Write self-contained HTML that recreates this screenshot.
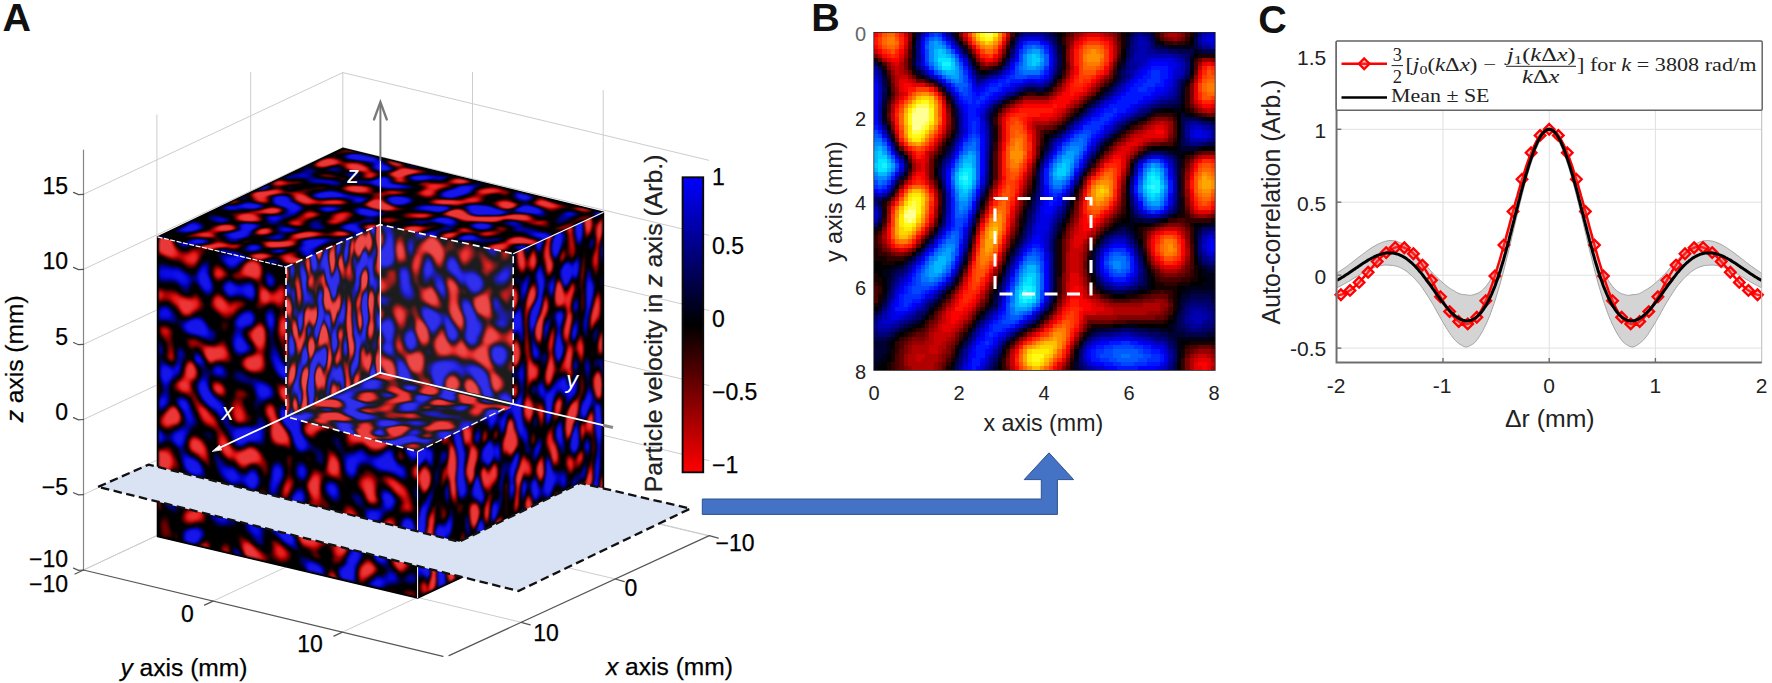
<!DOCTYPE html>
<html><head><meta charset="utf-8"><title>Figure</title><style>html,body{margin:0;padding:0;background:#fff;overflow:hidden}svg{display:block}</style></head><body>
<svg width="1772" height="683" viewBox="0 0 1772 683">
<defs>
<filter id="tTop" x="0" y="0" width="100%" height="100%" color-interpolation-filters="sRGB"><feTurbulence type="fractalNoise" baseFrequency="0.062 0.062" numOctaves="1" seed="11"/><feColorMatrix type="matrix" values="1 -1 0.6 -0.6 0.5 0 0 0 0 0 0 0 0 0 0 0 0 0 0 1" result="nR"/><feGaussianBlur in="nR" stdDeviation="10.5"/><feColorMatrix type="matrix" values="0 0 0 0 0 1 0 0 0 0 0 0 0 0 0 0 0 0 0 1" result="bG"/><feComposite operator="arithmetic" in="nR" in2="bG" k1="0" k2="1" k3="1" k4="0"/><feColorMatrix type="matrix" values="1.35 -1.35 0 0 0.5 1.35 -1.35 0 0 0.5 1.35 -1.35 0 0 0.5 0 0 0 0 1"/><feComponentTransfer><feFuncR type="table" tableValues="0.09 0.09 0.09 0.09 0.09 0.09 0.09 0.09 0.09 0.09 0.09 0.09 0.09 0.09 0.09 0.09 0.087 0.081 0.074 0.068 0.062 0.056 0.049 0.043 0.037 0.031 0.024 0.018 0.012 0.006 0 0 0 0 0 0 0 0 0 0 0 0 0 0 0 0 0 0 0 0 0 0 0 0 0 0 0 0 0.044 0.111 0.172 0.229 0.283 0.336 0.387 0.437 0.486 0.534 0.582 0.629 0.675 0.72 0.766 0.81 0.854 0.898 0.92 0.92 0.92 0.92 0.92 0.92 0.92 0.92 0.92 0.92 0.92 0.92 0.92 0.92 0.92 0.92 0.92 0.92 0.92 0.92 0.92 0.92 0.92 0.92 0.92"/><feFuncG type="table" tableValues="0.09 0.09 0.09 0.09 0.09 0.09 0.09 0.09 0.09 0.09 0.09 0.09 0.09 0.09 0.09 0.09 0.087 0.081 0.074 0.068 0.062 0.056 0.049 0.043 0.037 0.031 0.024 0.018 0.012 0.006 0 0 0 0 0 0 0 0 0 0 0 0 0 0 0 0 0 0 0 0 0 0 0 0 0 0 0 0 0 0 0 0 0 0 0 0 0 0 0 0 0 0.014 0.029 0.044 0.06 0.075 0.09 0.105 0.121 0.136 0.151 0.167 0.182 0.197 0.212 0.22 0.22 0.22 0.22 0.22 0.22 0.22 0.22 0.22 0.22 0.22 0.22 0.22 0.22 0.22 0.22"/><feFuncB type="table" tableValues="0.92 0.92 0.92 0.92 0.92 0.92 0.92 0.92 0.92 0.92 0.92 0.92 0.92 0.92 0.92 0.92 0.92 0.92 0.92 0.92 0.92 0.92 0.92 0.92 0.92 0.898 0.854 0.81 0.766 0.72 0.675 0.629 0.582 0.534 0.486 0.437 0.387 0.336 0.283 0.229 0.172 0.111 0.044 0 0 0 0 0 0 0 0 0 0 0 0 0 0 0 0 0 0 0 0 0 0 0 0 0 0 0 0 0.014 0.029 0.044 0.06 0.075 0.09 0.105 0.121 0.136 0.151 0.167 0.182 0.197 0.212 0.22 0.22 0.22 0.22 0.22 0.22 0.22 0.22 0.22 0.22 0.22 0.22 0.22 0.22 0.22 0.22"/></feComponentTransfer><feGaussianBlur stdDeviation="0.85"/></filter>
<filter id="tLeft" x="0" y="0" width="100%" height="100%" color-interpolation-filters="sRGB"><feTurbulence type="fractalNoise" baseFrequency="0.07 0.064" numOctaves="1" seed="5"/><feColorMatrix type="matrix" values="1 -1 0.6 -0.6 0.5 0 0 0 0 0 0 0 0 0 0 0 0 0 0 1" result="nR"/><feGaussianBlur in="nR" stdDeviation="9.5"/><feColorMatrix type="matrix" values="0 0 0 0 0 1 0 0 0 0 0 0 0 0 0 0 0 0 0 1" result="bG"/><feComposite operator="arithmetic" in="nR" in2="bG" k1="0" k2="1" k3="1" k4="0"/><feColorMatrix type="matrix" values="1.35 -1.35 0 0 0.5 1.35 -1.35 0 0 0.5 1.35 -1.35 0 0 0.5 0 0 0 0 1"/><feComponentTransfer><feFuncR type="table" tableValues="0.09 0.09 0.09 0.09 0.09 0.09 0.09 0.09 0.09 0.09 0.09 0.09 0.09 0.09 0.09 0.09 0.087 0.081 0.074 0.068 0.062 0.056 0.049 0.043 0.037 0.031 0.024 0.018 0.012 0.006 0 0 0 0 0 0 0 0 0 0 0 0 0 0 0 0 0 0 0 0 0 0 0 0 0 0 0 0 0.044 0.111 0.172 0.229 0.283 0.336 0.387 0.437 0.486 0.534 0.582 0.629 0.675 0.72 0.766 0.81 0.854 0.898 0.92 0.92 0.92 0.92 0.92 0.92 0.92 0.92 0.92 0.92 0.92 0.92 0.92 0.92 0.92 0.92 0.92 0.92 0.92 0.92 0.92 0.92 0.92 0.92 0.92"/><feFuncG type="table" tableValues="0.09 0.09 0.09 0.09 0.09 0.09 0.09 0.09 0.09 0.09 0.09 0.09 0.09 0.09 0.09 0.09 0.087 0.081 0.074 0.068 0.062 0.056 0.049 0.043 0.037 0.031 0.024 0.018 0.012 0.006 0 0 0 0 0 0 0 0 0 0 0 0 0 0 0 0 0 0 0 0 0 0 0 0 0 0 0 0 0 0 0 0 0 0 0 0 0 0 0 0 0 0.014 0.029 0.044 0.06 0.075 0.09 0.105 0.121 0.136 0.151 0.167 0.182 0.197 0.212 0.22 0.22 0.22 0.22 0.22 0.22 0.22 0.22 0.22 0.22 0.22 0.22 0.22 0.22 0.22 0.22"/><feFuncB type="table" tableValues="0.92 0.92 0.92 0.92 0.92 0.92 0.92 0.92 0.92 0.92 0.92 0.92 0.92 0.92 0.92 0.92 0.92 0.92 0.92 0.92 0.92 0.92 0.92 0.92 0.92 0.898 0.854 0.81 0.766 0.72 0.675 0.629 0.582 0.534 0.486 0.437 0.387 0.336 0.283 0.229 0.172 0.111 0.044 0 0 0 0 0 0 0 0 0 0 0 0 0 0 0 0 0 0 0 0 0 0 0 0 0 0 0 0 0.014 0.029 0.044 0.06 0.075 0.09 0.105 0.121 0.136 0.151 0.167 0.182 0.197 0.212 0.22 0.22 0.22 0.22 0.22 0.22 0.22 0.22 0.22 0.22 0.22 0.22 0.22 0.22 0.22 0.22"/></feComponentTransfer><feGaussianBlur stdDeviation="0.85"/></filter>
<filter id="tRight" x="0" y="0" width="100%" height="100%" color-interpolation-filters="sRGB"><feTurbulence type="fractalNoise" baseFrequency="0.095 0.052" numOctaves="1" seed="8"/><feColorMatrix type="matrix" values="1 -1 0.6 -0.6 0.5 0 0 0 0 0 0 0 0 0 0 0 0 0 0 1" result="nR"/><feGaussianBlur in="nR" stdDeviation="6.5 12"/><feColorMatrix type="matrix" values="0 0 0 0 0 1 0 0 0 0 0 0 0 0 0 0 0 0 0 1" result="bG"/><feComposite operator="arithmetic" in="nR" in2="bG" k1="0" k2="1" k3="1" k4="0"/><feColorMatrix type="matrix" values="1.65 -1.65 0 0 0.5 1.65 -1.65 0 0 0.5 1.65 -1.65 0 0 0.5 0 0 0 0 1"/><feComponentTransfer><feFuncR type="table" tableValues="0.09 0.09 0.09 0.09 0.09 0.09 0.09 0.09 0.09 0.09 0.09 0.09 0.09 0.09 0.09 0.09 0.087 0.081 0.074 0.068 0.062 0.056 0.049 0.043 0.037 0.031 0.024 0.018 0.012 0.006 0 0 0 0 0 0 0 0 0 0 0 0 0 0 0 0 0 0 0 0 0 0 0 0 0 0 0 0 0.044 0.111 0.172 0.229 0.283 0.336 0.387 0.437 0.486 0.534 0.582 0.629 0.675 0.72 0.766 0.81 0.854 0.898 0.92 0.92 0.92 0.92 0.92 0.92 0.92 0.92 0.92 0.92 0.92 0.92 0.92 0.92 0.92 0.92 0.92 0.92 0.92 0.92 0.92 0.92 0.92 0.92 0.92"/><feFuncG type="table" tableValues="0.09 0.09 0.09 0.09 0.09 0.09 0.09 0.09 0.09 0.09 0.09 0.09 0.09 0.09 0.09 0.09 0.087 0.081 0.074 0.068 0.062 0.056 0.049 0.043 0.037 0.031 0.024 0.018 0.012 0.006 0 0 0 0 0 0 0 0 0 0 0 0 0 0 0 0 0 0 0 0 0 0 0 0 0 0 0 0 0 0 0 0 0 0 0 0 0 0 0 0 0 0.014 0.029 0.044 0.06 0.075 0.09 0.105 0.121 0.136 0.151 0.167 0.182 0.197 0.212 0.22 0.22 0.22 0.22 0.22 0.22 0.22 0.22 0.22 0.22 0.22 0.22 0.22 0.22 0.22 0.22"/><feFuncB type="table" tableValues="0.92 0.92 0.92 0.92 0.92 0.92 0.92 0.92 0.92 0.92 0.92 0.92 0.92 0.92 0.92 0.92 0.92 0.92 0.92 0.92 0.92 0.92 0.92 0.92 0.92 0.898 0.854 0.81 0.766 0.72 0.675 0.629 0.582 0.534 0.486 0.437 0.387 0.336 0.283 0.229 0.172 0.111 0.044 0 0 0 0 0 0 0 0 0 0 0 0 0 0 0 0 0 0 0 0 0 0 0 0 0 0 0 0 0.014 0.029 0.044 0.06 0.075 0.09 0.105 0.121 0.136 0.151 0.167 0.182 0.197 0.212 0.22 0.22 0.22 0.22 0.22 0.22 0.22 0.22 0.22 0.22 0.22 0.22 0.22 0.22 0.22 0.22"/></feComponentTransfer><feGaussianBlur stdDeviation="0.85"/></filter>
<filter id="tInL" x="0" y="0" width="100%" height="100%" color-interpolation-filters="sRGB"><feTurbulence type="fractalNoise" baseFrequency="0.125 0.062" numOctaves="1" seed="21"/><feColorMatrix type="matrix" values="1 -1 0.6 -0.6 0.5 0 0 0 0 0 0 0 0 0 0 0 0 0 0 1" result="nR"/><feGaussianBlur in="nR" stdDeviation="5.5 10"/><feColorMatrix type="matrix" values="0 0 0 0 0 1 0 0 0 0 0 0 0 0 0 0 0 0 0 1" result="bG"/><feComposite operator="arithmetic" in="nR" in2="bG" k1="0" k2="1" k3="1" k4="0"/><feColorMatrix type="matrix" values="1.45 -1.45 0 0 0.5 1.45 -1.45 0 0 0.5 1.45 -1.45 0 0 0.5 0 0 0 0 1"/><feComponentTransfer><feFuncR type="table" tableValues="0.09 0.09 0.09 0.09 0.09 0.09 0.09 0.09 0.09 0.09 0.09 0.09 0.09 0.09 0.09 0.09 0.09 0.09 0.09 0.09 0.083 0.077 0.07 0.064 0.057 0.05 0.044 0.037 0.03 0.024 0.017 0.011 0.004 0 0 0 0 0 0 0 0 0 0 0 0 0 0 0 0 0 0 0 0 0 0 0 0.046 0.117 0.18 0.24 0.297 0.353 0.406 0.459 0.51 0.561 0.611 0.66 0.708 0.756 0.804 0.851 0.897 0.92 0.92 0.92 0.92 0.92 0.92 0.92 0.92 0.92 0.92 0.92 0.92 0.92 0.92 0.92 0.92 0.92 0.92 0.92 0.92 0.92 0.92 0.92 0.92 0.92 0.92 0.92 0.92"/><feFuncG type="table" tableValues="0.09 0.09 0.09 0.09 0.09 0.09 0.09 0.09 0.09 0.09 0.09 0.09 0.09 0.09 0.09 0.09 0.09 0.09 0.09 0.09 0.083 0.077 0.07 0.064 0.057 0.05 0.044 0.037 0.03 0.024 0.017 0.011 0.004 0 0 0 0 0 0 0 0 0 0 0 0 0 0 0 0 0 0 0 0 0 0 0 0 0 0 0 0 0 0 0 0 0 0 0 0.009 0.024 0.038 0.053 0.068 0.082 0.097 0.112 0.126 0.141 0.156 0.171 0.185 0.2 0.2 0.2 0.2 0.2 0.2 0.2 0.2 0.2 0.2 0.2 0.2 0.2 0.2 0.2 0.2 0.2 0.2 0.2 0.2"/><feFuncB type="table" tableValues="0.92 0.92 0.92 0.92 0.92 0.92 0.92 0.92 0.92 0.92 0.92 0.92 0.92 0.92 0.92 0.92 0.92 0.92 0.92 0.92 0.92 0.92 0.92 0.92 0.92 0.92 0.92 0.92 0.897 0.851 0.804 0.756 0.708 0.66 0.611 0.561 0.51 0.459 0.406 0.353 0.297 0.24 0.18 0.117 0.046 0 0 0 0 0 0 0 0 0 0 0 0 0 0 0 0 0 0 0 0 0 0 0 0.009 0.024 0.038 0.053 0.068 0.082 0.097 0.112 0.126 0.141 0.156 0.171 0.185 0.2 0.2 0.2 0.2 0.2 0.2 0.2 0.2 0.2 0.2 0.2 0.2 0.2 0.2 0.2 0.2 0.2 0.2 0.2 0.2"/></feComponentTransfer><feGaussianBlur stdDeviation="0.6"/></filter>
<filter id="tInR" x="0" y="0" width="100%" height="100%" color-interpolation-filters="sRGB"><feTurbulence type="fractalNoise" baseFrequency="0.08 0.062" numOctaves="1" seed="31"/><feColorMatrix type="matrix" values="1 -1 0.6 -0.6 0.5 0 0 0 0 0 0 0 0 0 0 0 0 0 0 1" result="nR"/><feGaussianBlur in="nR" stdDeviation="8 10"/><feColorMatrix type="matrix" values="0 0 0 0 0 1 0 0 0 0 0 0 0 0 0 0 0 0 0 1" result="bG"/><feComposite operator="arithmetic" in="nR" in2="bG" k1="0" k2="1" k3="1" k4="0"/><feColorMatrix type="matrix" values="1.7 -1.7 0 0 0.5 1.7 -1.7 0 0 0.5 1.7 -1.7 0 0 0.5 0 0 0 0 1"/><feComponentTransfer><feFuncR type="table" tableValues="0.09 0.09 0.09 0.09 0.09 0.09 0.09 0.09 0.09 0.09 0.09 0.09 0.09 0.09 0.09 0.09 0.09 0.09 0.09 0.09 0.083 0.077 0.07 0.064 0.057 0.05 0.044 0.037 0.03 0.024 0.017 0.011 0.004 0 0 0 0 0 0 0 0 0 0 0 0 0 0 0 0 0 0 0 0 0 0 0 0.046 0.117 0.18 0.24 0.297 0.353 0.406 0.459 0.51 0.561 0.611 0.66 0.708 0.756 0.804 0.851 0.897 0.92 0.92 0.92 0.92 0.92 0.92 0.92 0.92 0.92 0.92 0.92 0.92 0.92 0.92 0.92 0.92 0.92 0.92 0.92 0.92 0.92 0.92 0.92 0.92 0.92 0.92 0.92 0.92"/><feFuncG type="table" tableValues="0.09 0.09 0.09 0.09 0.09 0.09 0.09 0.09 0.09 0.09 0.09 0.09 0.09 0.09 0.09 0.09 0.09 0.09 0.09 0.09 0.083 0.077 0.07 0.064 0.057 0.05 0.044 0.037 0.03 0.024 0.017 0.011 0.004 0 0 0 0 0 0 0 0 0 0 0 0 0 0 0 0 0 0 0 0 0 0 0 0 0 0 0 0 0 0 0 0 0 0 0 0.009 0.024 0.038 0.053 0.068 0.082 0.097 0.112 0.126 0.141 0.156 0.171 0.185 0.2 0.2 0.2 0.2 0.2 0.2 0.2 0.2 0.2 0.2 0.2 0.2 0.2 0.2 0.2 0.2 0.2 0.2 0.2 0.2"/><feFuncB type="table" tableValues="0.92 0.92 0.92 0.92 0.92 0.92 0.92 0.92 0.92 0.92 0.92 0.92 0.92 0.92 0.92 0.92 0.92 0.92 0.92 0.92 0.92 0.92 0.92 0.92 0.92 0.92 0.92 0.92 0.897 0.851 0.804 0.756 0.708 0.66 0.611 0.561 0.51 0.459 0.406 0.353 0.297 0.24 0.18 0.117 0.046 0 0 0 0 0 0 0 0 0 0 0 0 0 0 0 0 0 0 0 0 0 0 0 0.009 0.024 0.038 0.053 0.068 0.082 0.097 0.112 0.126 0.141 0.156 0.171 0.185 0.2 0.2 0.2 0.2 0.2 0.2 0.2 0.2 0.2 0.2 0.2 0.2 0.2 0.2 0.2 0.2 0.2 0.2 0.2 0.2"/></feComponentTransfer><feGaussianBlur stdDeviation="0.6"/></filter>
<filter id="tFl" x="0" y="0" width="100%" height="100%" color-interpolation-filters="sRGB"><feTurbulence type="fractalNoise" baseFrequency="0.066 0.066" numOctaves="1" seed="41"/><feColorMatrix type="matrix" values="1 -1 0.6 -0.6 0.5 0 0 0 0 0 0 0 0 0 0 0 0 0 0 1" result="nR"/><feGaussianBlur in="nR" stdDeviation="9.5"/><feColorMatrix type="matrix" values="0 0 0 0 0 1 0 0 0 0 0 0 0 0 0 0 0 0 0 1" result="bG"/><feComposite operator="arithmetic" in="nR" in2="bG" k1="0" k2="1" k3="1" k4="0"/><feColorMatrix type="matrix" values="1.45 -1.45 0 0 0.5 1.45 -1.45 0 0 0.5 1.45 -1.45 0 0 0.5 0 0 0 0 1"/><feComponentTransfer><feFuncR type="table" tableValues="0.09 0.09 0.09 0.09 0.09 0.09 0.09 0.09 0.09 0.09 0.09 0.09 0.09 0.09 0.09 0.09 0.09 0.09 0.09 0.09 0.083 0.077 0.07 0.064 0.057 0.05 0.044 0.037 0.03 0.024 0.017 0.011 0.004 0 0 0 0 0 0 0 0 0 0 0 0 0 0 0 0 0 0 0 0 0 0 0 0.046 0.117 0.18 0.24 0.297 0.353 0.406 0.459 0.51 0.561 0.611 0.66 0.708 0.756 0.804 0.851 0.897 0.92 0.92 0.92 0.92 0.92 0.92 0.92 0.92 0.92 0.92 0.92 0.92 0.92 0.92 0.92 0.92 0.92 0.92 0.92 0.92 0.92 0.92 0.92 0.92 0.92 0.92 0.92 0.92"/><feFuncG type="table" tableValues="0.09 0.09 0.09 0.09 0.09 0.09 0.09 0.09 0.09 0.09 0.09 0.09 0.09 0.09 0.09 0.09 0.09 0.09 0.09 0.09 0.083 0.077 0.07 0.064 0.057 0.05 0.044 0.037 0.03 0.024 0.017 0.011 0.004 0 0 0 0 0 0 0 0 0 0 0 0 0 0 0 0 0 0 0 0 0 0 0 0 0 0 0 0 0 0 0 0 0 0 0 0.007 0.018 0.029 0.04 0.051 0.062 0.073 0.084 0.095 0.106 0.117 0.128 0.139 0.15 0.15 0.15 0.15 0.15 0.15 0.15 0.15 0.15 0.15 0.15 0.15 0.15 0.15 0.15 0.15 0.15 0.15 0.15 0.15"/><feFuncB type="table" tableValues="0.92 0.92 0.92 0.92 0.92 0.92 0.92 0.92 0.92 0.92 0.92 0.92 0.92 0.92 0.92 0.92 0.92 0.92 0.92 0.92 0.92 0.92 0.92 0.92 0.92 0.92 0.92 0.92 0.897 0.851 0.804 0.756 0.708 0.66 0.611 0.561 0.51 0.459 0.406 0.353 0.297 0.24 0.18 0.117 0.046 0 0 0 0 0 0 0 0 0 0 0 0 0 0 0 0 0 0 0 0 0 0 0 0.007 0.018 0.029 0.04 0.051 0.062 0.073 0.084 0.095 0.106 0.117 0.128 0.139 0.15 0.15 0.15 0.15 0.15 0.15 0.15 0.15 0.15 0.15 0.15 0.15 0.15 0.15 0.15 0.15 0.15 0.15 0.15 0.15"/></feComponentTransfer><feGaussianBlur stdDeviation="0.6"/></filter>
<filter id="soft" x="-5%" y="-5%" width="110%" height="110%"><feGaussianBlur stdDeviation="0.9"/></filter>
<clipPath id="cpT"><polygon points="0,0 200,0 200,100 100,100 100,200 0,200"/></clipPath>
<clipPath id="cpL"><polygon points="0,0 100,0 100,100 200,100 200,200 0,200"/></clipPath>
<clipPath id="cpR"><polygon points="100,0 200,0 200,200 0,200 0,100 100,100"/></clipPath>
<clipPath id="cpIL"><polygon points="0,0 100,0 100,100 0,100"/></clipPath>
<clipPath id="cpIR"><polygon points="0,0 100,0 100,100 0,100"/></clipPath>
<clipPath id="cpFL"><polygon points="0,0 100,0 100,100 0,100"/></clipPath>
<clipPath id="cpCube"><polygon points="157.6,236.9 342.7,148.3 603.5,212.2 603.5,511.5 417.6,598.0 157.5,536.5"/></clipPath>
<linearGradient id="cbar" x1="0" y1="0" x2="0" y2="1"><stop offset="0" stop-color="#0000ff"/><stop offset="0.5" stop-color="#000"/><stop offset="1" stop-color="#ff0000"/></linearGradient>
<filter id="hb" x="0" y="0" width="100%" height="100%"><feGaussianBlur stdDeviation="0.75"/></filter>
<clipPath id="cpC"><rect x="1330.8" y="41.3" width="436.9" height="321.2"/></clipPath>
</defs>
<g stroke="#cdcdcd" stroke-width="1" fill="none"><line x1="83.5" y1="194.3" x2="342.8" y2="72.6"/><line x1="83.5" y1="269.3" x2="342.8" y2="147.6"/><line x1="83.5" y1="344.4" x2="342.8" y2="222.7"/><line x1="83.5" y1="419.5" x2="342.8" y2="297.8"/><line x1="83.5" y1="494.6" x2="342.8" y2="372.9"/><line x1="83.5" y1="570.0" x2="342.8" y2="448.3"/><line x1="342.8" y1="72.6" x2="709.3" y2="160.4"/><line x1="342.8" y1="147.6" x2="709.3" y2="235.4"/><line x1="342.8" y1="222.7" x2="709.3" y2="310.5"/><line x1="342.8" y1="297.8" x2="709.3" y2="385.6"/><line x1="342.8" y1="372.9" x2="709.3" y2="460.7"/><line x1="342.8" y1="448.3" x2="709.3" y2="536.1"/><line x1="156.9" y1="114.5" x2="156.9" y2="536.5"/><line x1="250.7" y1="72" x2="250.7" y2="492"/><line x1="342.8" y1="72" x2="342.8" y2="448.3"/><line x1="472.5" y1="72" x2="472.5" y2="479.5"/><line x1="603.2" y1="90.1" x2="603.2" y2="511"/><line x1="157.6" y1="535.2" x2="521.2" y2="622.3"/><line x1="250.2" y1="491.8" x2="615.3" y2="579.0"/><line x1="342.8" y1="448.3" x2="709.3" y2="535.6"/><line x1="83.5" y1="570.0" x2="342.8" y2="448.3"/><line x1="213.0" y1="601.1" x2="473.7" y2="479.5"/><line x1="342.4" y1="632.1" x2="604.6" y2="510.7"/></g><g stroke="#555" stroke-width="1.2" fill="none" stroke-linecap="round"><line x1="83.5" y1="150" x2="83.5" y2="570.0" stroke="#858585"/><line x1="83.5" y1="570.0" x2="443.0" y2="656.3"/><line x1="449.0" y1="655.6" x2="709.3" y2="535.6"/><path d="M83.5 194.3 l-5 0.3 l-5 -2.2"/><path d="M83.5 269.3 l-5 0.3 l-5 -2.2"/><path d="M83.5 344.4 l-5 0.3 l-5 -2.2"/><path d="M83.5 419.5 l-5 0.3 l-5 -2.2"/><path d="M83.5 494.6 l-5 0.3 l-5 -2.2"/><path d="M83.5 570.0 l-5 0.3 l-5 -2.2"/><line x1="83.5" y1="570.0" x2="75.0" y2="574.0"/><line x1="213.0" y1="601.1" x2="204.5" y2="605.1"/><line x1="342.4" y1="632.1" x2="333.9" y2="636.1"/><line x1="521.2" y1="622.3" x2="530.2" y2="624.9"/><line x1="615.3" y1="579.0" x2="624.3" y2="581.6"/><line x1="709.3" y1="535.6" x2="718.3" y2="538.2"/></g>
<polygon points="157.6,236.9 342.7,148.3 603.5,212.2 603.5,511.5 417.6,598.0 157.5,536.5" fill="#000"/><g transform="matrix(1.3040 0.3195 -0.9255 0.4430 342.70 148.30)"><g clip-path="url(#cpT)"><rect x="-30" y="-30" width="260" height="260" fill="#200" filter="url(#tTop)"/></g></g><g transform="matrix(1.3000 0.3045 -0.0005 1.4980 157.60 236.90)"><g clip-path="url(#cpL)"><rect x="-30" y="-30" width="260" height="260" fill="#200" filter="url(#tLeft)"/></g></g><g transform="matrix(0.9295 -0.4280 0.0000 1.5010 417.60 297.80)"><g clip-path="url(#cpR)"><rect x="-30" y="-30" width="260" height="260" fill="#200" filter="url(#tRight)"/></g></g><g transform="matrix(0.9390 -0.4240 0.0000 1.4970 286.00 267.00)"><g clip-path="url(#cpIL)"><rect x="-30" y="-30" width="160" height="160" fill="#200" filter="url(#tInL)"/></g></g><g transform="matrix(1.3330 0.2910 0.0000 1.4820 379.90 224.60)"><g clip-path="url(#cpIR)"><rect x="-30" y="-30" width="160" height="160" fill="#200" filter="url(#tInR)"/></g></g><g transform="matrix(1.3160 0.3470 -0.9390 0.4390 379.90 372.80)"><g clip-path="url(#cpFL)"><rect x="-30" y="-30" width="160" height="160" fill="#200" filter="url(#tFl)"/></g></g><g clip-path="url(#cpCube)"><polygon points="157.6,236.9 342.7,148.3 603.5,212.2 603.5,511.5 417.6,598.0 157.5,536.5" fill="none" stroke="#000" stroke-width="3" stroke-opacity="0.85" stroke-linejoin="round" filter="url(#soft)"/></g><polygon points="157.6,236.9 342.7,148.3 603.5,212.2 603.5,511.5 417.6,598.0 157.5,536.5" fill="none" stroke="#000" stroke-width="1.4" stroke-linejoin="round"/>
<polygon points="286.0,267.0 379.9,224.6 513.2,253.7 511.5,407.5 417.6,451.6 286.0,416.7" fill="#fff" opacity="0.11"/>
<g fill="none" stroke="#fff" stroke-width="1.6" stroke-dasharray="7 4"><polyline points="286.0,267.0 379.9,224.6 513.2,253.7 513.2,403.5"/><line x1="157.6" y1="236.9" x2="286.0" y2="267.0" stroke-width="1.2" stroke-dasharray="5 1.5"/><polyline points="286.0,267.0 286.0,416.7 417.6,451.6"/></g><g fill="none" stroke="#fff" stroke-width="1.2"><line x1="513.2" y1="253.7" x2="603.5" y2="212.2"/><line x1="417.6" y1="451.6" x2="417.6" y2="598.0" stroke-width="1"/><line x1="417.6" y1="451.6" x2="505.5" y2="408.1" stroke-width="1.3" stroke-dasharray="7 3"/></g>
<g fill="none" stroke-linecap="round"><line x1="380.4" y1="372.8" x2="380.4" y2="160" stroke="#fff" stroke-width="1.3"/><line x1="380.4" y1="160" x2="380.4" y2="103" stroke="#787878" stroke-width="2"/><polyline points="374,119.5 380.4,102 386.8,119.5" stroke="#787878" stroke-width="2.3" stroke-linejoin="miter"/><line x1="379.9" y1="372.8" x2="216" y2="449.5" stroke="#fff" stroke-width="1.9"/><polygon points="212.5,451.2 219.5,445.2 221.5,449.6" fill="#fff" stroke="#fff" stroke-width="0.8"/><line x1="379.9" y1="372.8" x2="603" y2="425.2" stroke="#fff" stroke-width="1.9"/><line x1="603" y1="425.2" x2="613" y2="427.5" stroke="#8a8a8a" stroke-width="3.2" stroke-linecap="butt"/></g><g font-family='"Liberation Sans", Arial, sans-serif' font-style="italic" font-size="23.5" fill="#fff" text-anchor="middle"><text x="353" y="183">z</text><text x="227.5" y="419.5">x</text><text x="572" y="388">y</text></g>
<polygon points="98.1,486.9 148.6,464.6 459.2,541.8 580.2,483.0 690.3,508.6 518.5,591.0" fill="#dae3f3" stroke="#111" stroke-width="2.3" stroke-dasharray="8.5 4.5" stroke-linejoin="miter"/>
<rect x="682.6" y="177.3" width="20.6" height="295" fill="url(#cbar)" stroke="#0a0a0a" stroke-width="1.9"/>
<g font-family='"Liberation Sans", Arial, sans-serif' font-size="23" fill="#000" stroke="#000" stroke-width="0.25"><text x="712" y="184.6">1</text><text x="712" y="254.0">0.5</text><text x="712" y="327.1">0</text><text x="712" y="400.2">−0.5</text><text x="712" y="473.4">−1</text><text transform="translate(662,323.4) rotate(-90)" text-anchor="middle" fill="#222" font-size="24.8">Particle velocity in <tspan font-style="italic">z</tspan> axis (Arb.)</text><text x="68" y="194.3" text-anchor="end">15</text><text x="68" y="269.3" text-anchor="end">10</text><text x="68" y="344.6" text-anchor="end">5</text><text x="68" y="419.6" text-anchor="end">0</text><text x="68" y="494.6" text-anchor="end">−5</text><text x="68" y="567.1" text-anchor="end">−10</text><text x="68" y="592.1" text-anchor="end">−10</text><text x="187.5" y="622.1" text-anchor="middle">0</text><text x="310" y="652.1" text-anchor="middle">10</text><text x="546" y="640.6" text-anchor="middle">10</text><text x="631" y="596.1" text-anchor="middle">0</text><text x="735" y="551.0" text-anchor="middle">−10</text><text x="184" y="676" text-anchor="middle" font-size="24.6"><tspan font-style="italic">y</tspan> axis (mm)</text><text x="669.5" y="674.5" text-anchor="middle" font-size="24.6"><tspan font-style="italic">x</tspan> axis (mm)</text><text transform="translate(23,358.8) rotate(-90)" text-anchor="middle" font-size="24.6"><tspan font-style="italic">z</tspan> axis (mm)</text></g>
<polygon points="702.3,499.0 1041.3,499.0 1041.3,479.6 1024.2,479.6 1049.0,452.8 1073.6,479.6 1057.4,479.6 1057.4,514.4 702.3,514.4" fill="#4472c4" stroke="#2f528f" stroke-width="1"/>
<g filter="url(#hb)"><g transform="translate(873.8,32.4) scale(4.26750,4.22500)" shape-rendering="crispEdges"><rect width="80" height="80" fill="#000"/><path fill="#fd0000" d="M0 0h1v1h-1zM49 1h1v1h-1zM53 1h1v1h-1zM48 2h1v1h-1zM0 3h1v1h-1zM47 3h1v1h-1zM55 3h1v1h-1zM1 4h1v1h-1zM6 4h1v1h-1zM24 4h1v1h-1zM55 4h1v1h-1zM2 5h1v1h-1zM28 5h1v1h-1zM55 5h1v1h-1zM4 6h2v1h-2zM26 6h2v1h-2zM55 6h1v1h-1zM78 7h1v1h-1zM47 8h1v1h-1zM54 8h1v1h-1zM47 9h1v1h-1zM52 10h1v1h-1zM76 10h1v1h-1zM46 11h1v1h-1zM51 11h1v1h-1zM7 12h2v1h-2zM50 12h1v1h-1zM7 13h1v1h-1zM45 13h1v1h-1zM49 13h1v1h-1zM44 14h2v1h-2zM47 14h1v1h-1zM43 15h4v1h-4zM42 16h4v1h-4zM76 16h1v1h-1zM5 17h1v1h-1zM35 17h7v1h-7zM43 17h2v1h-2zM77 17h2v1h-2zM16 18h1v1h-1zM33 18h1v1h-1zM42 18h1v1h-1zM16 19h1v1h-1zM31 19h1v1h-1zM39 19h3v1h-3zM16 20h1v1h-1zM36 20h1v1h-1zM16 21h1v1h-1zM5 22h1v1h-1zM36 23h1v1h-1zM66 23h2v1h-2zM14 25h1v1h-1zM30 26h1v1h-1zM30 27h1v1h-1zM9 28h1v1h-1zM11 29h1v1h-1zM56 29h2v1h-2zM36 30h1v1h-1zM55 30h1v1h-1zM76 30h1v1h-1zM75 31h1v1h-1zM10 33h2v1h-2zM9 34h1v1h-1zM11 34h1v1h-1zM30 34h1v1h-1zM57 34h1v1h-1zM74 34h1v1h-1zM34 35h1v1h-1zM50 35h1v1h-1zM7 36h1v1h-1zM29 36h1v1h-1zM13 37h1v1h-1zM74 37h1v1h-1zM33 38h1v1h-1zM49 38h1v1h-1zM49 39h1v1h-1zM32 41h1v1h-1zM55 41h1v1h-1zM75 41h1v1h-1zM79 41h1v1h-1zM54 42h1v1h-1zM13 43h1v1h-1zM26 43h1v1h-1zM49 43h1v1h-1zM53 43h1v1h-1zM49 44h1v1h-1zM52 44h1v1h-1zM25 45h1v1h-1zM49 45h3v1h-3zM3 46h1v1h-1zM31 46h1v1h-1zM49 46h2v1h-2zM3 47h1v1h-1zM11 47h1v1h-1zM67 47h1v1h-1zM3 48h1v1h-1zM10 48h1v1h-1zM24 49h1v1h-1zM30 49h1v1h-1zM65 49h1v1h-1zM72 49h1v1h-1zM4 50h1v1h-1zM65 50h1v1h-1zM72 50h1v1h-1zM65 51h1v1h-1zM72 51h1v1h-1zM72 52h1v1h-1zM66 53h1v1h-1zM28 54h1v1h-1zM67 54h1v1h-1zM71 54h1v1h-1zM27 56h1v1h-1zM22 57h1v1h-1zM26 58h1v1h-1zM21 60h1v1h-1zM25 60h1v1h-1zM47 60h1v1h-1zM46 61h2v1h-2zM20 62h1v1h-1zM46 62h3v1h-3zM23 63h1v1h-1zM48 63h2v1h-2zM19 64h1v1h-1zM22 64h1v1h-1zM45 64h1v1h-1zM48 64h3v1h-3zM21 65h1v1h-1zM44 65h1v1h-1zM49 65h2v1h-2zM18 66h3v1h-3zM48 66h1v1h-1zM18 67h2v1h-2zM43 67h1v1h-1zM48 67h1v1h-1zM18 68h1v1h-1zM42 68h1v1h-1zM41 69h1v1h-1zM47 70h1v1h-1zM38 71h1v1h-1zM36 72h1v1h-1zM46 72h1v1h-1zM45 74h1v1h-1zM33 75h1v1h-1zM76 78h2v1h-2zM33 79h1v1h-1zM42 79h1v1h-1zM77 79h1v1h-1z"/><path fill="#ff2800" d="M1 0h1v1h-1zM6 1h1v1h-1zM6 2h1v1h-1zM49 2h1v1h-1zM53 2h1v1h-1zM1 3h1v1h-1zM48 3h1v1h-1zM54 3h1v1h-1zM2 4h1v1h-1zM5 4h1v1h-1zM4 5h1v1h-1zM26 5h1v1h-1zM54 7h1v1h-1zM79 8h1v1h-1zM52 9h1v1h-1zM77 9h1v1h-1zM51 10h1v1h-1zM47 11h1v1h-1zM49 11h2v1h-2zM47 12h2v1h-2zM8 14h1v1h-1zM14 14h1v1h-1zM76 14h1v1h-1zM76 15h1v1h-1zM77 16h2v1h-2zM5 19h1v1h-1zM33 19h3v1h-3zM34 20h1v1h-1zM31 21h1v1h-1zM15 22h1v1h-1zM31 22h1v1h-1zM35 22h1v1h-1zM31 23h1v1h-1zM14 24h1v1h-1zM31 24h1v1h-1zM31 25h1v1h-1zM7 26h1v1h-1zM36 26h1v1h-1zM36 27h1v1h-1zM10 28h1v1h-1zM77 30h2v1h-2zM35 31h1v1h-1zM55 31h2v1h-2zM34 33h1v1h-1zM10 35h1v1h-1zM33 35h1v1h-1zM12 36h1v1h-1zM30 36h1v1h-1zM33 36h1v1h-1zM50 36h1v1h-1zM56 37h1v1h-1zM13 38h1v1h-1zM29 38h1v1h-1zM56 38h1v1h-1zM32 39h1v1h-1zM75 39h1v1h-1zM5 40h1v1h-1zM13 40h1v1h-1zM28 40h1v1h-1zM55 40h1v1h-1zM76 41h3v1h-3zM4 42h1v1h-1zM27 42h1v1h-1zM53 42h1v1h-1zM31 43h1v1h-1zM50 43h1v1h-1zM52 43h1v1h-1zM26 44h1v1h-1zM11 46h1v1h-1zM4 49h1v1h-1zM66 49h1v1h-1zM71 49h1v1h-1zM5 50h1v1h-1zM7 50h1v1h-1zM29 50h1v1h-1zM24 51h1v1h-1zM66 52h1v1h-1zM28 53h1v1h-1zM67 53h1v1h-1zM71 53h1v1h-1zM68 54h2v1h-2zM23 55h1v1h-1zM27 55h1v1h-1zM25 58h1v1h-1zM22 59h1v1h-1zM22 60h1v1h-1zM24 60h1v1h-1zM22 61h2v1h-2zM21 62h2v1h-2zM21 63h1v1h-1zM46 65h2v1h-2zM45 66h1v1h-1zM47 66h1v1h-1zM44 67h1v1h-1zM47 67h1v1h-1zM43 68h1v1h-1zM47 68h1v1h-1zM46 70h1v1h-1zM39 71h1v1h-1zM37 72h1v1h-1zM45 73h1v1h-1zM44 75h1v1h-1zM33 77h1v1h-1zM43 77h1v1h-1zM42 78h1v1h-1z"/><path fill="#ff5200" d="M2 0h1v1h-1zM5 1h1v1h-1zM29 2h1v1h-1zM2 3h1v1h-1zM5 3h1v1h-1zM49 3h1v1h-1zM53 3h1v1h-1zM4 4h1v1h-1zM53 7h1v1h-1zM52 8h1v1h-1zM49 9h3v1h-3zM78 9h1v1h-1zM78 10h2v1h-2zM77 11h1v1h-1zM9 14h1v1h-1zM77 14h1v1h-1zM8 15h1v1h-1zM77 15h2v1h-2zM7 16h1v1h-1zM15 17h1v1h-1zM6 18h1v1h-1zM15 18h1v1h-1zM15 19h1v1h-1zM15 21h1v1h-1zM33 21h1v1h-1zM6 22h1v1h-1zM32 22h3v1h-3zM14 23h1v1h-1zM32 23h1v1h-1zM34 23h1v1h-1zM32 24h1v1h-1zM35 24h1v1h-1zM35 25h1v1h-1zM12 26h1v1h-1zM35 26h1v1h-1zM10 27h1v1h-1zM31 27h1v1h-1zM35 27h1v1h-1zM31 28h1v1h-1zM31 29h1v1h-1zM35 29h1v1h-1zM31 30h1v1h-1zM31 31h1v1h-1zM34 31h1v1h-1zM77 31h2v1h-2zM55 32h1v1h-1zM76 32h1v1h-1zM79 32h1v1h-1zM32 33h2v1h-2zM32 34h1v1h-1zM75 34h1v1h-1zM51 35h1v1h-1zM75 35h1v1h-1zM11 36h1v1h-1zM31 36h1v1h-1zM75 36h1v1h-1zM12 37h1v1h-1zM31 37h1v1h-1zM75 37h1v1h-1zM30 38h2v1h-2zM50 38h1v1h-1zM79 38h1v1h-1zM6 39h1v1h-1zM30 39h2v1h-2zM50 39h1v1h-1zM55 39h1v1h-1zM76 39h1v1h-1zM29 40h1v1h-1zM50 40h1v1h-1zM77 40h1v1h-1zM28 41h1v1h-1zM50 41h1v1h-1zM53 41h1v1h-1zM51 42h2v1h-2zM12 43h1v1h-1zM27 43h1v1h-1zM26 45h1v1h-1zM30 45h1v1h-1zM4 46h1v1h-1zM30 46h1v1h-1zM4 47h1v1h-1zM4 48h1v1h-1zM9 48h1v1h-1zM25 48h1v1h-1zM68 48h2v1h-2zM8 49h1v1h-1zM29 49h1v1h-1zM67 49h1v1h-1zM67 52h1v1h-1zM24 53h1v1h-1zM68 53h2v1h-2zM24 54h1v1h-1zM24 55h1v1h-1zM26 55h1v1h-1zM24 56h2v1h-2zM24 57h2v1h-2zM24 58h1v1h-1zM44 68h2v1h-2zM43 69h1v1h-1zM45 69h1v1h-1zM45 70h1v1h-1zM45 71h1v1h-1zM44 74h1v1h-1zM34 75h1v1h-1zM43 76h1v1h-1zM42 77h1v1h-1zM34 78h1v1h-1z"/><path fill="#ff6700" d="M3 0h2v1h-2zM2 1h1v1h-1zM23 1h1v1h-1zM2 2h1v1h-1zM5 2h1v1h-1zM3 3h2v1h-2zM28 3h1v1h-1zM50 3h3v1h-3zM26 4h2v1h-2zM49 4h1v1h-1zM53 4h1v1h-1zM53 6h1v1h-1zM49 7h1v1h-1zM49 8h3v1h-3zM78 11h2v1h-2zM77 12h1v1h-1zM77 13h1v1h-1zM13 14h1v1h-1zM78 14h2v1h-2zM14 15h1v1h-1zM6 19h1v1h-1zM6 20h1v1h-1zM15 20h1v1h-1zM6 21h1v1h-1zM33 23h1v1h-1zM13 24h1v1h-1zM33 24h2v1h-2zM7 25h1v1h-1zM32 25h1v1h-1zM32 26h1v1h-1zM35 28h1v1h-1zM32 32h2v1h-2zM77 32h2v1h-2zM54 33h2v1h-2zM76 33h1v1h-1zM79 33h1v1h-1zM53 34h1v1h-1zM55 34h1v1h-1zM9 36h2v1h-2zM79 37h1v1h-1zM76 38h1v1h-1zM77 39h2v1h-2zM30 40h1v1h-1zM54 40h1v1h-1zM5 41h1v1h-1zM29 41h2v1h-2zM51 41h2v1h-2zM12 42h1v1h-1zM28 42h1v1h-1zM30 42h1v1h-1zM30 43h1v1h-1zM30 44h1v1h-1zM11 45h1v1h-1zM29 48h1v1h-1zM5 49h1v1h-1zM25 49h1v1h-1zM70 49h1v1h-1zM25 50h1v1h-1zM67 50h1v1h-1zM70 50h1v1h-1zM28 51h1v1h-1zM67 51h1v1h-1zM70 52h1v1h-1zM27 53h1v1h-1zM26 54h1v1h-1zM25 55h1v1h-1zM44 69h1v1h-1zM42 70h1v1h-1zM41 71h1v1h-1zM39 72h1v1h-1zM37 73h1v1h-1zM44 73h1v1h-1zM35 74h1v1h-1zM43 75h1v1h-1zM34 76h1v1h-1zM34 77h1v1h-1zM41 78h1v1h-1zM35 79h1v1h-1zM40 79h1v1h-1z"/><path fill="#ff3d00" d="M5 0h1v1h-1zM22 0h1v1h-1zM30 0h1v1h-1zM1 1h1v1h-1zM1 2h1v1h-1zM23 2h1v1h-1zM50 2h3v1h-3zM24 3h1v1h-1zM3 4h1v1h-1zM25 4h1v1h-1zM28 4h1v1h-1zM48 4h1v1h-1zM54 4h1v1h-1zM27 5h1v1h-1zM48 5h1v1h-1zM54 5h1v1h-1zM48 6h1v1h-1zM54 6h1v1h-1zM48 7h1v1h-1zM48 8h1v1h-1zM53 8h1v1h-1zM78 8h1v1h-1zM48 9h1v1h-1zM79 9h1v1h-1zM48 10h3v1h-3zM77 10h1v1h-1zM48 11h1v1h-1zM76 12h1v1h-1zM10 13h3v1h-3zM76 13h1v1h-1zM79 15h1v1h-1zM15 16h1v1h-1zM6 17h1v1h-1zM32 20h2v1h-2zM32 21h1v1h-1zM34 21h1v1h-1zM6 23h1v1h-1zM35 23h1v1h-1zM6 24h1v1h-1zM13 25h1v1h-1zM31 26h1v1h-1zM9 27h1v1h-1zM11 27h1v1h-1zM35 30h1v1h-1zM76 31h1v1h-1zM79 31h1v1h-1zM31 32h1v1h-1zM34 32h1v1h-1zM54 32h1v1h-1zM56 32h1v1h-1zM31 33h1v1h-1zM53 33h1v1h-1zM56 33h1v1h-1zM75 33h1v1h-1zM31 34h1v1h-1zM33 34h1v1h-1zM52 34h1v1h-1zM56 34h1v1h-1zM31 35h2v1h-2zM56 35h1v1h-1zM8 36h1v1h-1zM32 36h1v1h-1zM56 36h1v1h-1zM7 37h1v1h-1zM30 37h1v1h-1zM32 37h1v1h-1zM50 37h1v1h-1zM32 38h1v1h-1zM75 38h1v1h-1zM13 39h1v1h-1zM29 39h1v1h-1zM79 39h1v1h-1zM31 40h1v1h-1zM76 40h1v1h-1zM78 40h1v1h-1zM31 41h1v1h-1zM54 41h1v1h-1zM31 42h1v1h-1zM50 42h1v1h-1zM4 43h1v1h-1zM51 43h1v1h-1zM4 44h1v1h-1zM12 44h1v1h-1zM4 45h1v1h-1zM10 47h1v1h-1zM25 47h1v1h-1zM30 47h1v1h-1zM67 48h1v1h-1zM70 48h1v1h-1zM6 50h1v1h-1zM66 50h1v1h-1zM71 50h1v1h-1zM66 51h1v1h-1zM71 51h1v1h-1zM24 52h1v1h-1zM28 52h1v1h-1zM71 52h1v1h-1zM70 53h1v1h-1zM27 54h1v1h-1zM23 56h1v1h-1zM26 56h1v1h-1zM23 57h1v1h-1zM23 58h1v1h-1zM23 59h2v1h-2zM23 60h1v1h-1zM46 66h1v1h-1zM45 67h2v1h-2zM46 68h1v1h-1zM42 69h1v1h-1zM46 69h1v1h-1zM41 70h1v1h-1zM40 71h1v1h-1zM38 72h1v1h-1zM45 72h1v1h-1zM36 73h1v1h-1zM34 79h1v1h-1zM41 79h1v1h-1z"/><path fill="#ff1300" d="M6 0h1v1h-1zM0 1h1v1h-1zM22 1h1v1h-1zM30 1h1v1h-1zM50 1h3v1h-3zM0 2h1v1h-1zM54 2h1v1h-1zM6 3h1v1h-1zM29 3h1v1h-1zM47 4h1v1h-1zM3 5h1v1h-1zM5 5h1v1h-1zM25 5h1v1h-1zM47 5h1v1h-1zM47 6h1v1h-1zM47 7h1v1h-1zM77 8h1v1h-1zM53 9h1v1h-1zM47 10h1v1h-1zM76 11h1v1h-1zM46 12h1v1h-1zM49 12h1v1h-1zM8 13h2v1h-2zM13 13h1v1h-1zM46 13h3v1h-3zM46 14h1v1h-1zM7 15h1v1h-1zM15 15h1v1h-1zM6 16h1v1h-1zM79 16h1v1h-1zM42 17h1v1h-1zM5 18h1v1h-1zM34 18h8v1h-8zM32 19h1v1h-1zM36 19h3v1h-3zM5 20h1v1h-1zM31 20h1v1h-1zM35 20h1v1h-1zM5 21h1v1h-1zM35 21h1v1h-1zM15 23h1v1h-1zM36 24h1v1h-1zM6 25h1v1h-1zM36 25h1v1h-1zM13 26h1v1h-1zM8 27h1v1h-1zM12 27h1v1h-1zM11 28h1v1h-1zM30 28h1v1h-1zM36 28h1v1h-1zM10 29h1v1h-1zM30 29h1v1h-1zM36 29h1v1h-1zM30 30h1v1h-1zM56 30h2v1h-2zM79 30h1v1h-1zM30 31h1v1h-1zM54 31h1v1h-1zM57 31h1v1h-1zM30 32h1v1h-1zM35 32h1v1h-1zM53 32h1v1h-1zM57 32h1v1h-1zM75 32h1v1h-1zM30 33h1v1h-1zM52 33h1v1h-1zM57 33h1v1h-1zM10 34h1v1h-1zM34 34h1v1h-1zM51 34h1v1h-1zM9 35h1v1h-1zM11 35h1v1h-1zM30 35h1v1h-1zM74 35h1v1h-1zM74 36h1v1h-1zM29 37h1v1h-1zM33 37h1v1h-1zM6 38h1v1h-1zM28 39h1v1h-1zM56 39h1v1h-1zM32 40h1v1h-1zM49 40h1v1h-1zM75 40h1v1h-1zM79 40h1v1h-1zM4 41h1v1h-1zM13 41h1v1h-1zM27 41h1v1h-1zM49 41h1v1h-1zM13 42h1v1h-1zM49 42h1v1h-1zM31 44h1v1h-1zM50 44h2v1h-2zM12 45h1v1h-1zM31 45h1v1h-1zM25 46h1v1h-1zM68 47h3v1h-3zM30 48h1v1h-1zM66 48h1v1h-1zM71 48h1v1h-1zM9 49h1v1h-1zM8 50h1v1h-1zM24 50h1v1h-1zM29 51h1v1h-1zM23 54h1v1h-1zM70 54h1v1h-1zM26 57h1v1h-1zM22 58h1v1h-1zM25 59h1v1h-1zM21 61h1v1h-1zM24 61h1v1h-1zM23 62h1v1h-1zM20 63h1v1h-1zM22 63h1v1h-1zM46 63h2v1h-2zM20 64h2v1h-2zM46 64h2v1h-2zM19 65h2v1h-2zM45 65h1v1h-1zM48 65h1v1h-1zM44 66h1v1h-1zM47 69h1v1h-1zM40 70h1v1h-1zM46 71h1v1h-1zM35 73h1v1h-1zM34 74h1v1h-1zM33 76h1v1h-1zM44 76h1v1h-1zM33 78h1v1h-1z"/><path fill="#ca0000" d="M7 0h1v1h-1zM31 0h1v1h-1zM49 0h1v1h-1zM53 0h1v1h-1zM55 1h1v1h-1zM7 3h1v1h-1zM0 4h1v1h-1zM46 4h1v1h-1zM46 5h1v1h-1zM6 6h1v1h-1zM25 6h1v1h-1zM28 6h1v1h-1zM46 6h1v1h-1zM4 7h1v1h-1zM46 7h1v1h-1zM55 7h1v1h-1zM5 8h1v1h-1zM76 8h1v1h-1zM5 9h1v1h-1zM46 9h1v1h-1zM6 10h2v1h-2zM53 10h1v1h-1zM8 11h1v1h-1zM45 11h1v1h-1zM52 11h1v1h-1zM51 12h1v1h-1zM14 13h1v1h-1zM44 13h1v1h-1zM50 13h1v1h-1zM6 14h1v1h-1zM15 14h1v1h-1zM43 14h1v1h-1zM49 14h1v1h-1zM42 15h1v1h-1zM5 16h1v1h-1zM16 16h1v1h-1zM35 16h6v1h-6zM46 16h1v1h-1zM75 16h1v1h-1zM33 17h1v1h-1zM45 17h1v1h-1zM76 17h1v1h-1zM44 18h1v1h-1zM78 18h1v1h-1zM4 19h1v1h-1zM43 19h1v1h-1zM4 20h1v1h-1zM41 20h2v1h-2zM67 21h1v1h-1zM65 22h1v1h-1zM68 22h1v1h-1zM16 23h1v1h-1zM37 23h1v1h-1zM63 23h1v1h-1zM68 23h1v1h-1zM37 24h1v1h-1zM61 24h2v1h-2zM68 24h1v1h-1zM37 25h1v1h-1zM60 25h1v1h-1zM63 25h2v1h-2zM6 26h1v1h-1zM14 26h1v1h-1zM37 26h1v1h-1zM62 26h1v1h-1zM7 27h1v1h-1zM37 27h1v1h-1zM57 27h1v1h-1zM60 27h1v1h-1zM12 28h1v1h-1zM37 28h1v1h-1zM56 28h1v1h-1zM59 28h1v1h-1zM12 29h1v1h-1zM55 29h1v1h-1zM77 29h3v1h-3zM12 30h1v1h-1zM54 30h1v1h-1zM75 30h1v1h-1zM10 31h1v1h-1zM36 31h1v1h-1zM53 31h1v1h-1zM10 32h1v1h-1zM52 32h1v1h-1zM58 32h1v1h-1zM74 32h1v1h-1zM9 33h1v1h-1zM12 34h1v1h-1zM35 34h1v1h-1zM29 35h1v1h-1zM13 36h1v1h-1zM28 37h1v1h-1zM34 37h1v1h-1zM57 37h1v1h-1zM57 38h1v1h-1zM14 39h1v1h-1zM4 40h1v1h-1zM14 40h1v1h-1zM33 40h1v1h-1zM74 40h1v1h-1zM48 41h1v1h-1zM26 42h1v1h-1zM48 42h1v1h-1zM55 42h1v1h-1zM75 42h1v1h-1zM48 43h1v1h-1zM54 43h1v1h-1zM32 44h1v1h-1zM53 44h1v1h-1zM52 45h1v1h-1zM12 46h1v1h-1zM47 46h1v1h-1zM51 46h1v1h-1zM68 46h3v1h-3zM47 47h1v1h-1zM50 47h1v1h-1zM72 48h1v1h-1zM46 49h1v1h-1zM9 50h1v1h-1zM30 50h1v1h-1zM46 50h1v1h-1zM48 50h1v1h-1zM5 51h1v1h-1zM7 51h1v1h-1zM46 51h3v1h-3zM23 52h1v1h-1zM46 52h2v1h-2zM29 53h1v1h-1zM46 53h2v1h-2zM46 54h2v1h-2zM66 54h1v1h-1zM72 54h1v1h-1zM22 55h1v1h-1zM28 55h1v1h-1zM46 55h2v1h-2zM67 55h1v1h-1zM71 55h1v1h-1zM46 56h2v1h-2zM27 57h1v1h-1zM21 58h1v1h-1zM48 58h1v1h-1zM26 59h1v1h-1zM45 59h1v1h-1zM48 59h1v1h-1zM45 60h1v1h-1zM25 61h1v1h-1zM45 61h1v1h-1zM49 61h1v1h-1zM19 62h1v1h-1zM45 62h1v1h-1zM49 62h1v1h-1zM24 63h1v1h-1zM51 63h1v1h-1zM18 64h1v1h-1zM44 64h1v1h-1zM52 64h2v1h-2zM17 65h1v1h-1zM54 65h2v1h-2zM43 66h1v1h-1zM52 66h4v1h-4zM16 67h1v1h-1zM21 67h1v1h-1zM42 67h1v1h-1zM16 68h1v1h-1zM20 68h1v1h-1zM41 68h1v1h-1zM15 69h1v1h-1zM19 69h1v1h-1zM40 69h1v1h-1zM48 69h1v1h-1zM15 70h1v1h-1zM18 70h1v1h-1zM39 70h1v1h-1zM14 71h4v1h-4zM37 71h1v1h-1zM47 71h1v1h-1zM14 72h3v1h-3zM14 73h2v1h-2zM34 73h1v1h-1zM46 73h1v1h-1zM13 74h2v1h-2zM33 74h1v1h-1zM13 75h2v1h-2zM10 76h2v1h-2zM32 76h1v1h-1zM76 76h2v1h-2zM10 77h1v1h-1zM32 77h1v1h-1zM75 77h1v1h-1zM32 78h1v1h-1zM79 78h1v1h-1zM43 79h1v1h-1z"/><path fill="#7e0000" d="M8 0h1v1h-1zM20 0h1v1h-1zM56 0h1v1h-1zM72 0h1v1h-1zM8 1h1v1h-1zM46 1h1v1h-1zM69 1h1v1h-1zM71 1h1v1h-1zM22 3h1v1h-1zM30 4h1v1h-1zM45 4h1v1h-1zM0 5h1v1h-1zM45 5h1v1h-1zM7 6h1v1h-1zM24 6h1v1h-1zM29 6h1v1h-1zM45 6h1v1h-1zM79 6h1v1h-1zM7 7h1v1h-1zM25 7h1v1h-1zM28 7h1v1h-1zM3 8h1v1h-1zM7 8h1v1h-1zM45 9h1v1h-1zM55 9h1v1h-1zM4 10h1v1h-1zM4 11h1v1h-1zM44 11h1v1h-1zM13 12h1v1h-1zM74 12h1v1h-1zM74 13h1v1h-1zM74 14h1v1h-1zM35 15h6v1h-6zM49 15h1v1h-1zM74 15h1v1h-1zM4 16h1v1h-1zM33 16h1v1h-1zM48 16h1v1h-1zM74 16h1v1h-1zM47 17h1v1h-1zM17 18h1v1h-1zM30 18h1v1h-1zM29 19h1v1h-1zM66 20h3v1h-3zM42 21h1v1h-1zM64 21h1v1h-1zM4 22h1v1h-1zM17 22h1v1h-1zM29 22h1v1h-1zM38 22h2v1h-2zM29 23h1v1h-1zM38 23h1v1h-1zM29 24h1v1h-1zM38 24h1v1h-1zM59 24h1v1h-1zM69 24h1v1h-1zM5 25h1v1h-1zM29 25h1v1h-1zM38 25h1v1h-1zM58 25h1v1h-1zM15 26h1v1h-1zM38 26h1v1h-1zM64 26h1v1h-1zM62 27h1v1h-1zM61 28h1v1h-1zM8 29h1v1h-1zM13 29h1v1h-1zM60 29h1v1h-1zM75 29h1v1h-1zM74 30h1v1h-1zM52 31h1v1h-1zM59 31h1v1h-1zM51 32h1v1h-1zM73 32h1v1h-1zM36 34h1v1h-1zM28 35h1v1h-1zM49 35h1v1h-1zM58 35h1v1h-1zM6 36h1v1h-1zM35 37h1v1h-1zM27 38h1v1h-1zM48 38h1v1h-1zM4 39h1v1h-1zM73 39h1v1h-1zM34 40h1v1h-1zM73 40h1v1h-1zM57 41h1v1h-1zM47 42h1v1h-1zM25 43h1v1h-1zM33 43h1v1h-1zM47 43h1v1h-1zM75 43h1v1h-1zM78 43h1v1h-1zM46 45h1v1h-1zM69 45h3v1h-3zM2 46h1v1h-1zM32 47h1v1h-1zM45 47h1v1h-1zM64 47h1v1h-1zM73 47h1v1h-1zM45 48h1v1h-1zM51 48h1v1h-1zM73 48h1v1h-1zM50 49h1v1h-1zM2 50h1v1h-1zM31 50h1v1h-1zM3 51h1v1h-1zM5 52h2v1h-2zM30 52h1v1h-1zM49 52h1v1h-1zM64 52h1v1h-1zM49 53h1v1h-1zM73 54h1v1h-1zM49 56h1v1h-1zM72 56h1v1h-1zM28 57h1v1h-1zM44 57h1v1h-1zM49 57h1v1h-1zM68 57h3v1h-3zM44 58h1v1h-1zM20 59h1v1h-1zM27 59h1v1h-1zM44 59h1v1h-1zM44 60h1v1h-1zM50 60h1v1h-1zM26 61h1v1h-1zM44 61h1v1h-1zM50 61h1v1h-1zM18 62h1v1h-1zM52 62h1v1h-1zM25 63h1v1h-1zM54 63h1v1h-1zM63 63h3v1h-3zM68 63h1v1h-1zM43 64h1v1h-1zM16 65h1v1h-1zM68 65h1v1h-1zM15 66h1v1h-1zM23 66h1v1h-1zM42 66h1v1h-1zM67 66h1v1h-1zM41 67h1v1h-1zM57 67h9v1h-9zM14 68h1v1h-1zM40 68h1v1h-1zM13 69h1v1h-1zM39 69h1v1h-1zM49 69h1v1h-1zM20 70h1v1h-1zM12 71h1v1h-1zM19 71h1v1h-1zM9 72h3v1h-3zM34 72h1v1h-1zM8 73h1v1h-1zM18 73h1v1h-1zM33 73h1v1h-1zM7 74h1v1h-1zM17 74h1v1h-1zM7 75h1v1h-1zM17 75h1v1h-1zM75 75h1v1h-1zM79 75h1v1h-1zM16 76h1v1h-1zM16 77h1v1h-1zM31 77h1v1h-1zM45 77h1v1h-1zM73 77h1v1h-1zM15 78h1v1h-1zM31 78h1v1h-1zM73 78h1v1h-1zM7 79h1v1h-1zM15 79h1v1h-1zM44 79h1v1h-1zM73 79h1v1h-1z"/><path fill="#190000" d="M9 0h1v1h-1zM19 0h1v1h-1zM44 0h1v1h-1zM58 0h1v1h-1zM74 0h1v1h-1zM32 1h1v1h-1zM58 1h1v1h-1zM66 1h1v1h-1zM58 2h1v1h-1zM73 2h1v1h-1zM21 3h1v1h-1zM44 3h1v1h-1zM58 3h1v1h-1zM31 4h1v1h-1zM44 4h1v1h-1zM44 5h1v1h-1zM76 5h4v1h-4zM0 6h1v1h-1zM23 6h1v1h-1zM30 6h1v1h-1zM44 6h1v1h-1zM44 7h1v1h-1zM57 7h1v1h-1zM2 8h1v1h-1zM28 8h1v1h-1zM44 8h1v1h-1zM9 9h1v1h-1zM10 10h1v1h-1zM56 10h1v1h-1zM74 10h1v1h-1zM3 11h1v1h-1zM3 12h1v1h-1zM42 12h1v1h-1zM73 12h1v1h-1zM41 13h1v1h-1zM53 13h1v1h-1zM35 14h1v1h-1zM38 14h2v1h-2zM52 14h1v1h-1zM3 15h1v1h-1zM17 15h1v1h-1zM33 15h1v1h-1zM51 15h1v1h-1zM31 16h1v1h-1zM50 16h1v1h-1zM18 18h1v1h-1zM73 18h1v1h-1zM18 19h1v1h-1zM28 19h1v1h-1zM65 19h1v1h-1zM70 19h1v1h-1zM75 19h1v1h-1zM28 22h1v1h-1zM43 22h1v1h-1zM18 23h1v1h-1zM28 23h1v1h-1zM41 23h1v1h-1zM58 23h1v1h-1zM4 24h1v1h-1zM28 24h1v1h-1zM57 24h1v1h-1zM17 25h1v1h-1zM28 25h1v1h-1zM56 25h1v1h-1zM55 26h1v1h-1zM70 26h1v1h-1zM16 27h1v1h-1zM39 27h1v1h-1zM54 27h1v1h-1zM64 27h1v1h-1zM53 28h1v1h-1zM14 30h1v1h-1zM38 30h1v1h-1zM72 30h1v1h-1zM8 31h1v1h-1zM14 31h1v1h-1zM72 31h1v1h-1zM50 32h1v1h-1zM14 34h1v1h-1zM37 34h1v1h-1zM59 34h1v1h-1zM4 38h1v1h-1zM26 38h1v1h-1zM36 38h1v1h-1zM47 38h1v1h-1zM3 39h1v1h-1zM72 39h1v1h-1zM2 40h1v1h-1zM72 40h1v1h-1zM2 41h1v1h-1zM25 41h1v1h-1zM35 41h1v1h-1zM46 41h1v1h-1zM72 41h1v1h-1zM2 42h1v1h-1zM72 42h1v1h-1zM2 43h1v1h-1zM15 43h1v1h-1zM58 43h1v1h-1zM71 43h2v1h-2zM34 44h1v1h-1zM45 44h1v1h-1zM57 44h1v1h-1zM79 44h1v1h-1zM34 45h1v1h-1zM65 45h1v1h-1zM74 45h1v1h-1zM1 46h1v1h-1zM44 46h1v1h-1zM62 46h1v1h-1zM0 47h1v1h-1zM23 47h1v1h-1zM62 47h1v1h-1zM33 48h1v1h-1zM62 48h1v1h-1zM43 49h1v1h-1zM32 50h1v1h-1zM43 50h1v1h-1zM51 50h1v1h-1zM0 51h1v1h-1zM22 51h1v1h-1zM43 51h1v1h-1zM0 52h1v1h-1zM31 52h1v1h-1zM43 52h1v1h-1zM63 52h1v1h-1zM0 53h3v1h-3zM7 53h1v1h-1zM43 53h1v1h-1zM50 53h1v1h-1zM2 54h3v1h-3zM43 54h1v1h-1zM50 54h1v1h-1zM43 55h1v1h-1zM50 55h1v1h-1zM64 55h1v1h-1zM75 55h1v1h-1zM43 56h1v1h-1zM50 56h1v1h-1zM75 56h1v1h-1zM0 57h1v1h-1zM20 57h1v1h-1zM29 57h1v1h-1zM43 57h1v1h-1zM65 57h1v1h-1zM75 57h1v1h-1zM0 58h2v1h-2zM74 58h2v1h-2zM1 59h1v1h-1zM19 59h1v1h-1zM51 59h1v1h-1zM66 59h2v1h-2zM71 59h3v1h-3zM66 60h5v1h-5zM64 61h1v1h-1zM70 61h1v1h-1zM1 62h1v1h-1zM27 62h1v1h-1zM55 62h1v1h-1zM59 62h3v1h-3zM70 62h1v1h-1zM1 63h1v1h-1zM70 63h1v1h-1zM0 64h1v1h-1zM15 64h1v1h-1zM26 64h1v1h-1zM70 64h1v1h-1zM14 65h1v1h-1zM70 65h1v1h-1zM69 67h1v1h-1zM23 68h1v1h-1zM68 68h1v1h-1zM11 69h1v1h-1zM51 69h5v1h-5zM9 70h1v1h-1zM50 70h1v1h-1zM7 71h1v1h-1zM21 71h1v1h-1zM34 71h1v1h-1zM49 71h1v1h-1zM74 73h6v1h-6zM19 74h1v1h-1zM31 74h1v1h-1zM4 75h1v1h-1zM72 75h1v1h-1zM4 76h1v1h-1zM30 76h1v1h-1zM72 76h1v1h-1zM4 77h1v1h-1zM18 77h1v1h-1zM3 78h1v1h-1zM46 78h1v1h-1zM3 79h1v1h-1zM17 79h1v1h-1zM46 79h1v1h-1z"/><path fill="#00004c" d="M10 0h1v1h-1zM18 0h1v1h-1zM41 0h1v1h-1zM60 0h1v1h-1zM42 1h1v1h-1zM65 1h1v1h-1zM75 1h1v1h-1zM75 2h1v1h-1zM20 3h1v1h-1zM66 3h1v1h-1zM75 3h1v1h-1zM59 4h1v1h-1zM71 4h4v1h-4zM77 4h3v1h-3zM43 5h1v1h-1zM59 5h1v1h-1zM22 6h1v1h-1zM31 6h1v1h-1zM43 6h1v1h-1zM0 7h1v1h-1zM43 7h1v1h-1zM1 8h1v1h-1zM23 8h1v1h-1zM58 8h1v1h-1zM28 9h1v1h-1zM12 10h1v1h-1zM25 10h1v1h-1zM42 10h1v1h-1zM73 10h1v1h-1zM2 11h1v1h-1zM14 11h1v1h-1zM57 11h1v1h-1zM72 11h1v1h-1zM2 12h1v1h-1zM56 12h1v1h-1zM35 13h1v1h-1zM38 13h2v1h-2zM55 13h1v1h-1zM2 14h1v1h-1zM33 14h1v1h-1zM54 14h1v1h-1zM2 15h1v1h-1zM31 15h1v1h-1zM53 15h1v1h-1zM71 15h1v1h-1zM71 16h1v1h-1zM28 17h1v1h-1zM67 17h3v1h-3zM19 18h1v1h-1zM19 19h1v1h-1zM48 19h1v1h-1zM63 19h1v1h-1zM47 20h1v1h-1zM61 20h1v1h-1zM72 20h4v1h-4zM46 21h1v1h-1zM59 21h1v1h-1zM72 21h1v1h-1zM79 21h1v1h-1zM27 22h1v1h-1zM72 22h1v1h-1zM27 23h1v1h-1zM72 23h1v1h-1zM27 24h1v1h-1zM55 24h1v1h-1zM72 24h1v1h-1zM27 25h1v1h-1zM41 25h1v1h-1zM54 25h1v1h-1zM72 25h1v1h-1zM18 26h1v1h-1zM27 26h1v1h-1zM53 26h1v1h-1zM72 26h1v1h-1zM78 26h2v1h-2zM17 28h1v1h-1zM64 28h1v1h-1zM68 28h1v1h-1zM51 29h1v1h-1zM70 29h1v1h-1zM39 30h1v1h-1zM7 32h1v1h-1zM15 32h1v1h-1zM49 32h1v1h-1zM15 33h1v1h-1zM38 33h1v1h-1zM38 34h1v1h-1zM5 35h1v1h-1zM38 35h1v1h-1zM26 36h1v1h-1zM16 37h1v1h-1zM3 38h1v1h-1zM46 38h1v1h-1zM37 39h1v1h-1zM45 40h1v1h-1zM60 41h1v1h-1zM16 42h1v1h-1zM36 42h1v1h-1zM70 42h1v1h-1zM16 43h1v1h-1zM36 43h1v1h-1zM44 43h1v1h-1zM61 43h1v1h-1zM1 44h1v1h-1zM63 44h3v1h-3zM35 46h1v1h-1zM58 46h1v1h-1zM56 47h1v1h-1zM59 47h1v1h-1zM76 47h1v1h-1zM22 48h1v1h-1zM42 48h1v1h-1zM54 48h1v1h-1zM60 48h1v1h-1zM34 49h1v1h-1zM53 49h1v1h-1zM11 51h1v1h-1zM10 52h1v1h-1zM21 52h1v1h-1zM62 52h1v1h-1zM9 53h1v1h-1zM76 53h1v1h-1zM51 54h1v1h-1zM20 55h1v1h-1zM31 55h1v1h-1zM51 55h1v1h-1zM78 55h2v1h-2zM5 56h1v1h-1zM63 56h1v1h-1zM4 57h1v1h-1zM63 57h1v1h-1zM4 58h1v1h-1zM52 58h1v1h-1zM63 58h1v1h-1zM18 59h1v1h-1zM63 59h1v1h-1zM17 60h1v1h-1zM29 60h1v1h-1zM3 61h1v1h-1zM16 61h1v1h-1zM56 61h3v1h-3zM15 62h1v1h-1zM74 62h5v1h-5zM14 63h1v1h-1zM28 63h1v1h-1zM73 63h1v1h-1zM79 63h1v1h-1zM2 64h1v1h-1zM13 64h1v1h-1zM28 64h1v1h-1zM72 64h1v1h-1zM27 65h1v1h-1zM72 65h1v1h-1zM26 66h1v1h-1zM71 67h1v1h-1zM9 68h1v1h-1zM71 68h1v1h-1zM7 69h1v1h-1zM71 69h1v1h-1zM23 70h1v1h-1zM34 70h1v1h-1zM55 70h3v1h-3zM61 70h3v1h-3zM71 70h2v1h-2zM79 70h1v1h-1zM4 71h1v1h-1zM51 71h1v1h-1zM67 71h2v1h-2zM73 71h5v1h-5zM0 72h3v1h-3zM69 72h1v1h-1zM21 73h1v1h-1zM70 73h1v1h-1zM70 74h1v1h-1zM20 75h1v1h-1zM19 78h1v1h-1zM28 78h1v1h-1zM70 78h1v1h-1zM48 79h1v1h-1zM70 79h1v1h-1z"/><path fill="#0000b1" d="M11 0h1v1h-1zM77 0h1v1h-1zM34 1h1v1h-1zM62 1h2v1h-2zM62 2h2v1h-2zM77 2h1v1h-1zM19 3h1v1h-1zM33 3h1v1h-1zM62 3h2v1h-2zM79 3h1v1h-1zM62 4h2v1h-2zM61 5h9v1h-9zM32 6h1v1h-1zM42 6h1v1h-1zM61 6h3v1h-3zM71 6h1v1h-1zM62 7h1v1h-1zM72 7h1v1h-1zM11 8h1v1h-1zM22 8h1v1h-1zM31 8h1v1h-1zM72 8h1v1h-1zM0 9h1v1h-1zM12 9h1v1h-1zM30 9h1v1h-1zM72 9h1v1h-1zM23 10h1v1h-1zM28 10h1v1h-1zM41 10h1v1h-1zM60 10h1v1h-1zM71 10h1v1h-1zM15 11h1v1h-1zM40 11h1v1h-1zM59 11h1v1h-1zM70 11h1v1h-1zM1 12h1v1h-1zM24 12h1v1h-1zM35 12h1v1h-1zM58 12h1v1h-1zM70 12h1v1h-1zM1 13h1v1h-1zM57 13h1v1h-1zM1 14h1v1h-1zM18 14h1v1h-1zM56 14h1v1h-1zM69 14h1v1h-1zM1 15h1v1h-1zM29 15h1v1h-1zM55 15h1v1h-1zM67 15h2v1h-2zM1 16h1v1h-1zM19 16h1v1h-1zM65 16h1v1h-1zM63 17h1v1h-1zM20 18h1v1h-1zM51 18h1v1h-1zM50 19h1v1h-1zM60 19h1v1h-1zM58 20h1v1h-1zM1 21h1v1h-1zM74 22h1v1h-1zM77 22h1v1h-1zM2 23h1v1h-1zM26 23h1v1h-1zM20 24h1v1h-1zM26 24h1v1h-1zM44 24h1v1h-1zM3 25h1v1h-1zM26 25h1v1h-1zM43 25h1v1h-1zM74 25h4v1h-4zM19 26h1v1h-1zM26 26h1v1h-1zM42 26h1v1h-1zM4 27h1v1h-1zM26 27h1v1h-1zM51 27h1v1h-1zM41 28h1v1h-1zM64 29h1v1h-1zM6 30h1v1h-1zM40 30h1v1h-1zM69 30h1v1h-1zM48 32h1v1h-1zM39 33h1v1h-1zM61 33h1v1h-1zM39 34h1v1h-1zM47 34h1v1h-1zM39 35h1v1h-1zM70 35h1v1h-1zM25 36h1v1h-1zM39 36h1v1h-1zM46 36h1v1h-1zM70 36h1v1h-1zM3 37h1v1h-1zM39 37h1v1h-1zM70 37h1v1h-1zM0 38h1v1h-1zM17 38h1v1h-1zM39 38h1v1h-1zM45 38h1v1h-1zM17 39h1v1h-1zM24 39h1v1h-1zM17 40h1v1h-1zM61 40h1v1h-1zM0 41h1v1h-1zM17 41h1v1h-1zM38 41h1v1h-1zM43 41h1v1h-1zM69 41h1v1h-1zM17 42h1v1h-1zM23 42h1v1h-1zM38 42h1v1h-1zM62 42h1v1h-1zM68 42h1v1h-1zM42 43h1v1h-1zM64 43h3v1h-3zM0 44h1v1h-1zM22 45h1v1h-1zM37 45h1v1h-1zM41 45h1v1h-1zM16 46h1v1h-1zM41 46h1v1h-1zM79 47h1v1h-1zM36 48h1v1h-1zM77 48h1v1h-1zM21 49h1v1h-1zM55 49h1v1h-1zM77 49h1v1h-1zM13 50h1v1h-1zM54 50h1v1h-1zM12 51h1v1h-1zM34 51h1v1h-1zM53 51h1v1h-1zM77 51h1v1h-1zM11 52h1v1h-1zM20 53h1v1h-1zM33 53h1v1h-1zM61 53h1v1h-1zM79 53h1v1h-1zM32 55h1v1h-1zM8 56h1v1h-1zM7 57h1v1h-1zM6 58h1v1h-1zM31 58h1v1h-1zM61 58h1v1h-1zM55 59h1v1h-1zM60 59h1v1h-1zM5 60h1v1h-1zM30 61h1v1h-1zM12 63h1v1h-1zM11 64h1v1h-1zM3 65h1v1h-1zM10 65h1v1h-1zM9 66h1v1h-1zM28 66h1v1h-1zM38 66h1v1h-1zM75 66h2v1h-2zM2 67h1v1h-1zM7 67h1v1h-1zM27 67h1v1h-1zM37 67h1v1h-1zM74 67h4v1h-4zM1 68h1v1h-1zM5 68h1v1h-1zM26 68h1v1h-1zM75 68h2v1h-2zM1 69h3v1h-3zM34 69h1v1h-1zM24 71h1v1h-1zM31 71h1v1h-1zM58 71h2v1h-2zM30 72h1v1h-1zM52 72h1v1h-1zM63 72h2v1h-2zM29 73h1v1h-1zM66 73h2v1h-2zM22 74h1v1h-1zM68 74h1v1h-1zM49 75h1v1h-1zM27 76h1v1h-1zM69 76h1v1h-1zM21 77h1v1h-1zM49 77h1v1h-1zM26 78h1v1h-1zM51 79h1v1h-1zM68 79h1v1h-1z"/><path fill="#0000fd" d="M12 0h1v1h-1zM11 2h1v1h-1zM39 2h1v1h-1zM11 3h1v1h-1zM18 3h1v1h-1zM34 3h1v1h-1zM11 4h1v1h-1zM19 4h1v1h-1zM41 5h1v1h-1zM33 6h1v1h-1zM41 6h1v1h-1zM41 7h1v1h-1zM65 7h4v1h-4zM12 8h1v1h-1zM32 8h1v1h-1zM64 8h1v1h-1zM69 8h1v1h-1zM13 9h1v1h-1zM63 9h1v1h-1zM69 9h1v1h-1zM22 10h1v1h-1zM30 10h1v1h-1zM40 10h1v1h-1zM62 10h1v1h-1zM69 10h1v1h-1zM16 11h1v1h-1zM28 11h1v1h-1zM35 11h1v1h-1zM38 11h1v1h-1zM61 11h1v1h-1zM68 11h1v1h-1zM0 12h1v1h-1zM26 12h1v1h-1zM32 12h1v1h-1zM60 12h1v1h-1zM68 12h1v1h-1zM0 13h1v1h-1zM18 13h1v1h-1zM23 13h1v1h-1zM25 13h1v1h-1zM30 13h1v1h-1zM59 13h1v1h-1zM66 13h2v1h-2zM0 14h1v1h-1zM19 14h1v1h-1zM24 14h1v1h-1zM28 14h1v1h-1zM58 14h1v1h-1zM65 14h1v1h-1zM0 15h1v1h-1zM27 15h1v1h-1zM57 15h1v1h-1zM63 15h2v1h-2zM0 16h1v1h-1zM20 16h1v1h-1zM26 16h1v1h-1zM56 16h1v1h-1zM62 16h1v1h-1zM0 17h1v1h-1zM21 17h1v1h-1zM25 17h1v1h-1zM60 17h1v1h-1zM0 18h1v1h-1zM21 18h1v1h-1zM24 18h1v1h-1zM53 18h1v1h-1zM59 18h1v1h-1zM0 19h1v1h-1zM24 19h1v1h-1zM52 19h1v1h-1zM57 19h1v1h-1zM0 20h1v1h-1zM56 20h1v1h-1zM0 21h1v1h-1zM49 21h1v1h-1zM55 21h1v1h-1zM48 22h1v1h-1zM53 23h1v1h-1zM21 24h1v1h-1zM25 24h1v1h-1zM52 24h1v1h-1zM25 25h1v1h-1zM51 25h1v1h-1zM3 26h1v1h-1zM20 26h1v1h-1zM25 26h1v1h-1zM25 27h1v1h-1zM50 27h1v1h-1zM4 28h1v1h-1zM19 28h1v1h-1zM25 28h1v1h-1zM42 28h1v1h-1zM25 29h1v1h-1zM49 29h1v1h-1zM18 30h1v1h-1zM25 30h1v1h-1zM25 31h1v1h-1zM48 31h1v1h-1zM25 32h1v1h-1zM17 33h1v1h-1zM25 33h1v1h-1zM17 34h1v1h-1zM69 34h1v1h-1zM17 35h1v1h-1zM61 35h1v1h-1zM40 36h1v1h-1zM0 37h1v1h-1zM2 37h1v1h-1zM24 37h1v1h-1zM40 37h1v1h-1zM40 38h1v1h-1zM61 38h1v1h-1zM69 38h1v1h-1zM40 39h1v1h-1zM43 39h1v1h-1zM23 40h1v1h-1zM40 40h1v1h-1zM42 40h1v1h-1zM62 40h1v1h-1zM40 41h2v1h-2zM68 41h1v1h-1zM40 42h2v1h-2zM67 42h1v1h-1zM22 43h1v1h-1zM17 46h1v1h-1zM38 48h1v1h-1zM37 49h2v1h-2zM79 49h1v1h-1zM14 50h1v1h-1zM20 50h1v1h-1zM36 50h1v1h-1zM39 50h1v1h-1zM56 50h3v1h-3zM79 50h1v1h-1zM13 51h1v1h-1zM20 51h1v1h-1zM59 51h1v1h-1zM79 51h1v1h-1zM12 52h1v1h-1zM34 53h1v1h-1zM19 54h1v1h-1zM40 54h1v1h-1zM53 54h1v1h-1zM33 55h1v1h-1zM40 55h1v1h-1zM53 55h1v1h-1zM9 56h1v1h-1zM18 56h1v1h-1zM40 56h1v1h-1zM40 57h1v1h-1zM54 57h1v1h-1zM60 57h1v1h-1zM8 58h1v1h-1zM40 58h1v1h-1zM55 58h1v1h-1zM59 58h1v1h-1zM7 59h1v1h-1zM40 59h1v1h-1zM31 60h1v1h-1zM40 60h1v1h-1zM6 61h1v1h-1zM13 61h1v1h-1zM5 63h1v1h-1zM5 64h1v1h-1zM9 64h1v1h-1zM30 64h1v1h-1zM39 64h1v1h-1zM8 65h1v1h-1zM30 65h1v1h-1zM5 66h2v1h-2zM29 66h1v1h-1zM37 66h1v1h-1zM34 68h1v1h-1zM26 70h1v1h-1zM31 70h1v1h-1zM29 71h1v1h-1zM25 72h1v1h-1zM28 72h1v1h-1zM24 73h1v1h-1zM53 73h2v1h-2zM62 73h1v1h-1zM27 74h1v1h-1zM51 74h1v1h-1zM65 74h1v1h-1zM23 75h1v1h-1zM26 75h1v1h-1zM50 75h1v1h-1zM67 75h1v1h-1zM23 76h1v1h-1zM50 76h1v1h-1zM25 77h1v1h-1zM22 78h1v1h-1zM52 78h2v1h-2zM67 78h1v1h-1zM22 79h1v1h-1zM24 79h1v1h-1zM55 79h2v1h-2zM62 79h4v1h-4z"/><path fill="#002dff" d="M13 0h1v1h-1zM15 0h1v1h-1zM12 1h1v1h-1zM36 2h3v1h-3zM34 4h1v1h-1zM40 4h1v1h-1zM12 7h1v1h-1zM33 7h1v1h-1zM40 8h1v1h-1zM21 9h1v1h-1zM65 9h2v1h-2zM32 10h1v1h-1zM36 10h3v1h-3zM65 10h2v1h-2zM31 11h1v1h-1zM64 11h3v1h-3zM18 12h1v1h-1zM22 12h1v1h-1zM29 12h1v1h-1zM63 12h3v1h-3zM19 13h1v1h-1zM22 13h1v1h-1zM27 13h2v1h-2zM62 13h2v1h-2zM20 14h1v1h-1zM22 14h1v1h-1zM26 14h1v1h-1zM21 15h2v1h-2zM25 15h1v1h-1zM22 16h1v1h-1zM24 16h1v1h-1zM56 18h1v1h-1zM54 19h2v1h-2zM53 20h2v1h-2zM23 21h1v1h-1zM51 21h3v1h-3zM23 22h1v1h-1zM49 22h4v1h-4zM23 23h1v1h-1zM48 23h1v1h-1zM51 23h1v1h-1zM22 24h1v1h-1zM24 24h1v1h-1zM2 25h1v1h-1zM50 25h1v1h-1zM44 26h1v1h-1zM3 27h1v1h-1zM42 29h1v1h-1zM64 30h1v1h-1zM5 32h1v1h-1zM62 33h1v1h-1zM46 34h1v1h-1zM3 35h1v1h-1zM0 36h1v1h-1zM2 36h1v1h-1zM24 36h1v1h-1zM18 37h1v1h-1zM41 37h1v1h-1zM18 38h1v1h-1zM42 38h1v1h-1zM23 39h1v1h-1zM62 39h1v1h-1zM68 40h1v1h-1zM63 41h1v1h-1zM65 42h1v1h-1zM21 44h1v1h-1zM18 46h1v1h-1zM20 46h1v1h-1zM17 47h1v1h-1zM20 47h1v1h-1zM20 48h1v1h-1zM38 51h1v1h-1zM56 51h3v1h-3zM13 52h1v1h-1zM39 52h1v1h-1zM59 52h1v1h-1zM12 53h1v1h-1zM39 53h1v1h-1zM54 53h1v1h-1zM34 54h1v1h-1zM18 55h1v1h-1zM54 55h1v1h-1zM10 56h1v1h-1zM33 56h1v1h-1zM17 57h1v1h-1zM55 57h1v1h-1zM9 58h1v1h-1zM16 58h1v1h-1zM9 59h1v1h-1zM32 59h1v1h-1zM8 60h1v1h-1zM13 60h1v1h-1zM8 61h1v1h-1zM11 61h1v1h-1zM7 62h4v1h-4zM31 62h1v1h-1zM7 63h2v1h-2zM31 63h1v1h-1zM39 63h1v1h-1zM7 64h1v1h-1zM30 67h1v1h-1zM29 68h1v1h-1zM33 68h1v1h-1zM28 69h4v1h-4zM28 70h2v1h-2zM27 71h1v1h-1zM26 73h1v1h-1zM58 73h2v1h-2zM54 74h2v1h-2zM61 74h2v1h-2zM52 75h2v1h-2zM63 75h2v1h-2zM52 76h1v1h-1zM65 76h2v1h-2zM53 77h2v1h-2zM64 77h3v1h-3zM56 78h2v1h-2zM61 78h3v1h-3z"/><path fill="#0044ff" d="M14 0h1v1h-1zM12 2h1v1h-1zM17 3h1v1h-1zM35 3h1v1h-1zM39 3h1v1h-1zM12 4h1v1h-1zM18 4h1v1h-1zM12 5h1v1h-1zM19 5h1v1h-1zM34 5h1v1h-1zM12 6h1v1h-1zM34 6h1v1h-1zM20 7h1v1h-1zM13 8h1v1h-1zM33 8h1v1h-1zM14 9h1v1h-1zM33 9h1v1h-1zM39 9h1v1h-1zM21 10h1v1h-1zM33 10h3v1h-3zM17 11h1v1h-1zM21 11h1v1h-1zM21 13h1v1h-1zM21 14h1v1h-1zM0 23h1v1h-1zM49 23h2v1h-2zM1 24h1v1h-1zM23 24h1v1h-1zM47 24h1v1h-1zM50 24h1v1h-1zM22 25h1v1h-1zM24 25h1v1h-1zM46 25h1v1h-1zM21 26h1v1h-1zM24 26h1v1h-1zM45 26h1v1h-1zM24 27h1v1h-1zM49 27h1v1h-1zM20 28h1v1h-1zM43 28h1v1h-1zM4 29h1v1h-1zM48 29h1v1h-1zM19 30h1v1h-1zM65 30h2v1h-2zM5 31h1v1h-1zM41 31h1v1h-1zM47 31h1v1h-1zM63 31h1v1h-1zM18 32h1v1h-1zM68 32h1v1h-1zM4 33h1v1h-1zM68 33h1v1h-1zM62 34h1v1h-1zM0 35h1v1h-1zM24 35h1v1h-1zM45 35h1v1h-1zM1 36h1v1h-1zM18 36h1v1h-1zM41 36h1v1h-1zM44 36h1v1h-1zM42 37h2v1h-2zM23 38h1v1h-1zM62 38h1v1h-1zM68 39h1v1h-1zM22 41h1v1h-1zM67 41h1v1h-1zM21 43h1v1h-1zM19 44h2v1h-2zM19 45h2v1h-2zM19 46h1v1h-1zM17 48h1v1h-1zM16 49h1v1h-1zM15 50h1v1h-1zM14 51h1v1h-1zM19 51h1v1h-1zM37 51h1v1h-1zM19 52h1v1h-1zM36 52h1v1h-1zM38 52h1v1h-1zM55 52h1v1h-1zM58 52h1v1h-1zM35 53h1v1h-1zM59 53h1v1h-1zM18 54h1v1h-1zM39 54h1v1h-1zM54 54h1v1h-1zM11 55h1v1h-1zM39 55h1v1h-1zM39 56h1v1h-1zM55 56h1v1h-1zM59 56h1v1h-1zM10 57h1v1h-1zM33 57h1v1h-1zM56 57h3v1h-3zM10 58h1v1h-1zM10 59h1v1h-1zM14 59h1v1h-1zM9 60h4v1h-4zM32 60h1v1h-1zM9 61h2v1h-2zM39 61h1v1h-1zM39 62h1v1h-1zM31 64h1v1h-1zM31 65h1v1h-1zM37 65h1v1h-1zM31 66h1v1h-1zM36 66h1v1h-1zM31 67h1v1h-1zM34 67h1v1h-1zM30 68h3v1h-3zM56 74h5v1h-5zM54 75h2v1h-2zM62 75h1v1h-1zM53 76h3v1h-3zM63 76h2v1h-2zM55 77h2v1h-2zM62 77h2v1h-2zM58 78h3v1h-3z"/><path fill="#0000e4" d="M16 0h1v1h-1zM11 1h1v1h-1zM36 1h3v1h-3zM78 1h2v1h-2zM34 2h1v1h-1zM40 2h1v1h-1zM41 4h1v1h-1zM11 5h1v1h-1zM20 5h1v1h-1zM33 5h1v1h-1zM11 6h1v1h-1zM65 6h5v1h-5zM11 7h1v1h-1zM21 7h1v1h-1zM32 7h1v1h-1zM64 7h1v1h-1zM69 7h2v1h-2zM41 8h1v1h-1zM63 8h1v1h-1zM70 8h1v1h-1zM22 9h1v1h-1zM31 9h1v1h-1zM62 9h1v1h-1zM14 10h1v1h-1zM61 10h1v1h-1zM0 11h1v1h-1zM27 11h1v1h-1zM36 11h2v1h-2zM39 11h1v1h-1zM60 11h1v1h-1zM69 11h1v1h-1zM17 12h1v1h-1zM23 12h1v1h-1zM33 12h1v1h-1zM59 12h1v1h-1zM69 12h1v1h-1zM24 13h1v1h-1zM31 13h1v1h-1zM68 13h1v1h-1zM29 14h1v1h-1zM66 14h2v1h-2zM28 15h1v1h-1zM56 15h1v1h-1zM65 15h1v1h-1zM55 16h1v1h-1zM63 16h1v1h-1zM54 17h1v1h-1zM61 17h1v1h-1zM25 18h1v1h-1zM52 18h1v1h-1zM60 18h1v1h-1zM21 19h1v1h-1zM51 19h1v1h-1zM58 19h1v1h-1zM21 20h1v1h-1zM50 20h1v1h-1zM57 20h1v1h-1zM21 21h1v1h-1zM25 21h1v1h-1zM1 22h1v1h-1zM21 22h1v1h-1zM25 22h1v1h-1zM54 22h1v1h-1zM25 23h1v1h-1zM46 23h1v1h-1zM75 23h2v1h-2zM2 24h1v1h-1zM45 24h1v1h-1zM75 24h3v1h-3zM44 25h1v1h-1zM43 26h1v1h-1zM51 26h1v1h-1zM41 29h1v1h-1zM65 29h2v1h-2zM63 30h1v1h-1zM68 30h1v1h-1zM6 31h1v1h-1zM40 31h1v1h-1zM62 31h1v1h-1zM17 32h1v1h-1zM69 32h1v1h-1zM5 33h1v1h-1zM47 33h1v1h-1zM69 33h1v1h-1zM25 34h1v1h-1zM61 34h1v1h-1zM25 35h1v1h-1zM46 35h1v1h-1zM3 36h1v1h-1zM17 36h1v1h-1zM24 38h1v1h-1zM44 38h1v1h-1zM69 39h1v1h-1zM43 40h1v1h-1zM69 40h1v1h-1zM23 41h1v1h-1zM39 41h1v1h-1zM42 41h1v1h-1zM62 41h1v1h-1zM39 42h1v1h-1zM63 42h1v1h-1zM39 43h3v1h-3zM39 44h2v1h-2zM17 45h1v1h-1zM38 45h3v1h-3zM21 46h1v1h-1zM38 46h3v1h-3zM16 47h1v1h-1zM21 47h1v1h-1zM38 47h2v1h-2zM37 48h1v1h-1zM39 48h1v1h-1zM39 49h1v1h-1zM78 49h1v1h-1zM55 50h1v1h-1zM78 50h1v1h-1zM35 51h1v1h-1zM54 51h1v1h-1zM78 51h1v1h-1zM20 52h1v1h-1zM40 52h1v1h-1zM60 52h1v1h-1zM11 53h1v1h-1zM40 53h1v1h-1zM53 53h1v1h-1zM10 54h1v1h-1zM33 54h1v1h-1zM61 55h1v1h-1zM53 56h1v1h-1zM8 57h1v1h-1zM32 57h1v1h-1zM17 58h1v1h-1zM16 59h1v1h-1zM57 59h1v1h-1zM6 60h1v1h-1zM15 60h1v1h-1zM40 61h1v1h-1zM5 62h1v1h-1zM12 62h1v1h-1zM40 62h1v1h-1zM11 63h1v1h-1zM30 63h1v1h-1zM4 64h1v1h-1zM10 64h1v1h-1zM4 65h1v1h-1zM9 65h1v1h-1zM4 66h1v1h-1zM7 66h1v1h-1zM4 67h2v1h-2zM28 67h1v1h-1zM36 67h1v1h-1zM27 68h1v1h-1zM26 69h1v1h-1zM33 69h1v1h-1zM25 71h1v1h-1zM30 71h1v1h-1zM24 72h1v1h-1zM56 72h5v1h-5zM28 73h1v1h-1zM52 73h1v1h-1zM63 73h2v1h-2zM23 74h1v1h-1zM66 74h2v1h-2zM27 75h1v1h-1zM22 76h1v1h-1zM26 76h1v1h-1zM68 76h1v1h-1zM22 77h1v1h-1zM50 77h1v1h-1zM68 77h1v1h-1zM25 78h1v1h-1zM51 78h1v1h-1zM21 79h1v1h-1zM54 79h1v1h-1zM66 79h1v1h-1z"/><path fill="#000098" d="M17 0h1v1h-1zM35 0h5v1h-5zM62 0h1v1h-1zM40 1h1v1h-1zM61 1h1v1h-1zM76 1h1v1h-1zM41 2h1v1h-1zM61 2h1v1h-1zM64 2h1v1h-1zM76 2h1v1h-1zM61 3h1v1h-1zM64 3h1v1h-1zM77 3h2v1h-2zM20 4h1v1h-1zM42 4h1v1h-1zM61 4h1v1h-1zM64 4h2v1h-2zM42 5h1v1h-1zM70 5h2v1h-2zM60 6h1v1h-1zM72 6h1v1h-1zM10 7h1v1h-1zM42 7h1v1h-1zM60 7h2v1h-2zM0 8h1v1h-1zM42 8h1v1h-1zM60 8h2v1h-2zM59 9h2v1h-2zM1 10h1v1h-1zM13 10h1v1h-1zM27 10h1v1h-1zM72 10h1v1h-1zM1 11h1v1h-1zM25 11h1v1h-1zM16 12h1v1h-1zM36 12h4v1h-4zM17 13h1v1h-1zM33 13h1v1h-1zM70 13h1v1h-1zM31 14h1v1h-1zM70 14h1v1h-1zM69 15h1v1h-1zM28 16h1v1h-1zM53 16h1v1h-1zM66 16h1v1h-1zM1 17h1v1h-1zM27 17h1v1h-1zM52 17h1v1h-1zM64 17h1v1h-1zM1 18h1v1h-1zM26 18h1v1h-1zM62 18h1v1h-1zM1 19h1v1h-1zM20 19h1v1h-1zM1 20h1v1h-1zM20 20h1v1h-1zM20 21h1v1h-1zM26 21h1v1h-1zM47 21h1v1h-1zM57 21h1v1h-1zM74 21h2v1h-2zM20 22h1v1h-1zM26 22h1v1h-1zM46 22h1v1h-1zM56 22h1v1h-1zM73 22h1v1h-1zM78 22h1v1h-1zM20 23h1v1h-1zM45 23h1v1h-1zM55 23h1v1h-1zM73 23h1v1h-1zM79 23h1v1h-1zM54 24h1v1h-1zM73 24h1v1h-1zM79 24h1v1h-1zM53 25h1v1h-1zM78 25h1v1h-1zM52 26h1v1h-1zM18 28h1v1h-1zM26 28h1v1h-1zM26 29h1v1h-1zM50 29h1v1h-1zM68 29h1v1h-1zM17 30h1v1h-1zM26 30h1v1h-1zM62 30h1v1h-1zM26 31h1v1h-1zM49 31h1v1h-1zM16 32h1v1h-1zM26 32h1v1h-1zM39 32h1v1h-1zM61 32h1v1h-1zM16 33h1v1h-1zM70 33h1v1h-1zM5 34h1v1h-1zM16 34h1v1h-1zM70 34h1v1h-1zM60 36h1v1h-1zM25 37h1v1h-1zM60 37h1v1h-1zM2 38h1v1h-1zM70 38h1v1h-1zM70 39h1v1h-1zM38 40h1v1h-1zM44 40h1v1h-1zM61 41h1v1h-1zM43 42h1v1h-1zM37 43h1v1h-1zM63 43h1v1h-1zM37 44h1v1h-1zM42 44h1v1h-1zM15 47h1v1h-1zM36 47h1v1h-1zM41 47h1v1h-1zM78 47h1v1h-1zM41 48h1v1h-1zM56 48h3v1h-3zM35 49h1v1h-1zM59 49h1v1h-1zM21 50h1v1h-1zM60 50h1v1h-1zM41 52h1v1h-1zM61 52h1v1h-1zM77 52h1v1h-1zM10 53h1v1h-1zM41 53h1v1h-1zM52 53h1v1h-1zM78 53h1v1h-1zM9 54h1v1h-1zM41 54h1v1h-1zM52 54h1v1h-1zM8 55h1v1h-1zM41 55h1v1h-1zM52 55h1v1h-1zM19 56h1v1h-1zM41 56h1v1h-1zM52 56h1v1h-1zM62 56h1v1h-1zM31 57h1v1h-1zM41 57h1v1h-1zM41 58h1v1h-1zM53 58h1v1h-1zM5 59h1v1h-1zM17 59h1v1h-1zM41 59h1v1h-1zM54 59h1v1h-1zM16 60h1v1h-1zM30 60h1v1h-1zM41 60h1v1h-1zM56 60h3v1h-3zM4 61h1v1h-1zM15 61h1v1h-1zM4 62h1v1h-1zM14 62h1v1h-1zM29 63h1v1h-1zM3 64h1v1h-1zM29 64h1v1h-1zM40 64h1v1h-1zM11 65h1v1h-1zM74 65h4v1h-4zM2 66h1v1h-1zM74 66h1v1h-1zM77 66h2v1h-2zM1 67h1v1h-1zM8 67h1v1h-1zM73 67h1v1h-1zM78 67h1v1h-1zM6 68h1v1h-1zM36 68h1v1h-1zM73 68h2v1h-2zM77 68h1v1h-1zM0 69h1v1h-1zM4 69h2v1h-2zM25 69h1v1h-1zM74 69h3v1h-3zM1 70h3v1h-3zM24 70h1v1h-1zM33 70h1v1h-1zM56 71h2v1h-2zM60 71h2v1h-2zM23 72h1v1h-1zM51 72h1v1h-1zM65 72h1v1h-1zM50 73h1v1h-1zM68 73h1v1h-1zM49 74h1v1h-1zM21 75h1v1h-1zM28 75h1v1h-1zM69 75h1v1h-1zM21 76h1v1h-1zM27 77h1v1h-1zM69 77h1v1h-1zM49 78h1v1h-1zM69 78h1v1h-1zM20 79h1v1h-1zM26 79h1v1h-1zM50 79h1v1h-1z"/><path fill="#e40000" d="M21 0h1v1h-1zM50 0h3v1h-3zM7 1h1v1h-1zM48 1h1v1h-1zM54 1h1v1h-1zM7 2h1v1h-1zM22 2h1v1h-1zM30 2h1v1h-1zM47 2h1v1h-1zM55 2h1v1h-1zM23 3h1v1h-1zM29 4h1v1h-1zM6 5h1v1h-1zM3 6h1v1h-1zM5 7h1v1h-1zM77 7h1v1h-1zM79 7h1v1h-1zM54 9h1v1h-1zM76 9h1v1h-1zM46 10h1v1h-1zM6 11h2v1h-2zM6 12h1v1h-1zM9 12h3v1h-3zM45 12h1v1h-1zM75 12h1v1h-1zM6 13h1v1h-1zM75 13h1v1h-1zM7 14h1v1h-1zM48 14h1v1h-1zM75 14h1v1h-1zM6 15h1v1h-1zM47 15h1v1h-1zM75 15h1v1h-1zM41 16h1v1h-1zM16 17h1v1h-1zM34 17h1v1h-1zM79 17h1v1h-1zM32 18h1v1h-1zM43 18h1v1h-1zM42 19h1v1h-1zM30 20h1v1h-1zM37 20h4v1h-4zM30 21h1v1h-1zM36 21h1v1h-1zM16 22h1v1h-1zM30 22h1v1h-1zM36 22h1v1h-1zM66 22h2v1h-2zM5 23h1v1h-1zM30 23h1v1h-1zM64 23h2v1h-2zM15 24h1v1h-1zM30 24h1v1h-1zM63 24h5v1h-5zM30 25h1v1h-1zM61 25h2v1h-2zM59 26h3v1h-3zM13 27h1v1h-1zM58 27h2v1h-2zM57 28h2v1h-2zM9 29h1v1h-1zM58 29h1v1h-1zM10 30h2v1h-2zM58 30h1v1h-1zM11 31h1v1h-1zM58 31h1v1h-1zM11 32h1v1h-1zM35 33h1v1h-1zM74 33h1v1h-1zM8 35h1v1h-1zM12 35h1v1h-1zM57 35h1v1h-1zM34 36h1v1h-1zM57 36h1v1h-1zM6 37h1v1h-1zM49 37h1v1h-1zM28 38h1v1h-1zM74 38h1v1h-1zM5 39h1v1h-1zM33 39h1v1h-1zM74 39h1v1h-1zM27 40h1v1h-1zM56 40h1v1h-1zM32 42h1v1h-1zM76 42h3v1h-3zM32 43h1v1h-1zM13 44h1v1h-1zM48 44h1v1h-1zM3 45h1v1h-1zM48 45h1v1h-1zM48 46h1v1h-1zM31 47h1v1h-1zM48 47h2v1h-2zM66 47h1v1h-1zM71 47h1v1h-1zM24 48h1v1h-1zM47 48h3v1h-3zM65 48h1v1h-1zM3 49h1v1h-1zM47 49h2v1h-2zM47 50h1v1h-1zM6 51h1v1h-1zM29 52h1v1h-1zM65 52h1v1h-1zM23 53h1v1h-1zM72 53h1v1h-1zM68 55h3v1h-3zM22 56h1v1h-1zM46 57h2v1h-2zM46 58h2v1h-2zM21 59h1v1h-1zM46 59h2v1h-2zM46 60h1v1h-1zM48 60h1v1h-1zM20 61h1v1h-1zM48 61h1v1h-1zM24 62h1v1h-1zM19 63h1v1h-1zM45 63h1v1h-1zM50 63h1v1h-1zM23 64h1v1h-1zM51 64h1v1h-1zM18 65h1v1h-1zM22 65h1v1h-1zM51 65h3v1h-3zM17 66h1v1h-1zM21 66h1v1h-1zM49 66h3v1h-3zM17 67h1v1h-1zM20 67h1v1h-1zM17 68h1v1h-1zM19 68h1v1h-1zM48 68h1v1h-1zM16 69h3v1h-3zM16 70h2v1h-2zM45 75h1v1h-1zM44 77h1v1h-1zM76 77h3v1h-3zM43 78h1v1h-1zM75 78h1v1h-1zM78 78h1v1h-1zM75 79h2v1h-2zM78 79h1v1h-1z"/><path fill="#ff9000" d="M23 0h1v1h-1zM29 0h1v1h-1zM28 2h1v1h-1zM26 3h2v1h-2zM51 4h1v1h-1zM50 5h3v1h-3zM50 6h3v1h-3zM11 14h2v1h-2zM14 16h1v1h-1zM13 23h1v1h-1zM7 24h1v1h-1zM9 26h1v1h-1zM33 26h1v1h-1zM33 27h1v1h-1zM32 28h3v1h-3zM32 29h3v1h-3zM33 30h1v1h-1zM77 33h1v1h-1zM78 34h1v1h-1zM53 35h2v1h-2zM76 35h1v1h-1zM79 35h1v1h-1zM76 36h1v1h-1zM79 36h1v1h-1zM8 37h1v1h-1zM11 37h1v1h-1zM51 37h1v1h-1zM77 37h2v1h-2zM51 38h1v1h-1zM12 39h1v1h-1zM51 39h1v1h-1zM52 40h1v1h-1zM5 42h1v1h-1zM5 43h1v1h-1zM29 43h1v1h-1zM11 44h1v1h-1zM28 44h2v1h-2zM27 45h1v1h-1zM29 45h1v1h-1zM29 46h1v1h-1zM9 47h1v1h-1zM26 47h1v1h-1zM5 48h1v1h-1zM8 48h1v1h-1zM26 48h1v1h-1zM28 49h1v1h-1zM69 50h1v1h-1zM27 51h1v1h-1zM69 51h1v1h-1zM26 52h1v1h-1zM42 71h2v1h-2zM41 72h1v1h-1zM43 72h1v1h-1zM38 73h1v1h-1zM43 73h1v1h-1zM36 74h1v1h-1zM43 74h1v1h-1zM35 75h1v1h-1zM41 77h1v1h-1zM35 78h1v1h-1zM36 79h1v1h-1zM39 79h1v1h-1z"/><path fill="#ffd500" d="M24 0h1v1h-1zM26 2h1v1h-1zM11 15h2v1h-2zM13 16h1v1h-1zM12 23h1v1h-1zM53 37h1v1h-1zM8 38h1v1h-1zM11 39h1v1h-1zM7 40h1v1h-1zM11 40h1v1h-1zM6 42h1v1h-1zM10 44h1v1h-1zM6 46h1v1h-1zM6 47h2v1h-2zM39 74h3v1h-3zM36 75h1v1h-1zM41 75h1v1h-1zM40 76h1v1h-1zM36 78h1v1h-1zM39 78h1v1h-1z"/><path fill="#fffb19" d="M25 0h1v1h-1zM26 1h2v1h-2zM11 16h2v1h-2zM13 18h1v1h-1zM8 19h1v1h-1zM13 19h1v1h-1zM8 20h1v1h-1zM13 20h1v1h-1zM8 21h1v1h-1zM12 22h1v1h-1zM11 23h1v1h-1zM9 24h2v1h-2zM9 39h2v1h-2zM8 40h1v1h-1zM10 40h1v1h-1zM7 41h1v1h-1zM10 41h1v1h-1zM10 42h1v1h-1zM7 45h2v1h-2zM37 76h3v1h-3zM37 77h2v1h-2z"/><path fill="#fffd58" d="M26 0h2v1h-2zM10 17h3v1h-3zM9 18h1v1h-1zM12 21h1v1h-1zM11 22h1v1h-1zM9 23h2v1h-2zM9 40h1v1h-1zM8 41h2v1h-2zM7 42h1v1h-1zM7 44h1v1h-1zM9 44h1v1h-1z"/><path fill="#ffec00" d="M28 0h1v1h-1zM25 1h1v1h-1zM10 16h1v1h-1zM9 17h1v1h-1zM13 17h1v1h-1zM8 18h1v1h-1zM13 21h1v1h-1zM8 22h1v1h-1zM8 23h1v1h-1zM8 24h1v1h-1zM11 24h1v1h-1zM9 25h2v1h-2zM9 38h2v1h-2zM8 39h1v1h-1zM6 43h1v1h-1zM10 43h1v1h-1zM6 44h1v1h-1zM6 45h1v1h-1zM9 45h1v1h-1zM7 46h2v1h-2zM37 75h4v1h-4zM36 76h1v1h-1zM36 77h1v1h-1zM39 77h1v1h-1zM37 78h2v1h-2z"/><path fill="#4c0000" d="M32 0h1v1h-1zM45 0h1v1h-1zM57 0h1v1h-1zM73 0h1v1h-1zM20 1h1v1h-1zM57 1h1v1h-1zM67 1h1v1h-1zM70 2h1v1h-1zM8 4h1v1h-1zM8 5h1v1h-1zM23 5h1v1h-1zM30 5h1v1h-1zM57 5h1v1h-1zM2 7h1v1h-1zM75 7h1v1h-1zM25 8h2v1h-2zM56 8h1v1h-1zM75 8h1v1h-1zM3 9h1v1h-1zM44 10h1v1h-1zM74 11h1v1h-1zM15 13h1v1h-1zM4 14h1v1h-1zM16 14h1v1h-1zM34 15h1v1h-1zM50 15h1v1h-1zM32 16h1v1h-1zM49 16h1v1h-1zM3 17h1v1h-1zM48 17h1v1h-1zM3 18h1v1h-1zM77 19h1v1h-1zM3 20h1v1h-1zM63 21h1v1h-1zM70 21h1v1h-1zM42 22h1v1h-1zM61 22h1v1h-1zM70 22h1v1h-1zM4 23h1v1h-1zM39 23h1v1h-1zM59 23h1v1h-1zM70 23h1v1h-1zM17 24h1v1h-1zM39 24h1v1h-1zM58 24h1v1h-1zM70 24h1v1h-1zM57 25h1v1h-1zM67 26h3v1h-3zM15 27h1v1h-1zM63 27h1v1h-1zM28 28h1v1h-1zM76 28h1v1h-1zM28 29h1v1h-1zM38 29h1v1h-1zM53 29h1v1h-1zM74 29h1v1h-1zM8 30h1v1h-1zM28 30h1v1h-1zM52 30h1v1h-1zM73 30h1v1h-1zM28 31h1v1h-1zM28 32h1v1h-1zM37 32h1v1h-1zM28 33h1v1h-1zM59 33h1v1h-1zM28 34h1v1h-1zM49 34h1v1h-1zM14 35h1v1h-1zM36 36h1v1h-1zM5 37h1v1h-1zM15 38h1v1h-1zM58 38h1v1h-1zM15 39h1v1h-1zM35 39h1v1h-1zM58 39h1v1h-1zM15 40h1v1h-1zM58 40h1v1h-1zM25 42h1v1h-1zM34 42h1v1h-1zM73 42h1v1h-1zM46 43h1v1h-1zM71 44h2v1h-2zM2 45h1v1h-1zM14 45h1v1h-1zM45 45h1v1h-1zM67 45h1v1h-1zM73 45h1v1h-1zM33 46h1v1h-1zM64 46h1v1h-1zM1 47h1v1h-1zM63 47h1v1h-1zM12 48h1v1h-1zM23 48h1v1h-1zM44 48h1v1h-1zM63 48h1v1h-1zM11 49h1v1h-1zM51 49h1v1h-1zM63 49h1v1h-1zM1 50h1v1h-1zM63 50h1v1h-1zM74 50h1v1h-1zM31 51h1v1h-1zM50 51h1v1h-1zM74 51h1v1h-1zM3 52h1v1h-1zM8 52h1v1h-1zM22 52h1v1h-1zM74 52h1v1h-1zM74 53h1v1h-1zM74 54h1v1h-1zM74 55h1v1h-1zM29 56h1v1h-1zM66 57h1v1h-1zM73 57h1v1h-1zM20 58h1v1h-1zM28 58h1v1h-1zM50 58h1v1h-1zM67 58h5v1h-5zM0 60h1v1h-1zM0 61h1v1h-1zM18 61h1v1h-1zM51 61h1v1h-1zM67 61h1v1h-1zM0 62h1v1h-1zM43 62h1v1h-1zM53 62h1v1h-1zM63 62h2v1h-2zM0 63h1v1h-1zM26 63h1v1h-1zM56 63h4v1h-4zM69 63h1v1h-1zM15 65h1v1h-1zM42 65h1v1h-1zM69 65h1v1h-1zM14 66h1v1h-1zM69 66h1v1h-1zM23 67h1v1h-1zM68 67h1v1h-1zM56 68h3v1h-3zM12 69h1v1h-1zM50 69h1v1h-1zM11 70h1v1h-1zM21 70h1v1h-1zM9 71h1v1h-1zM20 71h1v1h-1zM35 71h1v1h-1zM7 72h1v1h-1zM6 73h1v1h-1zM19 73h1v1h-1zM6 74h1v1h-1zM74 74h2v1h-2zM79 74h1v1h-1zM18 75h1v1h-1zM31 75h1v1h-1zM73 75h1v1h-1zM5 76h1v1h-1zM46 76h1v1h-1zM5 77h1v1h-1zM17 77h1v1h-1zM5 78h1v1h-1zM5 79h1v1h-1zM16 79h1v1h-1zM45 79h1v1h-1z"/><path fill="#000019" d="M33 0h1v1h-1zM59 0h1v1h-1zM19 1h1v1h-1zM43 1h1v1h-1zM32 2h1v1h-1zM43 2h1v1h-1zM66 2h1v1h-1zM9 3h1v1h-1zM69 3h6v1h-6zM9 4h1v1h-1zM75 4h1v1h-1zM9 5h1v1h-1zM22 5h1v1h-1zM31 5h1v1h-1zM58 6h1v1h-1zM74 6h1v1h-1zM23 7h1v1h-1zM74 7h1v1h-1zM9 8h1v1h-1zM29 8h1v1h-1zM57 8h1v1h-1zM74 8h1v1h-1zM2 9h1v1h-1zM26 9h1v1h-1zM11 10h1v1h-1zM13 11h1v1h-1zM42 11h1v1h-1zM56 11h1v1h-1zM73 11h1v1h-1zM55 12h1v1h-1zM16 13h1v1h-1zM40 13h1v1h-1zM54 13h1v1h-1zM34 14h1v1h-1zM53 14h1v1h-1zM72 14h1v1h-1zM32 15h1v1h-1zM52 15h1v1h-1zM72 15h1v1h-1zM30 16h1v1h-1zM72 16h1v1h-1zM18 17h1v1h-1zM29 17h1v1h-1zM2 18h1v1h-1zM28 18h1v1h-1zM66 18h2v1h-2zM70 18h2v1h-2zM2 19h1v1h-1zM64 19h1v1h-1zM73 19h1v1h-1zM2 20h1v1h-1zM46 20h1v1h-1zM62 20h1v1h-1zM77 20h1v1h-1zM45 21h1v1h-1zM60 21h1v1h-1zM44 22h1v1h-1zM41 24h1v1h-1zM56 24h1v1h-1zM4 25h1v1h-1zM55 25h1v1h-1zM71 25h1v1h-1zM40 26h1v1h-1zM54 26h1v1h-1zM71 26h1v1h-1zM5 27h1v1h-1zM53 27h1v1h-1zM71 27h1v1h-1zM76 27h1v1h-1zM16 28h1v1h-1zM63 28h1v1h-1zM70 28h3v1h-3zM39 29h1v1h-1zM71 29h1v1h-1zM15 30h1v1h-1zM27 30h1v1h-1zM51 30h1v1h-1zM27 31h1v1h-1zM27 32h1v1h-1zM60 32h1v1h-1zM7 33h1v1h-1zM27 33h1v1h-1zM27 34h1v1h-1zM15 35h1v1h-1zM59 36h1v1h-1zM26 37h1v1h-1zM37 37h1v1h-1zM59 37h1v1h-1zM59 38h1v1h-1zM46 39h1v1h-1zM59 39h1v1h-1zM36 40h1v1h-1zM45 42h1v1h-1zM71 42h1v1h-1zM35 43h1v1h-1zM35 44h1v1h-1zM44 44h1v1h-1zM60 44h1v1h-1zM67 44h1v1h-1zM1 45h1v1h-1zM57 45h4v1h-4zM77 45h2v1h-2zM0 46h1v1h-1zM56 46h1v1h-1zM60 46h1v1h-1zM75 46h1v1h-1zM34 47h1v1h-1zM43 47h1v1h-1zM54 47h1v1h-1zM61 47h1v1h-1zM75 47h1v1h-1zM13 48h1v1h-1zM53 48h1v1h-1zM61 48h1v1h-1zM75 48h1v1h-1zM12 49h1v1h-1zM33 49h1v1h-1zM75 49h1v1h-1zM62 50h1v1h-1zM75 50h1v1h-1zM32 51h1v1h-1zM51 51h1v1h-1zM75 51h1v1h-1zM75 52h1v1h-1zM8 53h1v1h-1zM63 54h1v1h-1zM4 55h2v1h-2zM76 55h1v1h-1zM2 56h2v1h-2zM20 56h1v1h-1zM30 56h1v1h-1zM77 56h1v1h-1zM2 57h2v1h-2zM51 57h1v1h-1zM64 57h1v1h-1zM77 57h3v1h-3zM19 58h1v1h-1zM64 58h1v1h-1zM78 58h2v1h-2zM64 59h1v1h-1zM77 59h3v1h-3zM52 60h1v1h-1zM64 60h1v1h-1zM73 60h7v1h-7zM28 61h1v1h-1zM42 61h1v1h-1zM54 61h1v1h-1zM61 61h1v1h-1zM72 61h2v1h-2zM2 62h1v1h-1zM16 62h1v1h-1zM42 62h1v1h-1zM15 63h1v1h-1zM71 63h1v1h-1zM1 64h1v1h-1zM14 64h1v1h-1zM27 64h1v1h-1zM71 64h1v1h-1zM13 65h1v1h-1zM26 65h1v1h-1zM71 65h1v1h-1zM40 66h1v1h-1zM39 67h1v1h-1zM70 67h1v1h-1zM38 68h1v1h-1zM70 68h1v1h-1zM9 69h1v1h-1zM23 69h1v1h-1zM58 69h4v1h-4zM69 69h1v1h-1zM7 70h1v1h-1zM35 70h1v1h-1zM51 70h1v1h-1zM67 70h3v1h-3zM5 71h1v1h-1zM50 71h1v1h-1zM4 72h1v1h-1zM21 72h1v1h-1zM32 72h1v1h-1zM49 72h1v1h-1zM71 72h8v1h-8zM3 73h1v1h-1zM31 73h1v1h-1zM71 73h1v1h-1zM3 74h1v1h-1zM20 74h1v1h-1zM71 74h1v1h-1zM3 75h1v1h-1zM71 75h1v1h-1zM2 76h1v1h-1zM19 76h1v1h-1zM47 76h1v1h-1zM71 76h1v1h-1zM1 77h2v1h-2zM29 77h1v1h-1zM47 77h1v1h-1zM71 77h1v1h-1zM0 78h2v1h-2zM0 79h1v1h-1zM18 79h1v1h-1z"/><path fill="#000065" d="M34 0h1v1h-1zM64 0h1v1h-1zM10 1h1v1h-1zM33 1h1v1h-1zM60 1h1v1h-1zM19 2h1v1h-1zM42 2h1v1h-1zM60 2h1v1h-1zM65 2h1v1h-1zM65 3h1v1h-1zM76 3h1v1h-1zM32 4h1v1h-1zM69 4h2v1h-2zM73 5h1v1h-1zM59 6h1v1h-1zM73 6h1v1h-1zM10 8h1v1h-1zM30 8h1v1h-1zM11 9h1v1h-1zM58 9h1v1h-1zM73 9h1v1h-1zM24 10h1v1h-1zM26 10h1v1h-1zM58 10h1v1h-1zM2 13h1v1h-1zM71 13h1v1h-1zM71 14h1v1h-1zM18 15h1v1h-1zM29 16h1v1h-1zM52 16h1v1h-1zM69 16h2v1h-2zM51 17h1v1h-1zM66 17h1v1h-1zM27 18h1v1h-1zM64 18h1v1h-1zM62 19h1v1h-1zM60 20h1v1h-1zM77 21h2v1h-2zM45 22h1v1h-1zM57 22h1v1h-1zM44 23h1v1h-1zM56 23h1v1h-1zM3 24h1v1h-1zM19 24h1v1h-1zM43 24h1v1h-1zM4 26h1v1h-1zM41 26h1v1h-1zM73 26h1v1h-1zM77 26h1v1h-1zM52 27h1v1h-1zM40 28h1v1h-1zM65 28h3v1h-3zM6 29h1v1h-1zM16 30h1v1h-1zM50 30h1v1h-1zM70 30h1v1h-1zM7 31h1v1h-1zM60 34h1v1h-1zM26 35h1v1h-1zM16 36h1v1h-1zM38 36h1v1h-1zM38 37h1v1h-1zM25 38h1v1h-1zM0 39h2v1h-2zM60 39h1v1h-1zM37 40h1v1h-1zM60 40h1v1h-1zM1 41h1v1h-1zM24 41h1v1h-1zM37 41h1v1h-1zM70 41h1v1h-1zM44 42h1v1h-1zM68 43h1v1h-1zM16 44h1v1h-1zM23 44h1v1h-1zM36 44h1v1h-1zM43 44h1v1h-1zM0 45h1v1h-1zM15 46h1v1h-1zM42 46h1v1h-1zM77 46h3v1h-3zM22 47h1v1h-1zM35 47h1v1h-1zM42 47h1v1h-1zM57 47h2v1h-2zM35 48h1v1h-1zM76 48h1v1h-1zM13 49h1v1h-1zM12 50h1v1h-1zM61 50h1v1h-1zM33 51h1v1h-1zM52 51h1v1h-1zM76 52h1v1h-1zM32 53h1v1h-1zM62 53h1v1h-1zM8 54h1v1h-1zM77 54h1v1h-1zM7 55h1v1h-1zM6 56h1v1h-1zM5 57h1v1h-1zM19 57h1v1h-1zM30 58h1v1h-1zM4 59h1v1h-1zM53 59h1v1h-1zM62 59h1v1h-1zM54 60h1v1h-1zM60 60h2v1h-2zM29 61h1v1h-1zM3 62h1v1h-1zM41 63h1v1h-1zM74 63h5v1h-5zM73 64h1v1h-1zM78 64h2v1h-2zM12 65h1v1h-1zM40 65h1v1h-1zM79 65h1v1h-1zM1 66h1v1h-1zM11 66h1v1h-1zM39 66h1v1h-1zM72 66h1v1h-1zM0 67h1v1h-1zM10 67h1v1h-1zM38 67h1v1h-1zM72 67h1v1h-1zM8 68h1v1h-1zM37 68h1v1h-1zM72 68h1v1h-1zM6 69h1v1h-1zM24 69h1v1h-1zM72 69h1v1h-1zM79 69h1v1h-1zM5 70h1v1h-1zM58 70h3v1h-3zM73 70h1v1h-1zM77 70h2v1h-2zM0 71h1v1h-1zM3 71h1v1h-1zM52 71h1v1h-1zM64 71h3v1h-3zM22 72h1v1h-1zM31 72h1v1h-1zM50 72h1v1h-1zM68 72h1v1h-1zM30 73h1v1h-1zM49 73h1v1h-1zM69 73h1v1h-1zM21 74h1v1h-1zM29 75h1v1h-1zM48 75h1v1h-1zM70 75h1v1h-1zM20 76h1v1h-1zM48 76h1v1h-1zM70 76h1v1h-1zM28 77h1v1h-1zM70 77h1v1h-1zM48 78h1v1h-1zM19 79h1v1h-1zM27 79h1v1h-1z"/><path fill="#00007e" d="M40 0h1v1h-1zM61 0h1v1h-1zM63 0h1v1h-1zM76 0h1v1h-1zM18 1h1v1h-1zM41 1h1v1h-1zM64 1h1v1h-1zM10 2h1v1h-1zM33 2h1v1h-1zM10 3h1v1h-1zM42 3h1v1h-1zM60 3h1v1h-1zM10 4h1v1h-1zM60 4h1v1h-1zM66 4h3v1h-3zM10 5h1v1h-1zM21 5h1v1h-1zM32 5h1v1h-1zM60 5h1v1h-1zM72 5h1v1h-1zM10 6h1v1h-1zM22 7h1v1h-1zM31 7h1v1h-1zM59 7h1v1h-1zM73 7h1v1h-1zM59 8h1v1h-1zM73 8h1v1h-1zM1 9h1v1h-1zM23 9h1v1h-1zM29 9h1v1h-1zM42 9h1v1h-1zM59 10h1v1h-1zM24 11h1v1h-1zM41 11h1v1h-1zM58 11h1v1h-1zM71 11h1v1h-1zM40 12h1v1h-1zM57 12h1v1h-1zM71 12h1v1h-1zM34 13h1v1h-1zM56 13h1v1h-1zM32 14h1v1h-1zM55 14h1v1h-1zM30 15h1v1h-1zM54 15h1v1h-1zM70 15h1v1h-1zM67 16h2v1h-2zM19 17h1v1h-1zM65 17h1v1h-1zM50 18h1v1h-1zM63 18h1v1h-1zM26 19h1v1h-1zM49 19h1v1h-1zM61 19h1v1h-1zM26 20h1v1h-1zM48 20h1v1h-1zM59 20h1v1h-1zM58 21h1v1h-1zM73 21h1v1h-1zM76 21h1v1h-1zM2 22h1v1h-1zM79 22h1v1h-1zM19 25h1v1h-1zM42 25h1v1h-1zM73 25h1v1h-1zM79 25h1v1h-1zM74 26h3v1h-3zM18 27h1v1h-1zM41 27h1v1h-1zM5 28h1v1h-1zM51 28h1v1h-1zM17 29h1v1h-1zM40 29h1v1h-1zM63 29h1v1h-1zM69 29h1v1h-1zM16 31h1v1h-1zM39 31h1v1h-1zM61 31h1v1h-1zM70 31h1v1h-1zM70 32h1v1h-1zM6 33h1v1h-1zM26 33h1v1h-1zM48 33h1v1h-1zM26 34h1v1h-1zM16 35h1v1h-1zM47 35h1v1h-1zM60 35h1v1h-1zM4 36h1v1h-1zM46 37h1v1h-1zM38 38h1v1h-1zM60 38h1v1h-1zM38 39h1v1h-1zM45 39h1v1h-1zM0 40h1v1h-1zM24 40h1v1h-1zM70 40h1v1h-1zM44 41h1v1h-1zM1 42h1v1h-1zM37 42h1v1h-1zM61 42h1v1h-1zM69 42h1v1h-1zM1 43h1v1h-1zM23 43h1v1h-1zM43 43h1v1h-1zM62 43h1v1h-1zM67 43h1v1h-1zM16 45h1v1h-1zM36 45h1v1h-1zM42 45h1v1h-1zM22 46h1v1h-1zM36 46h1v1h-1zM77 47h1v1h-1zM14 48h1v1h-1zM55 48h1v1h-1zM59 48h1v1h-1zM41 49h1v1h-1zM54 49h1v1h-1zM60 49h1v1h-1zM76 49h1v1h-1zM34 50h1v1h-1zM41 50h1v1h-1zM53 50h1v1h-1zM76 50h1v1h-1zM21 51h1v1h-1zM41 51h1v1h-1zM61 51h1v1h-1zM76 51h1v1h-1zM33 52h1v1h-1zM52 52h1v1h-1zM77 53h1v1h-1zM20 54h1v1h-1zM32 54h1v1h-1zM62 54h1v1h-1zM78 54h2v1h-2zM62 55h1v1h-1zM7 56h1v1h-1zM31 56h1v1h-1zM6 57h1v1h-1zM52 57h1v1h-1zM62 57h1v1h-1zM5 58h1v1h-1zM18 58h1v1h-1zM62 58h1v1h-1zM30 59h1v1h-1zM61 59h1v1h-1zM4 60h1v1h-1zM55 60h1v1h-1zM59 60h1v1h-1zM41 61h1v1h-1zM29 62h1v1h-1zM41 62h1v1h-1zM3 63h1v1h-1zM13 63h1v1h-1zM12 64h1v1h-1zM74 64h4v1h-4zM2 65h1v1h-1zM28 65h1v1h-1zM73 65h1v1h-1zM78 65h1v1h-1zM10 66h1v1h-1zM27 66h1v1h-1zM73 66h1v1h-1zM79 66h1v1h-1zM9 67h1v1h-1zM26 67h1v1h-1zM79 67h1v1h-1zM0 68h1v1h-1zM7 68h1v1h-1zM25 68h1v1h-1zM78 68h2v1h-2zM35 69h1v1h-1zM73 69h1v1h-1zM77 69h2v1h-2zM0 70h1v1h-1zM4 70h1v1h-1zM74 70h3v1h-3zM1 71h2v1h-2zM23 71h1v1h-1zM32 71h1v1h-1zM53 71h3v1h-3zM62 71h2v1h-2zM66 72h2v1h-2zM22 73h1v1h-1zM29 74h1v1h-1zM69 74h1v1h-1zM28 76h1v1h-1zM20 77h1v1h-1zM48 77h1v1h-1zM20 78h1v1h-1zM27 78h1v1h-1zM49 79h1v1h-1zM69 79h1v1h-1z"/><path fill="#000033" d="M42 0h1v1h-1zM65 0h1v1h-1zM75 0h1v1h-1zM59 1h1v1h-1zM59 2h1v1h-1zM32 3h1v1h-1zM43 3h1v1h-1zM59 3h1v1h-1zM67 3h2v1h-2zM21 4h1v1h-1zM43 4h1v1h-1zM76 4h1v1h-1zM74 5h1v1h-1zM9 6h1v1h-1zM9 7h1v1h-1zM30 7h1v1h-1zM58 7h1v1h-1zM43 8h1v1h-1zM10 9h1v1h-1zM24 9h1v1h-1zM27 9h1v1h-1zM43 9h1v1h-1zM57 9h1v1h-1zM2 10h1v1h-1zM57 10h1v1h-1zM15 12h1v1h-1zM41 12h1v1h-1zM72 12h1v1h-1zM36 13h2v1h-2zM72 13h1v1h-1zM17 14h1v1h-1zM2 16h1v1h-1zM18 16h1v1h-1zM51 16h1v1h-1zM2 17h1v1h-1zM50 17h1v1h-1zM70 17h2v1h-2zM49 18h1v1h-1zM65 18h1v1h-1zM27 19h1v1h-1zM72 19h1v1h-1zM19 20h1v1h-1zM27 20h1v1h-1zM76 20h1v1h-1zM2 21h1v1h-1zM19 21h1v1h-1zM27 21h1v1h-1zM19 22h1v1h-1zM58 22h1v1h-1zM3 23h1v1h-1zM19 23h1v1h-1zM43 23h1v1h-1zM57 23h1v1h-1zM42 24h1v1h-1zM18 25h1v1h-1zM17 27h1v1h-1zM27 27h1v1h-1zM40 27h1v1h-1zM72 27h4v1h-4zM27 28h1v1h-1zM52 28h1v1h-1zM69 28h1v1h-1zM16 29h1v1h-1zM27 29h1v1h-1zM62 29h1v1h-1zM7 30h1v1h-1zM61 30h1v1h-1zM71 30h1v1h-1zM15 31h1v1h-1zM50 31h1v1h-1zM71 31h1v1h-1zM38 32h1v1h-1zM71 32h1v1h-1zM60 33h1v1h-1zM71 33h1v1h-1zM6 34h1v1h-1zM15 34h1v1h-1zM48 34h1v1h-1zM71 34h1v1h-1zM71 35h1v1h-1zM47 36h1v1h-1zM71 36h1v1h-1zM4 37h1v1h-1zM71 37h1v1h-1zM16 38h1v1h-1zM37 38h1v1h-1zM71 38h1v1h-1zM2 39h1v1h-1zM16 39h1v1h-1zM25 39h1v1h-1zM71 39h1v1h-1zM1 40h1v1h-1zM16 40h1v1h-1zM71 40h1v1h-1zM16 41h1v1h-1zM36 41h1v1h-1zM45 41h1v1h-1zM71 41h1v1h-1zM24 42h1v1h-1zM60 42h1v1h-1zM60 43h1v1h-1zM69 43h1v1h-1zM61 44h2v1h-2zM66 44h1v1h-1zM15 45h1v1h-1zM23 45h1v1h-1zM35 45h1v1h-1zM43 45h1v1h-1zM79 45h1v1h-1zM43 46h1v1h-1zM57 46h1v1h-1zM59 46h1v1h-1zM76 46h1v1h-1zM14 47h1v1h-1zM55 47h1v1h-1zM60 47h1v1h-1zM34 48h1v1h-1zM22 49h1v1h-1zM42 49h1v1h-1zM61 49h1v1h-1zM33 50h1v1h-1zM42 50h1v1h-1zM52 50h1v1h-1zM42 51h1v1h-1zM62 51h1v1h-1zM32 52h1v1h-1zM42 52h1v1h-1zM51 52h1v1h-1zM21 53h1v1h-1zM42 53h1v1h-1zM51 53h1v1h-1zM7 54h1v1h-1zM31 54h1v1h-1zM42 54h1v1h-1zM76 54h1v1h-1zM6 55h1v1h-1zM42 55h1v1h-1zM63 55h1v1h-1zM77 55h1v1h-1zM4 56h1v1h-1zM42 56h1v1h-1zM51 56h1v1h-1zM78 56h2v1h-2zM30 57h1v1h-1zM42 57h1v1h-1zM3 58h1v1h-1zM42 58h1v1h-1zM3 59h1v1h-1zM29 59h1v1h-1zM42 59h1v1h-1zM52 59h1v1h-1zM3 60h1v1h-1zM42 60h1v1h-1zM53 60h1v1h-1zM62 60h2v1h-2zM55 61h1v1h-1zM59 61h2v1h-2zM74 61h6v1h-6zM28 62h1v1h-1zM72 62h2v1h-2zM79 62h1v1h-1zM2 63h1v1h-1zM72 63h1v1h-1zM41 64h1v1h-1zM1 65h1v1h-1zM0 66h1v1h-1zM12 66h1v1h-1zM71 66h1v1h-1zM11 67h1v1h-1zM25 67h1v1h-1zM10 68h1v1h-1zM24 68h1v1h-1zM8 69h1v1h-1zM36 69h1v1h-1zM70 69h1v1h-1zM6 70h1v1h-1zM52 70h3v1h-3zM64 70h3v1h-3zM70 70h1v1h-1zM22 71h1v1h-1zM33 71h1v1h-1zM69 71h4v1h-4zM78 71h2v1h-2zM3 72h1v1h-1zM70 72h1v1h-1zM0 73h3v1h-3zM0 74h3v1h-3zM30 74h1v1h-1zM48 74h1v1h-1zM0 75h3v1h-3zM0 76h2v1h-2zM29 76h1v1h-1zM0 77h1v1h-1zM19 77h1v1h-1zM47 78h1v1h-1zM28 79h1v1h-1zM47 79h1v1h-1z"/><path fill="#650000" d="M46 0h1v1h-1zM67 0h1v1h-1zM45 1h1v1h-1zM68 1h1v1h-1zM72 1h1v1h-1zM8 2h1v1h-1zM21 2h1v1h-1zM31 2h1v1h-1zM45 2h1v1h-1zM57 2h1v1h-1zM8 3h1v1h-1zM45 3h1v1h-1zM57 3h1v1h-1zM57 4h1v1h-1zM1 6h1v1h-1zM76 6h1v1h-1zM45 7h1v1h-1zM56 7h1v1h-1zM45 8h1v1h-1zM8 9h1v1h-1zM75 9h1v1h-1zM9 10h1v1h-1zM55 10h1v1h-1zM10 11h2v1h-2zM54 11h1v1h-1zM4 12h1v1h-1zM43 12h1v1h-1zM53 12h1v1h-1zM4 13h1v1h-1zM42 13h1v1h-1zM52 13h1v1h-1zM41 14h1v1h-1zM51 14h1v1h-1zM4 15h1v1h-1zM17 17h1v1h-1zM31 17h1v1h-1zM74 17h1v1h-1zM46 18h1v1h-1zM75 18h1v1h-1zM3 19h1v1h-1zM45 19h1v1h-1zM78 19h2v1h-2zM44 20h1v1h-1zM65 20h1v1h-1zM69 20h1v1h-1zM43 21h1v1h-1zM40 22h2v1h-2zM62 22h1v1h-1zM17 23h1v1h-1zM60 23h1v1h-1zM16 25h1v1h-1zM69 25h1v1h-1zM56 26h1v1h-1zM65 26h2v1h-2zM6 27h1v1h-1zM38 27h1v1h-1zM55 27h1v1h-1zM7 28h1v1h-1zM14 28h1v1h-1zM38 28h1v1h-1zM54 28h1v1h-1zM77 28h3v1h-3zM13 30h1v1h-1zM13 31h1v1h-1zM37 31h1v1h-1zM73 31h1v1h-1zM13 32h1v1h-1zM59 32h1v1h-1zM8 33h1v1h-1zM13 33h1v1h-1zM50 33h1v1h-1zM13 34h1v1h-1zM36 35h1v1h-1zM14 36h1v1h-1zM58 36h1v1h-1zM27 37h1v1h-1zM48 37h1v1h-1zM58 37h1v1h-1zM35 38h1v1h-1zM3 40h1v1h-1zM26 40h1v1h-1zM47 40h1v1h-1zM34 41h1v1h-1zM47 41h1v1h-1zM73 41h1v1h-1zM57 42h1v1h-1zM56 43h1v1h-1zM74 43h1v1h-1zM79 43h1v1h-1zM14 44h1v1h-1zM33 44h1v1h-1zM46 44h1v1h-1zM55 44h1v1h-1zM24 45h1v1h-1zM33 45h1v1h-1zM54 45h1v1h-1zM68 45h1v1h-1zM72 45h1v1h-1zM13 46h1v1h-1zM45 46h1v1h-1zM53 46h1v1h-1zM65 46h1v1h-1zM73 46h1v1h-1zM52 47h1v1h-1zM1 48h1v1h-1zM32 48h1v1h-1zM1 49h1v1h-1zM23 49h1v1h-1zM44 49h1v1h-1zM10 50h1v1h-1zM44 50h1v1h-1zM50 50h1v1h-1zM2 51h1v1h-1zM9 51h1v1h-1zM44 51h1v1h-1zM4 52h1v1h-1zM7 52h1v1h-1zM44 52h1v1h-1zM22 53h1v1h-1zM30 53h1v1h-1zM44 53h1v1h-1zM64 53h1v1h-1zM44 54h1v1h-1zM49 54h1v1h-1zM29 55h1v1h-1zM44 55h1v1h-1zM49 55h1v1h-1zM65 55h1v1h-1zM73 55h1v1h-1zM21 56h1v1h-1zM44 56h1v1h-1zM66 56h1v1h-1zM73 56h1v1h-1zM67 57h1v1h-1zM71 57h2v1h-2zM50 59h1v1h-1zM19 60h1v1h-1zM27 60h1v1h-1zM26 62h1v1h-1zM65 62h4v1h-4zM17 63h1v1h-1zM43 63h1v1h-1zM55 63h1v1h-1zM60 63h3v1h-3zM16 64h1v1h-1zM25 64h1v1h-1zM69 64h1v1h-1zM24 65h1v1h-1zM68 66h1v1h-1zM14 67h1v1h-1zM66 67h2v1h-2zM13 68h1v1h-1zM22 68h1v1h-1zM50 68h6v1h-6zM21 69h1v1h-1zM12 70h1v1h-1zM37 70h1v1h-1zM49 70h1v1h-1zM10 71h2v1h-2zM48 71h1v1h-1zM8 72h1v1h-1zM19 72h1v1h-1zM7 73h1v1h-1zM47 73h1v1h-1zM18 74h1v1h-1zM32 74h1v1h-1zM76 74h3v1h-3zM6 75h1v1h-1zM46 75h1v1h-1zM74 75h1v1h-1zM6 76h1v1h-1zM17 76h1v1h-1zM31 76h1v1h-1zM73 76h1v1h-1zM6 77h1v1h-1zM6 78h1v1h-1zM16 78h1v1h-1zM45 78h1v1h-1zM6 79h1v1h-1zM31 79h1v1h-1z"/><path fill="#980000" d="M47 0h1v1h-1zM55 0h1v1h-1zM68 0h1v1h-1zM71 0h1v1h-1zM31 1h1v1h-1zM56 1h1v1h-1zM70 1h1v1h-1zM46 2h1v1h-1zM56 2h1v1h-1zM23 4h1v1h-1zM7 5h1v1h-1zM56 6h1v1h-1zM77 6h2v1h-2zM3 7h1v1h-1zM27 7h1v1h-1zM76 7h1v1h-1zM4 9h1v1h-1zM7 9h1v1h-1zM8 10h1v1h-1zM45 10h1v1h-1zM54 10h1v1h-1zM75 10h1v1h-1zM53 11h1v1h-1zM52 12h1v1h-1zM5 13h1v1h-1zM43 13h1v1h-1zM51 13h1v1h-1zM5 14h1v1h-1zM42 14h1v1h-1zM50 14h1v1h-1zM16 15h1v1h-1zM34 16h1v1h-1zM32 17h1v1h-1zM75 17h1v1h-1zM45 18h1v1h-1zM76 18h1v1h-1zM17 19h1v1h-1zM44 19h1v1h-1zM17 20h1v1h-1zM29 20h1v1h-1zM43 20h1v1h-1zM4 21h1v1h-1zM17 21h1v1h-1zM29 21h1v1h-1zM41 21h1v1h-1zM65 21h1v1h-1zM69 21h1v1h-1zM63 22h1v1h-1zM69 22h1v1h-1zM61 23h1v1h-1zM69 23h1v1h-1zM16 24h1v1h-1zM68 25h1v1h-1zM29 26h1v1h-1zM57 26h1v1h-1zM63 26h1v1h-1zM14 27h1v1h-1zM29 27h1v1h-1zM56 27h1v1h-1zM13 28h1v1h-1zM55 28h1v1h-1zM54 29h1v1h-1zM37 30h1v1h-1zM53 30h1v1h-1zM59 30h1v1h-1zM9 31h1v1h-1zM9 32h1v1h-1zM36 33h1v1h-1zM73 33h1v1h-1zM8 34h1v1h-1zM58 34h1v1h-1zM73 34h1v1h-1zM7 35h1v1h-1zM13 35h1v1h-1zM28 36h1v1h-1zM35 36h1v1h-1zM14 37h1v1h-1zM73 37h1v1h-1zM5 38h1v1h-1zM73 38h1v1h-1zM34 39h1v1h-1zM48 39h1v1h-1zM57 40h1v1h-1zM3 41h1v1h-1zM26 41h1v1h-1zM3 42h1v1h-1zM14 42h1v1h-1zM33 42h1v1h-1zM56 42h1v1h-1zM74 42h1v1h-1zM14 43h1v1h-1zM55 43h1v1h-1zM76 43h2v1h-2zM47 44h1v1h-1zM54 44h1v1h-1zM53 45h1v1h-1zM24 46h1v1h-1zM32 46h1v1h-1zM46 46h1v1h-1zM52 46h1v1h-1zM66 46h1v1h-1zM72 46h1v1h-1zM2 47h1v1h-1zM12 47h1v1h-1zM11 48h1v1h-1zM64 48h1v1h-1zM2 49h1v1h-1zM31 49h1v1h-1zM45 49h1v1h-1zM73 49h1v1h-1zM23 50h1v1h-1zM45 50h1v1h-1zM49 50h1v1h-1zM73 50h1v1h-1zM8 51h1v1h-1zM45 51h1v1h-1zM49 51h1v1h-1zM64 51h1v1h-1zM73 53h1v1h-1zM22 54h1v1h-1zM29 54h1v1h-1zM65 54h1v1h-1zM66 55h1v1h-1zM72 55h1v1h-1zM28 56h1v1h-1zM67 56h1v1h-1zM71 56h1v1h-1zM21 57h1v1h-1zM49 58h1v1h-1zM49 59h1v1h-1zM19 61h1v1h-1zM44 62h1v1h-1zM51 62h1v1h-1zM53 63h1v1h-1zM66 63h2v1h-2zM17 64h1v1h-1zM24 64h1v1h-1zM55 64h8v1h-8zM67 64h2v1h-2zM67 65h1v1h-1zM64 66h3v1h-3zM15 67h1v1h-1zM22 67h1v1h-1zM50 67h7v1h-7zM21 68h1v1h-1zM14 69h1v1h-1zM13 70h1v1h-1zM38 70h1v1h-1zM36 71h1v1h-1zM12 72h1v1h-1zM18 72h1v1h-1zM47 72h1v1h-1zM9 73h3v1h-3zM17 73h1v1h-1zM8 74h1v1h-1zM46 74h1v1h-1zM8 75h1v1h-1zM16 75h1v1h-1zM76 75h3v1h-3zM7 76h1v1h-1zM15 76h1v1h-1zM74 76h1v1h-1zM79 76h1v1h-1zM7 77h1v1h-1zM15 77h1v1h-1zM7 78h1v1h-1zM14 78h1v1h-1zM8 79h1v1h-1zM14 79h1v1h-1z"/><path fill="#b10000" d="M48 0h1v1h-1zM54 0h1v1h-1zM69 0h2v1h-2zM21 1h1v1h-1zM47 1h1v1h-1zM30 3h1v1h-1zM46 3h1v1h-1zM56 3h1v1h-1zM7 4h1v1h-1zM56 4h1v1h-1zM1 5h1v1h-1zM24 5h1v1h-1zM29 5h1v1h-1zM56 5h1v1h-1zM2 6h1v1h-1zM6 7h1v1h-1zM26 7h1v1h-1zM4 8h1v1h-1zM6 8h1v1h-1zM46 8h1v1h-1zM55 8h1v1h-1zM6 9h1v1h-1zM5 10h1v1h-1zM5 11h1v1h-1zM9 11h1v1h-1zM75 11h1v1h-1zM5 12h1v1h-1zM12 12h1v1h-1zM44 12h1v1h-1zM5 15h1v1h-1zM41 15h1v1h-1zM48 15h1v1h-1zM47 16h1v1h-1zM4 17h1v1h-1zM46 17h1v1h-1zM4 18h1v1h-1zM31 18h1v1h-1zM77 18h1v1h-1zM79 18h1v1h-1zM30 19h1v1h-1zM37 21h4v1h-4zM66 21h1v1h-1zM68 21h1v1h-1zM37 22h1v1h-1zM64 22h1v1h-1zM62 23h1v1h-1zM5 24h1v1h-1zM60 24h1v1h-1zM15 25h1v1h-1zM59 25h1v1h-1zM65 25h3v1h-3zM58 26h1v1h-1zM61 27h1v1h-1zM8 28h1v1h-1zM29 28h1v1h-1zM60 28h1v1h-1zM29 29h1v1h-1zM37 29h1v1h-1zM59 29h1v1h-1zM76 29h1v1h-1zM9 30h1v1h-1zM29 30h1v1h-1zM12 31h1v1h-1zM29 31h1v1h-1zM74 31h1v1h-1zM12 32h1v1h-1zM29 32h1v1h-1zM36 32h1v1h-1zM12 33h1v1h-1zM29 33h1v1h-1zM51 33h1v1h-1zM58 33h1v1h-1zM29 34h1v1h-1zM50 34h1v1h-1zM35 35h1v1h-1zM73 35h1v1h-1zM49 36h1v1h-1zM73 36h1v1h-1zM14 38h1v1h-1zM34 38h1v1h-1zM27 39h1v1h-1zM57 39h1v1h-1zM48 40h1v1h-1zM14 41h1v1h-1zM33 41h1v1h-1zM56 41h1v1h-1zM74 41h1v1h-1zM79 42h1v1h-1zM3 43h1v1h-1zM3 44h1v1h-1zM25 44h1v1h-1zM13 45h1v1h-1zM32 45h1v1h-1zM47 45h1v1h-1zM67 46h1v1h-1zM71 46h1v1h-1zM24 47h1v1h-1zM46 47h1v1h-1zM51 47h1v1h-1zM65 47h1v1h-1zM72 47h1v1h-1zM2 48h1v1h-1zM31 48h1v1h-1zM46 48h1v1h-1zM50 48h1v1h-1zM10 49h1v1h-1zM49 49h1v1h-1zM64 49h1v1h-1zM3 50h1v1h-1zM64 50h1v1h-1zM4 51h1v1h-1zM23 51h1v1h-1zM30 51h1v1h-1zM73 51h1v1h-1zM45 52h1v1h-1zM48 52h1v1h-1zM73 52h1v1h-1zM45 53h1v1h-1zM48 53h1v1h-1zM65 53h1v1h-1zM45 54h1v1h-1zM48 54h1v1h-1zM45 55h1v1h-1zM48 55h1v1h-1zM45 56h1v1h-1zM48 56h1v1h-1zM68 56h3v1h-3zM45 57h1v1h-1zM48 57h1v1h-1zM27 58h1v1h-1zM45 58h1v1h-1zM20 60h1v1h-1zM26 60h1v1h-1zM49 60h1v1h-1zM25 62h1v1h-1zM50 62h1v1h-1zM18 63h1v1h-1zM44 63h1v1h-1zM52 63h1v1h-1zM54 64h1v1h-1zM63 64h4v1h-4zM23 65h1v1h-1zM43 65h1v1h-1zM56 65h11v1h-11zM16 66h1v1h-1zM22 66h1v1h-1zM56 66h8v1h-8zM49 67h1v1h-1zM15 68h1v1h-1zM49 68h1v1h-1zM20 69h1v1h-1zM14 70h1v1h-1zM19 70h1v1h-1zM48 70h1v1h-1zM13 71h1v1h-1zM18 71h1v1h-1zM13 72h1v1h-1zM17 72h1v1h-1zM35 72h1v1h-1zM12 73h2v1h-2zM16 73h1v1h-1zM9 74h4v1h-4zM15 74h2v1h-2zM9 75h4v1h-4zM15 75h1v1h-1zM32 75h1v1h-1zM8 76h2v1h-2zM12 76h3v1h-3zM45 76h1v1h-1zM75 76h1v1h-1zM78 76h1v1h-1zM8 77h2v1h-2zM11 77h4v1h-4zM74 77h1v1h-1zM79 77h1v1h-1zM8 78h6v1h-6zM44 78h1v1h-1zM74 78h1v1h-1zM9 79h5v1h-5zM32 79h1v1h-1zM74 79h1v1h-1zM79 79h1v1h-1z"/><path fill="#330000" d="M66 0h1v1h-1zM44 1h1v1h-1zM73 1h1v1h-1zM44 2h1v1h-1zM68 2h2v1h-2zM71 2h2v1h-2zM31 3h1v1h-1zM22 4h1v1h-1zM8 6h1v1h-1zM57 6h1v1h-1zM75 6h1v1h-1zM8 7h1v1h-1zM24 7h1v1h-1zM29 7h1v1h-1zM8 8h1v1h-1zM27 8h1v1h-1zM44 9h1v1h-1zM56 9h1v1h-1zM3 10h1v1h-1zM12 11h1v1h-1zM43 11h1v1h-1zM55 11h1v1h-1zM14 12h1v1h-1zM54 12h1v1h-1zM73 13h1v1h-1zM36 14h2v1h-2zM40 14h1v1h-1zM73 14h1v1h-1zM73 15h1v1h-1zM3 16h1v1h-1zM17 16h1v1h-1zM73 16h1v1h-1zM30 17h1v1h-1zM73 17h1v1h-1zM29 18h1v1h-1zM47 18h1v1h-1zM74 18h1v1h-1zM46 19h1v1h-1zM66 19h4v1h-4zM76 19h1v1h-1zM18 20h1v1h-1zM28 20h1v1h-1zM45 20h1v1h-1zM64 20h1v1h-1zM70 20h1v1h-1zM3 21h1v1h-1zM18 21h1v1h-1zM28 21h1v1h-1zM44 21h1v1h-1zM62 21h1v1h-1zM18 22h1v1h-1zM60 22h1v1h-1zM40 23h1v1h-1zM39 25h1v1h-1zM70 25h1v1h-1zM5 26h1v1h-1zM16 26h1v1h-1zM28 26h1v1h-1zM39 26h1v1h-1zM28 27h1v1h-1zM15 28h1v1h-1zM62 28h1v1h-1zM75 28h1v1h-1zM14 29h1v1h-1zM61 29h1v1h-1zM73 29h1v1h-1zM60 30h1v1h-1zM51 31h1v1h-1zM8 32h1v1h-1zM72 32h1v1h-1zM37 33h1v1h-1zM72 33h1v1h-1zM7 34h1v1h-1zM72 34h1v1h-1zM6 35h1v1h-1zM72 35h1v1h-1zM27 36h1v1h-1zM48 36h1v1h-1zM72 36h1v1h-1zM15 37h1v1h-1zM36 37h1v1h-1zM72 37h1v1h-1zM72 38h1v1h-1zM26 39h1v1h-1zM47 39h1v1h-1zM35 40h1v1h-1zM15 41h1v1h-1zM58 41h1v1h-1zM15 42h1v1h-1zM46 42h1v1h-1zM58 42h1v1h-1zM34 43h1v1h-1zM57 43h1v1h-1zM73 43h1v1h-1zM2 44h1v1h-1zM24 44h1v1h-1zM56 44h1v1h-1zM69 44h2v1h-2zM73 44h6v1h-6zM55 45h1v1h-1zM66 45h1v1h-1zM54 46h1v1h-1zM63 46h1v1h-1zM74 46h1v1h-1zM13 47h1v1h-1zM33 47h1v1h-1zM44 47h1v1h-1zM53 47h1v1h-1zM74 47h1v1h-1zM0 48h1v1h-1zM52 48h1v1h-1zM74 48h1v1h-1zM0 49h1v1h-1zM32 49h1v1h-1zM74 49h1v1h-1zM0 50h1v1h-1zM1 51h1v1h-1zM63 51h1v1h-1zM1 52h2v1h-2zM50 52h1v1h-1zM3 53h4v1h-4zM30 54h1v1h-1zM64 54h1v1h-1zM21 55h1v1h-1zM65 56h1v1h-1zM74 56h1v1h-1zM50 57h1v1h-1zM74 57h1v1h-1zM43 58h1v1h-1zM66 58h1v1h-1zM72 58h2v1h-2zM0 59h1v1h-1zM28 59h1v1h-1zM43 59h1v1h-1zM68 59h3v1h-3zM1 60h1v1h-1zM43 60h1v1h-1zM51 60h1v1h-1zM1 61h1v1h-1zM27 61h1v1h-1zM43 61h1v1h-1zM52 61h1v1h-1zM65 61h2v1h-2zM68 61h2v1h-2zM17 62h1v1h-1zM54 62h1v1h-1zM62 62h1v1h-1zM69 62h1v1h-1zM16 63h1v1h-1zM42 64h1v1h-1zM25 65h1v1h-1zM24 66h1v1h-1zM41 66h1v1h-1zM13 67h1v1h-1zM40 67h1v1h-1zM12 68h1v1h-1zM39 68h1v1h-1zM59 68h9v1h-9zM22 69h1v1h-1zM38 69h1v1h-1zM10 70h1v1h-1zM36 70h1v1h-1zM8 71h1v1h-1zM6 72h1v1h-1zM20 72h1v1h-1zM33 72h1v1h-1zM48 72h1v1h-1zM5 73h1v1h-1zM32 73h1v1h-1zM5 74h1v1h-1zM47 74h1v1h-1zM73 74h1v1h-1zM5 75h1v1h-1zM18 76h1v1h-1zM30 77h1v1h-1zM46 77h1v1h-1zM72 77h1v1h-1zM4 78h1v1h-1zM17 78h1v1h-1zM30 78h1v1h-1zM72 78h1v1h-1zM4 79h1v1h-1zM30 79h1v1h-1zM72 79h1v1h-1z"/><path fill="#0000ca" d="M78 0h2v1h-2zM17 1h1v1h-1zM35 1h1v1h-1zM39 1h1v1h-1zM77 1h1v1h-1zM18 2h1v1h-1zM78 2h2v1h-2zM41 3h1v1h-1zM33 4h1v1h-1zM21 6h1v1h-1zM64 6h1v1h-1zM70 6h1v1h-1zM63 7h1v1h-1zM71 7h1v1h-1zM62 8h1v1h-1zM71 8h1v1h-1zM41 9h1v1h-1zM61 9h1v1h-1zM70 9h2v1h-2zM0 10h1v1h-1zM29 10h1v1h-1zM70 10h1v1h-1zM23 11h1v1h-1zM26 11h1v1h-1zM25 12h1v1h-1zM34 12h1v1h-1zM32 13h1v1h-1zM58 13h1v1h-1zM69 13h1v1h-1zM30 14h1v1h-1zM57 14h1v1h-1zM68 14h1v1h-1zM19 15h1v1h-1zM66 15h1v1h-1zM27 16h1v1h-1zM54 16h1v1h-1zM64 16h1v1h-1zM20 17h1v1h-1zM26 17h1v1h-1zM53 17h1v1h-1zM62 17h1v1h-1zM61 18h1v1h-1zM25 19h1v1h-1zM59 19h1v1h-1zM25 20h1v1h-1zM49 20h1v1h-1zM48 21h1v1h-1zM56 21h1v1h-1zM47 22h1v1h-1zM55 22h1v1h-1zM75 22h2v1h-2zM21 23h1v1h-1zM54 23h1v1h-1zM74 23h1v1h-1zM77 23h2v1h-2zM53 24h1v1h-1zM74 24h1v1h-1zM78 24h1v1h-1zM20 25h1v1h-1zM52 25h1v1h-1zM19 27h1v1h-1zM42 27h1v1h-1zM50 28h1v1h-1zM5 29h1v1h-1zM18 29h1v1h-1zM67 29h1v1h-1zM49 30h1v1h-1zM17 31h1v1h-1zM69 31h1v1h-1zM6 32h1v1h-1zM4 35h1v1h-1zM17 37h1v1h-1zM45 37h1v1h-1zM1 38h1v1h-1zM39 39h1v1h-1zM44 39h1v1h-1zM61 39h1v1h-1zM39 40h1v1h-1zM0 42h1v1h-1zM42 42h1v1h-1zM0 43h1v1h-1zM17 43h1v1h-1zM38 43h1v1h-1zM17 44h1v1h-1zM22 44h1v1h-1zM38 44h1v1h-1zM41 44h1v1h-1zM37 46h1v1h-1zM37 47h1v1h-1zM40 47h1v1h-1zM15 48h1v1h-1zM21 48h1v1h-1zM40 48h1v1h-1zM78 48h2v1h-2zM14 49h1v1h-1zM36 49h1v1h-1zM40 49h1v1h-1zM56 49h3v1h-3zM35 50h1v1h-1zM40 50h1v1h-1zM59 50h1v1h-1zM77 50h1v1h-1zM40 51h1v1h-1zM60 51h1v1h-1zM34 52h1v1h-1zM53 52h1v1h-1zM78 52h2v1h-2zM61 54h1v1h-1zM9 55h1v1h-1zM19 55h1v1h-1zM32 56h1v1h-1zM61 56h1v1h-1zM18 57h1v1h-1zM53 57h1v1h-1zM61 57h1v1h-1zM7 58h1v1h-1zM54 58h1v1h-1zM60 58h1v1h-1zM6 59h1v1h-1zM31 59h1v1h-1zM56 59h1v1h-1zM58 59h2v1h-2zM5 61h1v1h-1zM14 61h1v1h-1zM13 62h1v1h-1zM30 62h1v1h-1zM4 63h1v1h-1zM40 63h1v1h-1zM29 65h1v1h-1zM39 65h1v1h-1zM3 66h1v1h-1zM8 66h1v1h-1zM3 67h1v1h-1zM6 67h1v1h-1zM2 68h3v1h-3zM35 68h1v1h-1zM25 70h1v1h-1zM32 70h1v1h-1zM29 72h1v1h-1zM53 72h3v1h-3zM61 72h2v1h-2zM23 73h1v1h-1zM51 73h1v1h-1zM65 73h1v1h-1zM28 74h1v1h-1zM50 74h1v1h-1zM22 75h1v1h-1zM68 75h1v1h-1zM49 76h1v1h-1zM26 77h1v1h-1zM21 78h1v1h-1zM50 78h1v1h-1zM68 78h1v1h-1zM25 79h1v1h-1zM52 79h2v1h-2zM67 79h1v1h-1z"/><path fill="#ff7b00" d="M3 1h2v1h-2zM29 1h1v1h-1zM3 2h2v1h-2zM24 2h1v1h-1zM25 3h1v1h-1zM50 4h1v1h-1zM52 4h1v1h-1zM49 5h1v1h-1zM53 5h1v1h-1zM49 6h1v1h-1zM50 7h3v1h-3zM78 12h2v1h-2zM78 13h2v1h-2zM10 14h1v1h-1zM9 15h1v1h-1zM8 16h1v1h-1zM7 17h1v1h-1zM14 22h1v1h-1zM12 25h1v1h-1zM33 25h2v1h-2zM8 26h1v1h-1zM11 26h1v1h-1zM34 26h1v1h-1zM32 27h1v1h-1zM34 27h1v1h-1zM32 30h1v1h-1zM34 30h1v1h-1zM32 31h2v1h-2zM78 33h1v1h-1zM54 34h1v1h-1zM76 34h1v1h-1zM79 34h1v1h-1zM52 35h1v1h-1zM55 35h1v1h-1zM51 36h1v1h-1zM55 36h1v1h-1zM55 37h1v1h-1zM76 37h1v1h-1zM7 38h1v1h-1zM12 38h1v1h-1zM55 38h1v1h-1zM77 38h2v1h-2zM54 39h1v1h-1zM6 40h1v1h-1zM12 40h1v1h-1zM51 40h1v1h-1zM53 40h1v1h-1zM12 41h1v1h-1zM29 42h1v1h-1zM28 43h1v1h-1zM27 44h1v1h-1zM10 46h1v1h-1zM26 46h1v1h-1zM29 47h1v1h-1zM6 49h2v1h-2zM68 49h2v1h-2zM28 50h1v1h-1zM68 50h1v1h-1zM25 51h1v1h-1zM68 51h1v1h-1zM70 51h1v1h-1zM25 52h1v1h-1zM27 52h1v1h-1zM68 52h2v1h-2zM25 53h2v1h-2zM25 54h1v1h-1zM43 70h2v1h-2zM44 71h1v1h-1zM40 72h1v1h-1zM44 72h1v1h-1zM42 76h1v1h-1z"/><path fill="#005bff" d="M13 1h1v1h-1zM15 1h1v1h-1zM16 2h1v1h-1zM12 3h1v1h-1zM36 3h1v1h-1zM38 3h1v1h-1zM35 4h1v1h-1zM40 5h1v1h-1zM40 6h1v1h-1zM34 7h1v1h-1zM40 7h1v1h-1zM20 8h1v1h-1zM34 9h1v1h-1zM16 10h1v1h-1zM19 12h3v1h-3zM20 13h1v1h-1zM0 24h1v1h-1zM48 24h2v1h-2zM23 25h1v1h-1zM47 25h1v1h-1zM49 25h1v1h-1zM2 26h1v1h-1zM22 26h1v1h-1zM49 26h1v1h-1zM21 27h1v1h-1zM44 27h1v1h-1zM3 28h1v1h-1zM24 28h1v1h-1zM48 28h1v1h-1zM24 29h1v1h-1zM24 30h1v1h-1zM42 30h1v1h-1zM47 30h1v1h-1zM24 31h1v1h-1zM67 31h1v1h-1zM24 32h1v1h-1zM41 32h1v1h-1zM18 33h1v1h-1zM24 33h1v1h-1zM46 33h1v1h-1zM3 34h1v1h-1zM24 34h1v1h-1zM41 34h1v1h-1zM68 34h1v1h-1zM2 35h1v1h-1zM18 35h1v1h-1zM41 35h1v1h-1zM62 35h1v1h-1zM23 37h1v1h-1zM68 38h1v1h-1zM19 40h1v1h-1zM22 40h1v1h-1zM63 40h1v1h-1zM19 41h1v1h-1zM64 41h1v1h-1zM19 42h1v1h-1zM21 42h1v1h-1zM19 43h2v1h-2zM18 47h2v1h-2zM19 48h1v1h-1zM19 49h1v1h-1zM19 50h1v1h-1zM37 52h1v1h-1zM56 52h2v1h-2zM38 53h1v1h-1zM55 53h1v1h-1zM12 54h1v1h-1zM59 54h1v1h-1zM34 55h1v1h-1zM55 55h1v1h-1zM59 55h1v1h-1zM11 56h1v1h-1zM17 56h1v1h-1zM56 56h1v1h-1zM58 56h1v1h-1zM16 57h1v1h-1zM39 57h1v1h-1zM15 58h1v1h-1zM33 58h1v1h-1zM39 58h1v1h-1zM11 59h3v1h-3zM39 59h1v1h-1zM39 60h1v1h-1zM32 61h1v1h-1zM38 64h1v1h-1zM35 66h1v1h-1zM32 67h2v1h-2zM56 75h6v1h-6zM56 76h2v1h-2zM60 76h3v1h-3zM57 77h5v1h-5z"/><path fill="#0072ff" d="M14 1h1v1h-1zM37 3h1v1h-1zM39 4h1v1h-1zM19 6h1v1h-1zM13 7h1v1h-1zM34 8h1v1h-1zM39 8h1v1h-1zM15 9h1v1h-1zM20 9h1v1h-1zM35 9h4v1h-4zM20 10h1v1h-1zM18 11h1v1h-1zM20 11h1v1h-1zM0 25h2v1h-2zM48 25h1v1h-1zM23 26h1v1h-1zM46 26h3v1h-3zM22 27h2v1h-2zM45 27h1v1h-1zM48 27h1v1h-1zM21 28h1v1h-1zM44 28h1v1h-1zM20 29h1v1h-1zM43 29h1v1h-1zM47 29h1v1h-1zM4 30h1v1h-1zM19 31h1v1h-1zM64 31h1v1h-1zM46 32h1v1h-1zM63 32h1v1h-1zM41 33h1v1h-1zM0 34h1v1h-1zM18 34h1v1h-1zM45 34h1v1h-1zM1 35h1v1h-1zM44 35h1v1h-1zM68 35h1v1h-1zM42 36h2v1h-2zM62 36h1v1h-1zM62 37h1v1h-1zM68 37h1v1h-1zM19 38h1v1h-1zM19 39h1v1h-1zM22 39h1v1h-1zM63 39h1v1h-1zM67 40h1v1h-1zM21 41h1v1h-1zM65 41h2v1h-2zM20 42h1v1h-1zM18 48h1v1h-1zM17 49h2v1h-2zM16 50h1v1h-1zM15 51h1v1h-1zM14 52h1v1h-1zM18 52h1v1h-1zM13 53h1v1h-1zM18 53h1v1h-1zM36 53h2v1h-2zM56 53h3v1h-3zM35 54h1v1h-1zM38 54h1v1h-1zM55 54h1v1h-1zM58 54h1v1h-1zM12 55h1v1h-1zM17 55h1v1h-1zM58 55h1v1h-1zM34 56h1v1h-1zM57 56h1v1h-1zM11 57h1v1h-1zM11 58h2v1h-2zM14 58h1v1h-1zM33 59h1v1h-1zM32 62h1v1h-1zM32 63h1v1h-1zM32 65h1v1h-1zM32 66h1v1h-1zM34 66h1v1h-1zM58 76h2v1h-2z"/><path fill="#0015ff" d="M16 1h1v1h-1zM17 2h1v1h-1zM35 2h1v1h-1zM40 3h1v1h-1zM20 6h1v1h-1zM21 8h1v1h-1zM65 8h4v1h-4zM32 9h1v1h-1zM40 9h1v1h-1zM64 9h1v1h-1zM67 9h2v1h-2zM15 10h1v1h-1zM31 10h1v1h-1zM39 10h1v1h-1zM63 10h2v1h-2zM67 10h2v1h-2zM22 11h1v1h-1zM29 11h2v1h-2zM32 11h3v1h-3zM62 11h2v1h-2zM67 11h1v1h-1zM27 12h2v1h-2zM30 12h2v1h-2zM61 12h2v1h-2zM66 12h2v1h-2zM26 13h1v1h-1zM29 13h1v1h-1zM60 13h2v1h-2zM64 13h2v1h-2zM23 14h1v1h-1zM25 14h1v1h-1zM27 14h1v1h-1zM59 14h6v1h-6zM20 15h1v1h-1zM23 15h2v1h-2zM26 15h1v1h-1zM58 15h5v1h-5zM21 16h1v1h-1zM23 16h1v1h-1zM25 16h1v1h-1zM57 16h5v1h-5zM22 17h3v1h-3zM55 17h5v1h-5zM22 18h2v1h-2zM54 18h2v1h-2zM57 18h2v1h-2zM22 19h2v1h-2zM53 19h1v1h-1zM56 19h1v1h-1zM22 20h3v1h-3zM51 20h2v1h-2zM55 20h1v1h-1zM22 21h1v1h-1zM24 21h1v1h-1zM50 21h1v1h-1zM54 21h1v1h-1zM0 22h1v1h-1zM22 22h1v1h-1zM24 22h1v1h-1zM53 22h1v1h-1zM1 23h1v1h-1zM22 23h1v1h-1zM24 23h1v1h-1zM47 23h1v1h-1zM52 23h1v1h-1zM46 24h1v1h-1zM51 24h1v1h-1zM21 25h1v1h-1zM45 25h1v1h-1zM50 26h1v1h-1zM20 27h1v1h-1zM43 27h1v1h-1zM49 28h1v1h-1zM19 29h1v1h-1zM5 30h1v1h-1zM41 30h1v1h-1zM48 30h1v1h-1zM67 30h1v1h-1zM18 31h1v1h-1zM68 31h1v1h-1zM40 32h1v1h-1zM47 32h1v1h-1zM62 32h1v1h-1zM40 33h1v1h-1zM4 34h1v1h-1zM40 34h1v1h-1zM40 35h1v1h-1zM69 35h1v1h-1zM45 36h1v1h-1zM61 36h1v1h-1zM69 36h1v1h-1zM1 37h1v1h-1zM44 37h1v1h-1zM61 37h1v1h-1zM69 37h1v1h-1zM41 38h1v1h-1zM43 38h1v1h-1zM18 39h1v1h-1zM41 39h2v1h-2zM18 40h1v1h-1zM41 40h1v1h-1zM18 41h1v1h-1zM18 42h1v1h-1zM22 42h1v1h-1zM64 42h1v1h-1zM66 42h1v1h-1zM18 43h1v1h-1zM18 44h1v1h-1zM18 45h1v1h-1zM21 45h1v1h-1zM16 48h1v1h-1zM15 49h1v1h-1zM20 49h1v1h-1zM37 50h2v1h-2zM36 51h1v1h-1zM39 51h1v1h-1zM55 51h1v1h-1zM35 52h1v1h-1zM54 52h1v1h-1zM19 53h1v1h-1zM60 53h1v1h-1zM11 54h1v1h-1zM60 54h1v1h-1zM10 55h1v1h-1zM60 55h1v1h-1zM54 56h1v1h-1zM60 56h1v1h-1zM9 57h1v1h-1zM59 57h1v1h-1zM32 58h1v1h-1zM56 58h3v1h-3zM8 59h1v1h-1zM15 59h1v1h-1zM7 60h1v1h-1zM14 60h1v1h-1zM7 61h1v1h-1zM12 61h1v1h-1zM31 61h1v1h-1zM6 62h1v1h-1zM11 62h1v1h-1zM6 63h1v1h-1zM9 63h2v1h-2zM6 64h1v1h-1zM8 64h1v1h-1zM5 65h3v1h-3zM38 65h1v1h-1zM30 66h1v1h-1zM29 67h1v1h-1zM35 67h1v1h-1zM28 68h1v1h-1zM27 69h1v1h-1zM32 69h1v1h-1zM27 70h1v1h-1zM30 70h1v1h-1zM26 71h1v1h-1zM28 71h1v1h-1zM26 72h2v1h-2zM25 73h1v1h-1zM27 73h1v1h-1zM55 73h3v1h-3zM60 73h2v1h-2zM24 74h3v1h-3zM52 74h2v1h-2zM63 74h2v1h-2zM24 75h2v1h-2zM51 75h1v1h-1zM65 75h2v1h-2zM24 76h2v1h-2zM51 76h1v1h-1zM67 76h1v1h-1zM23 77h2v1h-2zM51 77h2v1h-2zM67 77h1v1h-1zM23 78h2v1h-2zM54 78h2v1h-2zM64 78h3v1h-3zM23 79h1v1h-1zM57 79h5v1h-5z"/><path fill="#ffbe00" d="M24 1h1v1h-1zM28 1h1v1h-1zM27 2h1v1h-1zM10 15h1v1h-1zM13 15h1v1h-1zM9 16h1v1h-1zM8 17h1v1h-1zM7 19h1v1h-1zM7 20h1v1h-1zM7 21h1v1h-1zM13 22h1v1h-1zM8 25h1v1h-1zM11 25h1v1h-1zM53 36h1v1h-1zM9 37h2v1h-2zM52 37h1v1h-1zM54 37h1v1h-1zM11 38h1v1h-1zM52 38h2v1h-2zM6 41h1v1h-1zM11 41h1v1h-1zM11 42h1v1h-1zM9 46h1v1h-1zM28 46h1v1h-1zM8 47h1v1h-1zM27 47h2v1h-2zM6 48h2v1h-2zM27 48h1v1h-1zM40 73h3v1h-3zM38 74h1v1h-1zM42 74h1v1h-1zM41 76h1v1h-1zM40 77h1v1h-1zM37 79h2v1h-2z"/><path fill="#008aff" d="M13 2h1v1h-1zM15 2h1v1h-1zM13 3h1v1h-1zM16 3h1v1h-1zM13 4h1v1h-1zM17 4h1v1h-1zM36 4h1v1h-1zM13 5h1v1h-1zM18 5h1v1h-1zM35 5h1v1h-1zM39 5h1v1h-1zM13 6h1v1h-1zM35 6h1v1h-1zM19 7h1v1h-1zM35 7h1v1h-1zM39 7h1v1h-1zM14 8h1v1h-1zM35 8h1v1h-1zM38 8h1v1h-1zM17 10h1v1h-1zM19 11h1v1h-1zM0 26h2v1h-2zM2 27h1v1h-1zM46 27h2v1h-2zM23 28h1v1h-1zM47 28h1v1h-1zM3 29h1v1h-1zM20 30h1v1h-1zM43 30h1v1h-1zM42 31h1v1h-1zM46 31h1v1h-1zM66 31h1v1h-1zM4 32h1v1h-1zM19 32h1v1h-1zM67 32h1v1h-1zM0 33h1v1h-1zM3 33h1v1h-1zM63 33h1v1h-1zM1 34h2v1h-2zM42 35h2v1h-2zM23 36h1v1h-1zM68 36h1v1h-1zM19 37h1v1h-1zM22 38h1v1h-1zM67 39h1v1h-1zM20 40h2v1h-2zM64 40h1v1h-1zM20 41h1v1h-1zM17 50h2v1h-2zM16 51h1v1h-1zM18 51h1v1h-1zM15 52h1v1h-1zM14 53h1v1h-1zM13 54h1v1h-1zM17 54h1v1h-1zM36 54h2v1h-2zM56 54h2v1h-2zM35 55h1v1h-1zM38 55h1v1h-1zM56 55h2v1h-2zM12 56h1v1h-1zM16 56h1v1h-1zM38 56h1v1h-1zM12 57h1v1h-1zM15 57h1v1h-1zM34 57h1v1h-1zM13 58h1v1h-1zM38 63h1v1h-1zM32 64h1v1h-1zM37 64h1v1h-1zM36 65h1v1h-1zM33 66h1v1h-1z"/><path fill="#00a1ff" d="M14 2h1v1h-1zM14 3h2v1h-2zM37 4h2v1h-2zM39 6h1v1h-1zM14 7h1v1h-1zM19 8h1v1h-1zM36 8h2v1h-2zM16 9h1v1h-1zM19 9h1v1h-1zM18 10h2v1h-2zM0 27h1v1h-1zM2 28h1v1h-1zM22 28h1v1h-1zM45 28h2v1h-2zM21 29h1v1h-1zM23 29h1v1h-1zM44 29h3v1h-3zM23 30h1v1h-1zM46 30h1v1h-1zM4 31h1v1h-1zM20 31h1v1h-1zM23 31h1v1h-1zM65 31h1v1h-1zM42 32h1v1h-1zM64 32h1v1h-1zM45 33h1v1h-1zM67 33h1v1h-1zM42 34h1v1h-1zM44 34h1v1h-1zM63 34h1v1h-1zM67 34h1v1h-1zM23 35h1v1h-1zM19 36h1v1h-1zM22 37h1v1h-1zM63 38h1v1h-1zM67 38h1v1h-1zM20 39h2v1h-2zM65 40h2v1h-2zM17 51h1v1h-1zM16 52h2v1h-2zM17 53h1v1h-1zM13 55h1v1h-1zM16 55h1v1h-1zM13 56h1v1h-1zM35 56h1v1h-1zM13 57h2v1h-2zM38 57h1v1h-1zM34 58h1v1h-1zM38 58h1v1h-1zM38 59h1v1h-1zM33 60h1v1h-1zM38 60h1v1h-1zM38 61h1v1h-1zM38 62h1v1h-1zM33 65h3v1h-3z"/><path fill="#ffa700" d="M25 2h1v1h-1zM14 17h1v1h-1zM7 18h1v1h-1zM14 18h1v1h-1zM14 19h1v1h-1zM14 20h1v1h-1zM14 21h1v1h-1zM7 22h1v1h-1zM7 23h1v1h-1zM12 24h1v1h-1zM10 26h1v1h-1zM77 34h1v1h-1zM77 35h2v1h-2zM52 36h1v1h-1zM54 36h1v1h-1zM77 36h2v1h-2zM54 38h1v1h-1zM7 39h1v1h-1zM52 39h2v1h-2zM11 43h1v1h-1zM5 44h1v1h-1zM5 45h1v1h-1zM10 45h1v1h-1zM28 45h1v1h-1zM5 46h1v1h-1zM27 46h1v1h-1zM5 47h1v1h-1zM28 48h1v1h-1zM26 49h2v1h-2zM26 50h2v1h-2zM26 51h1v1h-1zM42 72h1v1h-1zM39 73h1v1h-1zM37 74h1v1h-1zM42 75h1v1h-1zM35 76h1v1h-1zM35 77h1v1h-1zM40 78h1v1h-1z"/><path fill="#00b8ff" d="M14 4h1v1h-1zM16 4h1v1h-1zM14 5h1v1h-1zM17 5h1v1h-1zM36 5h1v1h-1zM38 5h1v1h-1zM14 6h1v1h-1zM18 6h1v1h-1zM36 6h1v1h-1zM36 7h1v1h-1zM38 7h1v1h-1zM15 8h1v1h-1zM17 9h2v1h-2zM1 27h1v1h-1zM0 28h1v1h-1zM0 29h1v1h-1zM22 29h1v1h-1zM0 30h1v1h-1zM3 30h1v1h-1zM21 30h2v1h-2zM44 30h2v1h-2zM43 31h1v1h-1zM45 31h1v1h-1zM0 32h1v1h-1zM3 32h1v1h-1zM23 32h1v1h-1zM45 32h1v1h-1zM66 32h1v1h-1zM1 33h2v1h-2zM19 33h1v1h-1zM23 33h1v1h-1zM42 33h1v1h-1zM19 34h1v1h-1zM23 34h1v1h-1zM43 34h1v1h-1zM19 35h1v1h-1zM63 35h1v1h-1zM67 35h1v1h-1zM20 37h1v1h-1zM63 37h1v1h-1zM67 37h1v1h-1zM20 38h2v1h-2zM64 39h1v1h-1zM66 39h1v1h-1zM15 53h2v1h-2zM14 54h3v1h-3zM14 55h2v1h-2zM36 55h2v1h-2zM14 56h2v1h-2zM36 56h2v1h-2zM35 57h1v1h-1zM34 59h1v1h-1zM33 61h1v1h-1zM33 62h1v1h-1zM33 63h1v1h-1zM33 64h1v1h-1zM36 64h1v1h-1z"/><path fill="#00cfff" d="M15 4h1v1h-1zM15 5h2v1h-2zM37 5h1v1h-1zM37 6h2v1h-2zM15 7h1v1h-1zM18 7h1v1h-1zM37 7h1v1h-1zM18 8h1v1h-1zM1 28h1v1h-1zM1 29h2v1h-2zM0 31h1v1h-1zM3 31h1v1h-1zM21 31h2v1h-2zM44 31h1v1h-1zM20 32h1v1h-1zM43 32h2v1h-2zM65 32h1v1h-1zM43 33h2v1h-2zM64 33h1v1h-1zM66 33h1v1h-1zM20 36h1v1h-1zM22 36h1v1h-1zM63 36h1v1h-1zM67 36h1v1h-1zM21 37h1v1h-1zM64 38h1v1h-1zM66 38h1v1h-1zM65 39h1v1h-1zM36 57h2v1h-2zM35 58h1v1h-1zM37 58h1v1h-1zM37 59h1v1h-1zM34 60h1v1h-1zM37 63h1v1h-1zM34 64h2v1h-2z"/><path fill="#00e7ff" d="M15 6h3v1h-3zM16 8h2v1h-2zM1 30h2v1h-2zM1 31h1v1h-1zM1 32h2v1h-2zM21 32h2v1h-2zM20 33h1v1h-1zM22 33h1v1h-1zM65 33h1v1h-1zM22 34h1v1h-1zM64 34h1v1h-1zM66 34h1v1h-1zM20 35h1v1h-1zM22 35h1v1h-1zM64 35h1v1h-1zM21 36h1v1h-1zM64 37h1v1h-1zM65 38h1v1h-1zM36 58h1v1h-1zM35 59h2v1h-2zM37 60h1v1h-1zM34 61h1v1h-1zM37 61h1v1h-1zM37 62h1v1h-1zM34 63h1v1h-1zM36 63h1v1h-1z"/><path fill="#14f2ff" d="M16 7h2v1h-2zM2 31h1v1h-1zM21 33h1v1h-1zM20 34h1v1h-1zM65 34h1v1h-1zM21 35h1v1h-1zM65 35h2v1h-2zM64 36h1v1h-1zM66 36h1v1h-1zM65 37h2v1h-2zM35 60h2v1h-2zM36 61h1v1h-1zM34 62h1v1h-1zM35 63h1v1h-1z"/><path fill="#ffff96" d="M10 18h3v1h-3zM9 19h4v1h-4zM9 20h4v1h-4zM9 21h3v1h-3zM9 22h2v1h-2zM8 42h2v1h-2zM7 43h3v1h-3zM8 44h1v1h-1z"/><path fill="#35f7ff" d="M21 34h1v1h-1zM65 36h1v1h-1zM35 61h1v1h-1zM35 62h2v1h-2z"/></g></g>
<rect x="873.8" y="32.4" width="341.4" height="338.0" fill="none" stroke="#222" stroke-width="0.8"/>
<rect x="995" y="198.5" width="96" height="95.5" fill="none" stroke="#fff" stroke-width="3.1" stroke-dasharray="13 9.5"/>
<g font-family='"Liberation Sans", Arial, sans-serif' font-size="20" fill="#222"><text x="874" y="399.7" text-anchor="middle">0</text><text x="959" y="399.7" text-anchor="middle">2</text><text x="1044" y="399.7" text-anchor="middle">4</text><text x="1129" y="399.7" text-anchor="middle">6</text><text x="1214" y="399.7" text-anchor="middle">8</text><text x="866" y="40.7" text-anchor="end" fill="#666">0</text><text x="866" y="126.3" text-anchor="end">2</text><text x="866" y="210.4" text-anchor="end">4</text><text x="866" y="295.3" text-anchor="end">6</text><text x="866" y="379.0" text-anchor="end">8</text><text x="1043.3" y="430.6" text-anchor="middle" font-size="23.2">x axis (mm)</text><text transform="translate(842.3,201.7) rotate(-90)" text-anchor="middle" font-size="23.4">y axis (mm)</text></g>
<rect x="1336.8" y="41.3" width="424.9" height="321.2" fill="#fff"/><g stroke="#e0e0e0" stroke-width="1"><line x1="1443.0" y1="41.3" x2="1443.0" y2="362.5"/><line x1="1549.2" y1="41.3" x2="1549.2" y2="362.5"/><line x1="1655.4" y1="41.3" x2="1655.4" y2="362.5"/><line x1="1336.8" y1="348.1" x2="1761.7" y2="348.1"/><line x1="1336.8" y1="275.2" x2="1761.7" y2="275.2"/><line x1="1336.8" y1="202.2" x2="1761.7" y2="202.2"/><line x1="1336.8" y1="129.3" x2="1761.7" y2="129.3"/></g><polygon points="1336.9,273.1 1338.0,272.4 1339.0,271.7 1340.1,271.0 1341.1,270.3 1342.2,269.6 1343.3,268.8 1344.3,268.1 1345.4,267.3 1346.5,266.6 1347.5,265.8 1348.6,265.0 1349.6,264.2 1350.7,263.4 1351.8,262.6 1352.8,261.7 1353.9,260.9 1354.9,260.1 1356.0,259.3 1357.1,258.4 1358.1,257.6 1359.2,256.8 1360.3,256.0 1361.3,255.2 1362.4,254.4 1363.4,253.6 1364.5,252.8 1365.6,252.0 1366.6,251.2 1367.7,250.5 1368.7,249.7 1369.8,249.0 1370.9,248.3 1371.9,247.6 1373.0,246.9 1374.1,246.3 1375.1,245.7 1376.2,245.1 1377.2,244.5 1378.3,244.0 1379.4,243.5 1380.4,243.0 1381.5,242.6 1382.5,242.2 1383.6,241.8 1384.7,241.5 1385.7,241.2 1386.8,241.0 1387.9,240.8 1388.9,240.6 1390.0,240.5 1391.0,240.5 1392.1,240.6 1393.2,240.7 1394.2,240.8 1395.3,241.1 1396.3,241.3 1397.4,241.6 1398.5,242.0 1399.5,242.4 1400.6,242.8 1401.7,243.3 1402.7,243.9 1403.8,244.4 1404.8,245.1 1405.9,245.8 1407.0,246.5 1408.0,247.2 1409.1,248.0 1410.1,248.9 1411.2,249.8 1412.3,250.7 1413.3,251.7 1414.4,252.7 1415.5,253.7 1416.5,254.8 1417.6,255.9 1418.6,257.1 1419.7,258.3 1420.8,259.5 1421.8,260.8 1422.9,261.9 1423.9,263.1 1425.0,264.2 1426.1,265.4 1427.1,266.6 1428.2,267.8 1429.3,269.1 1430.3,270.3 1431.4,271.6 1432.4,272.8 1433.5,273.9 1434.6,274.9 1435.6,276.0 1436.7,277.0 1437.7,278.1 1438.8,279.1 1439.9,280.1 1440.9,281.1 1442.0,282.1 1443.0,283.0 1444.1,283.9 1445.2,284.8 1446.2,285.7 1447.3,286.5 1448.4,287.3 1449.4,288.0 1450.5,288.7 1451.5,289.4 1452.6,290.0 1453.7,290.5 1454.7,291.2 1455.8,291.9 1456.8,292.5 1457.9,293.0 1459.0,293.5 1460.0,293.9 1461.1,294.2 1462.2,294.4 1463.2,294.6 1464.3,294.6 1465.3,294.6 1466.4,294.8 1467.5,295.0 1468.5,295.2 1469.6,295.3 1470.6,295.3 1471.7,295.2 1472.8,294.9 1473.8,294.6 1474.9,294.2 1476.0,294.0 1477.0,293.6 1478.1,293.1 1479.1,292.5 1480.2,291.9 1481.3,291.1 1482.3,290.2 1483.4,289.2 1484.4,288.1 1485.5,286.8 1486.6,285.5 1487.6,284.1 1488.7,282.6 1489.8,280.9 1490.8,279.1 1491.9,277.2 1492.9,275.2 1494.0,273.1 1495.1,270.9 1496.1,268.5 1497.2,265.9 1498.2,263.3 1499.3,260.5 1500.4,257.5 1501.4,254.5 1502.5,251.4 1503.6,248.2 1504.6,244.9 1505.7,241.5 1506.7,238.0 1507.8,234.4 1508.9,230.7 1509.9,227.0 1511.0,223.2 1512.0,219.4 1513.1,215.5 1514.2,211.7 1515.2,207.8 1516.3,203.9 1517.4,200.1 1518.4,196.1 1519.5,192.2 1520.5,188.3 1521.6,184.5 1522.7,180.7 1523.7,177.0 1524.8,173.4 1525.8,169.8 1526.9,166.4 1528.0,163.1 1529.0,159.8 1530.1,156.7 1531.2,153.6 1532.2,150.7 1533.3,147.9 1534.3,145.3 1535.4,142.8 1536.5,140.5 1537.5,138.3 1538.6,136.3 1539.6,134.5 1540.7,132.9 1541.8,131.5 1542.8,130.3 1543.9,129.3 1545.0,128.6 1546.0,128.0 1547.1,127.6 1548.1,127.5 1549.2,127.5 1550.3,127.5 1551.3,127.6 1552.4,128.0 1553.4,128.6 1554.5,129.3 1555.6,130.3 1556.6,131.5 1557.7,132.9 1558.8,134.5 1559.8,136.3 1560.9,138.3 1561.9,140.5 1563.0,142.8 1564.1,145.3 1565.1,147.9 1566.2,150.7 1567.2,153.6 1568.3,156.7 1569.4,159.8 1570.4,163.1 1571.5,166.4 1572.6,169.8 1573.6,173.4 1574.7,177.0 1575.7,180.7 1576.8,184.5 1577.9,188.3 1578.9,192.2 1580.0,196.1 1581.0,200.1 1582.1,203.9 1583.2,207.8 1584.2,211.7 1585.3,215.5 1586.4,219.4 1587.4,223.2 1588.5,227.0 1589.5,230.7 1590.6,234.4 1591.7,238.0 1592.7,241.5 1593.8,244.9 1594.8,248.2 1595.9,251.4 1597.0,254.5 1598.0,257.5 1599.1,260.5 1600.2,263.3 1601.2,265.9 1602.3,268.5 1603.3,270.9 1604.4,273.1 1605.5,275.2 1606.5,277.2 1607.6,279.1 1608.6,280.9 1609.7,282.6 1610.8,284.1 1611.8,285.5 1612.9,286.8 1614.0,288.1 1615.0,289.2 1616.1,290.2 1617.1,291.1 1618.2,291.9 1619.3,292.5 1620.3,293.1 1621.4,293.6 1622.4,294.0 1623.5,294.2 1624.6,294.6 1625.6,294.9 1626.7,295.2 1627.8,295.3 1628.8,295.3 1629.9,295.2 1630.9,295.0 1632.0,294.8 1633.1,294.6 1634.1,294.6 1635.2,294.6 1636.2,294.4 1637.3,294.2 1638.4,293.9 1639.4,293.5 1640.5,293.0 1641.6,292.5 1642.6,291.9 1643.7,291.2 1644.7,290.5 1645.8,290.0 1646.9,289.4 1647.9,288.7 1649.0,288.0 1650.0,287.3 1651.1,286.5 1652.2,285.7 1653.2,284.8 1654.3,283.9 1655.4,283.0 1656.4,282.1 1657.5,281.1 1658.5,280.1 1659.6,279.1 1660.7,278.1 1661.7,277.0 1662.8,276.0 1663.8,274.9 1664.9,273.9 1666.0,272.8 1667.0,271.6 1668.1,270.3 1669.1,269.1 1670.2,267.8 1671.3,266.6 1672.3,265.4 1673.4,264.2 1674.5,263.1 1675.5,261.9 1676.6,260.8 1677.6,259.5 1678.7,258.3 1679.8,257.1 1680.8,255.9 1681.9,254.8 1682.9,253.7 1684.0,252.7 1685.1,251.7 1686.1,250.7 1687.2,249.8 1688.3,248.9 1689.3,248.0 1690.4,247.2 1691.4,246.5 1692.5,245.8 1693.6,245.1 1694.6,244.4 1695.7,243.9 1696.7,243.3 1697.8,242.8 1698.9,242.4 1699.9,242.0 1701.0,241.6 1702.1,241.3 1703.1,241.1 1704.2,240.8 1705.2,240.7 1706.3,240.6 1707.4,240.5 1708.4,240.5 1709.5,240.6 1710.5,240.8 1711.6,241.0 1712.7,241.2 1713.7,241.5 1714.8,241.8 1715.9,242.2 1716.9,242.6 1718.0,243.0 1719.0,243.5 1720.1,244.0 1721.2,244.5 1722.2,245.1 1723.3,245.7 1724.3,246.3 1725.4,246.9 1726.5,247.6 1727.5,248.3 1728.6,249.0 1729.7,249.7 1730.7,250.5 1731.8,251.2 1732.8,252.0 1733.9,252.8 1735.0,253.6 1736.0,254.4 1737.1,255.2 1738.1,256.0 1739.2,256.8 1740.3,257.6 1741.3,258.4 1742.4,259.3 1743.5,260.1 1744.5,260.9 1745.6,261.7 1746.6,262.6 1747.7,263.4 1748.8,264.2 1749.8,265.0 1750.9,265.8 1751.9,266.6 1753.0,267.3 1754.1,268.1 1755.1,268.8 1756.2,269.6 1757.3,270.3 1758.3,271.0 1759.4,271.7 1760.4,272.4 1761.5,273.1 1761.5,287.7 1760.4,287.2 1759.4,286.7 1758.3,286.1 1757.3,285.6 1756.2,285.1 1755.1,284.5 1754.1,283.9 1753.0,283.3 1751.9,282.7 1750.9,282.1 1749.8,281.5 1748.8,280.9 1747.7,280.2 1746.6,279.6 1745.6,279.0 1744.5,278.3 1743.5,277.7 1742.4,277.0 1741.3,276.4 1740.3,275.7 1739.2,275.1 1738.1,274.4 1737.1,273.8 1736.0,273.2 1735.0,272.6 1733.9,272.0 1732.8,271.5 1731.8,270.9 1730.7,270.4 1729.7,269.9 1728.6,269.4 1727.5,268.9 1726.5,268.4 1725.4,268.0 1724.3,267.6 1723.3,267.2 1722.2,266.9 1721.2,266.5 1720.1,266.2 1719.0,266.0 1718.0,265.7 1716.9,265.5 1715.9,265.4 1714.8,265.2 1713.7,265.1 1712.7,265.1 1711.6,265.1 1710.5,265.1 1709.5,265.2 1708.4,265.3 1707.4,265.3 1706.3,265.4 1705.2,265.5 1704.2,265.7 1703.1,266.0 1702.1,266.2 1701.0,266.6 1699.9,266.9 1698.9,267.3 1697.8,267.8 1696.7,268.3 1695.7,268.9 1694.6,269.5 1693.6,270.2 1692.5,270.9 1691.4,271.6 1690.4,272.5 1689.3,273.4 1688.3,274.3 1687.2,275.2 1686.1,276.2 1685.1,277.3 1684.0,278.4 1682.9,279.5 1681.9,280.7 1680.8,281.9 1679.8,283.1 1678.7,284.4 1677.6,285.7 1676.6,287.1 1675.5,288.6 1674.5,290.2 1673.4,291.8 1672.3,293.4 1671.3,295.1 1670.2,296.7 1669.1,298.4 1668.1,300.1 1667.0,301.8 1666.0,303.5 1664.9,305.4 1663.8,307.3 1662.8,309.2 1661.7,311.2 1660.7,313.1 1659.6,315.0 1658.5,316.9 1657.5,318.7 1656.4,320.6 1655.4,322.4 1654.3,324.2 1653.2,326.0 1652.2,327.7 1651.1,329.4 1650.0,331.1 1649.0,332.7 1647.9,334.3 1646.9,335.8 1645.8,337.2 1644.7,338.7 1643.7,339.8 1642.6,340.8 1641.6,341.8 1640.5,342.7 1639.4,343.6 1638.4,344.3 1637.3,345.0 1636.2,345.6 1635.2,346.2 1634.1,346.6 1633.1,347.0 1632.0,347.0 1630.9,346.8 1629.9,346.4 1628.8,346.0 1627.8,345.4 1626.7,344.8 1625.6,344.1 1624.6,343.3 1623.5,342.4 1622.4,341.1 1621.4,339.8 1620.3,338.4 1619.3,336.8 1618.2,335.2 1617.1,333.4 1616.1,331.6 1615.0,329.6 1614.0,327.5 1612.9,325.4 1611.8,323.1 1610.8,320.6 1609.7,318.1 1608.6,315.4 1607.6,312.7 1606.5,309.8 1605.5,306.8 1604.4,303.7 1603.3,300.5 1602.3,297.1 1601.2,293.7 1600.2,290.2 1599.1,286.6 1598.0,282.9 1597.0,279.0 1595.9,275.1 1594.8,271.0 1593.8,266.9 1592.7,262.7 1591.7,258.4 1590.6,254.2 1589.5,249.8 1588.5,245.5 1587.4,241.0 1586.4,236.6 1585.3,232.1 1584.2,227.6 1583.2,223.1 1582.1,218.6 1581.0,214.1 1580.0,209.7 1578.9,205.4 1577.9,201.2 1576.8,196.9 1575.7,192.8 1574.7,188.7 1573.6,184.7 1572.6,180.8 1571.5,177.0 1570.4,173.3 1569.4,169.7 1568.3,166.3 1567.2,163.0 1566.2,159.8 1565.1,156.7 1564.1,153.7 1563.0,151.0 1561.9,148.3 1560.9,145.9 1559.8,143.6 1558.8,141.4 1557.7,139.5 1556.6,137.7 1555.6,136.1 1554.5,134.7 1553.4,133.6 1552.4,132.6 1551.3,131.9 1550.3,131.4 1549.2,131.0 1548.1,131.4 1547.1,131.9 1546.0,132.6 1545.0,133.6 1543.9,134.7 1542.8,136.1 1541.8,137.7 1540.7,139.5 1539.6,141.4 1538.6,143.6 1537.5,145.9 1536.5,148.3 1535.4,151.0 1534.3,153.7 1533.3,156.7 1532.2,159.8 1531.2,163.0 1530.1,166.3 1529.0,169.7 1528.0,173.3 1526.9,177.0 1525.8,180.8 1524.8,184.7 1523.7,188.7 1522.7,192.8 1521.6,196.9 1520.5,201.2 1519.5,205.4 1518.4,209.7 1517.4,214.1 1516.3,218.6 1515.2,223.1 1514.2,227.6 1513.1,232.1 1512.0,236.6 1511.0,241.0 1509.9,245.5 1508.9,249.8 1507.8,254.2 1506.7,258.4 1505.7,262.7 1504.6,266.9 1503.6,271.0 1502.5,275.1 1501.4,279.0 1500.4,282.9 1499.3,286.6 1498.2,290.2 1497.2,293.7 1496.1,297.1 1495.1,300.5 1494.0,303.7 1492.9,306.8 1491.9,309.8 1490.8,312.7 1489.8,315.4 1488.7,318.1 1487.6,320.6 1486.6,323.1 1485.5,325.4 1484.4,327.5 1483.4,329.6 1482.3,331.6 1481.3,333.4 1480.2,335.2 1479.1,336.8 1478.1,338.4 1477.0,339.8 1476.0,341.1 1474.9,342.4 1473.8,343.3 1472.8,344.1 1471.7,344.8 1470.6,345.4 1469.6,346.0 1468.5,346.4 1467.5,346.8 1466.4,347.0 1465.3,347.0 1464.3,346.6 1463.2,346.2 1462.2,345.6 1461.1,345.0 1460.0,344.3 1459.0,343.6 1457.9,342.7 1456.8,341.8 1455.8,340.8 1454.7,339.8 1453.7,338.7 1452.6,337.2 1451.5,335.8 1450.5,334.3 1449.4,332.7 1448.4,331.1 1447.3,329.4 1446.2,327.7 1445.2,326.0 1444.1,324.2 1443.0,322.4 1442.0,320.6 1440.9,318.7 1439.9,316.9 1438.8,315.0 1437.7,313.1 1436.7,311.2 1435.6,309.2 1434.6,307.3 1433.5,305.4 1432.4,303.5 1431.4,301.8 1430.3,300.1 1429.3,298.4 1428.2,296.7 1427.1,295.1 1426.1,293.4 1425.0,291.8 1423.9,290.2 1422.9,288.6 1421.8,287.1 1420.8,285.7 1419.7,284.4 1418.6,283.1 1417.6,281.9 1416.5,280.7 1415.5,279.5 1414.4,278.4 1413.3,277.3 1412.3,276.2 1411.2,275.2 1410.1,274.3 1409.1,273.4 1408.0,272.5 1407.0,271.6 1405.9,270.9 1404.8,270.2 1403.8,269.5 1402.7,268.9 1401.7,268.3 1400.6,267.8 1399.5,267.3 1398.5,266.9 1397.4,266.6 1396.3,266.2 1395.3,266.0 1394.2,265.7 1393.2,265.5 1392.1,265.4 1391.0,265.3 1390.0,265.3 1388.9,265.2 1387.9,265.1 1386.8,265.1 1385.7,265.1 1384.7,265.1 1383.6,265.2 1382.5,265.4 1381.5,265.5 1380.4,265.7 1379.4,266.0 1378.3,266.2 1377.2,266.5 1376.2,266.9 1375.1,267.2 1374.1,267.6 1373.0,268.0 1371.9,268.4 1370.9,268.9 1369.8,269.4 1368.7,269.9 1367.7,270.4 1366.6,270.9 1365.6,271.5 1364.5,272.0 1363.4,272.6 1362.4,273.2 1361.3,273.8 1360.3,274.4 1359.2,275.1 1358.1,275.7 1357.1,276.4 1356.0,277.0 1354.9,277.7 1353.9,278.3 1352.8,279.0 1351.8,279.6 1350.7,280.2 1349.6,280.9 1348.6,281.5 1347.5,282.1 1346.5,282.7 1345.4,283.3 1344.3,283.9 1343.3,284.5 1342.2,285.1 1341.1,285.6 1340.1,286.1 1339.0,286.7 1338.0,287.2 1336.9,287.7" fill="#d4d4d4" stroke="#9a9a9a" stroke-width="0.9"/><polyline fill="none" stroke="#f00" stroke-width="2.4" points="1336.9,295.3 1338.0,295.2 1339.0,295.1 1340.1,294.9 1341.1,294.6 1342.2,294.3 1343.3,294.0 1344.3,293.5 1345.4,293.1 1346.5,292.5 1347.5,291.9 1348.6,291.3 1349.6,290.6 1350.7,289.9 1351.8,289.1 1352.8,288.2 1353.9,287.3 1354.9,286.4 1356.0,285.4 1357.1,284.4 1358.1,283.4 1359.2,282.3 1360.3,281.2 1361.3,280.0 1362.4,278.8 1363.4,277.6 1364.5,276.4 1365.6,275.2 1366.6,273.9 1367.7,272.7 1368.7,271.4 1369.8,270.1 1370.9,268.9 1371.9,267.6 1373.0,266.3 1374.1,265.1 1375.1,263.8 1376.2,262.6 1377.2,261.4 1378.3,260.3 1379.4,259.1 1380.4,258.0 1381.5,256.9 1382.5,255.9 1383.6,254.9 1384.7,253.9 1385.7,253.0 1386.8,252.2 1387.9,251.4 1388.9,250.6 1390.0,249.9 1391.0,249.3 1392.1,248.8 1393.2,248.3 1394.2,247.8 1395.3,247.5 1396.3,247.2 1397.4,247.0 1398.5,246.9 1399.5,246.9 1400.6,246.9 1401.7,247.0 1402.7,247.2 1403.8,247.5 1404.8,247.8 1405.9,248.3 1407.0,248.8 1408.0,249.4 1409.1,250.1 1410.1,250.9 1411.2,251.7 1412.3,252.6 1413.3,253.6 1414.4,254.7 1415.5,255.9 1416.5,257.1 1417.6,258.4 1418.6,259.7 1419.7,261.1 1420.8,262.6 1421.8,264.2 1422.9,265.8 1423.9,267.4 1425.0,269.1 1426.1,270.8 1427.1,272.6 1428.2,274.4 1429.3,276.3 1430.3,278.2 1431.4,280.1 1432.4,282.0 1433.5,283.9 1434.6,285.9 1435.6,287.8 1436.7,289.8 1437.7,291.7 1438.8,293.7 1439.9,295.6 1440.9,297.5 1442.0,299.3 1443.0,301.2 1444.1,303.0 1445.2,304.8 1446.2,306.5 1447.3,308.1 1448.4,309.8 1449.4,311.3 1450.5,312.8 1451.5,314.2 1452.6,315.5 1453.7,316.8 1454.7,318.0 1455.8,319.1 1456.8,320.0 1457.9,320.9 1459.0,321.7 1460.0,322.4 1461.1,323.0 1462.2,323.4 1463.2,323.8 1464.3,324.0 1465.3,324.1 1466.4,324.1 1467.5,324.0 1468.5,323.7 1469.6,323.3 1470.6,322.8 1471.7,322.1 1472.8,321.4 1473.8,320.4 1474.9,319.4 1476.0,318.2 1477.0,316.9 1478.1,315.4 1479.1,313.8 1480.2,312.1 1481.3,310.2 1482.3,308.2 1483.4,306.1 1484.4,303.9 1485.5,301.5 1486.6,299.1 1487.6,296.5 1488.7,293.8 1489.8,291.0 1490.8,288.0 1491.9,285.0 1492.9,281.9 1494.0,278.7 1495.1,275.4 1496.1,272.0 1497.2,268.5 1498.2,265.0 1499.3,261.3 1500.4,257.7 1501.4,253.9 1502.5,250.2 1503.6,246.3 1504.6,242.5 1505.7,238.6 1506.7,234.6 1507.8,230.7 1508.9,226.7 1509.9,222.8 1511.0,218.8 1512.0,214.9 1513.1,210.9 1514.2,207.0 1515.2,203.1 1516.3,199.3 1517.4,195.5 1518.4,191.7 1519.5,188.0 1520.5,184.4 1521.6,180.8 1522.7,177.3 1523.7,173.9 1524.8,170.5 1525.8,167.3 1526.9,164.1 1528.0,161.1 1529.0,158.2 1530.1,155.4 1531.2,152.7 1532.2,150.1 1533.3,147.7 1534.3,145.4 1535.4,143.2 1536.5,141.2 1537.5,139.3 1538.6,137.6 1539.6,136.1 1540.7,134.7 1541.8,133.4 1542.8,132.3 1543.9,131.4 1545.0,130.7 1546.0,130.1 1547.1,129.6 1548.1,129.4 1549.2,129.3 1550.3,129.4 1551.3,129.6 1552.4,130.1 1553.4,130.7 1554.5,131.4 1555.6,132.3 1556.6,133.4 1557.7,134.7 1558.8,136.1 1559.8,137.6 1560.9,139.3 1561.9,141.2 1563.0,143.2 1564.1,145.4 1565.1,147.7 1566.2,150.1 1567.2,152.7 1568.3,155.4 1569.4,158.2 1570.4,161.1 1571.5,164.1 1572.6,167.3 1573.6,170.5 1574.7,173.9 1575.7,177.3 1576.8,180.8 1577.9,184.4 1578.9,188.0 1580.0,191.7 1581.0,195.5 1582.1,199.3 1583.2,203.1 1584.2,207.0 1585.3,210.9 1586.4,214.9 1587.4,218.8 1588.5,222.8 1589.5,226.7 1590.6,230.7 1591.7,234.6 1592.7,238.6 1593.8,242.5 1594.8,246.3 1595.9,250.2 1597.0,253.9 1598.0,257.7 1599.1,261.3 1600.2,265.0 1601.2,268.5 1602.3,272.0 1603.3,275.4 1604.4,278.7 1605.5,281.9 1606.5,285.0 1607.6,288.0 1608.6,291.0 1609.7,293.8 1610.8,296.5 1611.8,299.1 1612.9,301.5 1614.0,303.9 1615.0,306.1 1616.1,308.2 1617.1,310.2 1618.2,312.1 1619.3,313.8 1620.3,315.4 1621.4,316.9 1622.4,318.2 1623.5,319.4 1624.6,320.4 1625.6,321.4 1626.7,322.1 1627.8,322.8 1628.8,323.3 1629.9,323.7 1630.9,324.0 1632.0,324.1 1633.1,324.1 1634.1,324.0 1635.2,323.8 1636.2,323.4 1637.3,323.0 1638.4,322.4 1639.4,321.7 1640.5,320.9 1641.6,320.0 1642.6,319.1 1643.7,318.0 1644.7,316.8 1645.8,315.5 1646.9,314.2 1647.9,312.8 1649.0,311.3 1650.0,309.8 1651.1,308.1 1652.2,306.5 1653.2,304.8 1654.3,303.0 1655.4,301.2 1656.4,299.3 1657.5,297.5 1658.5,295.6 1659.6,293.7 1660.7,291.7 1661.7,289.8 1662.8,287.8 1663.8,285.9 1664.9,283.9 1666.0,282.0 1667.0,280.1 1668.1,278.2 1669.1,276.3 1670.2,274.4 1671.3,272.6 1672.3,270.8 1673.4,269.1 1674.5,267.4 1675.5,265.8 1676.6,264.2 1677.6,262.6 1678.7,261.1 1679.8,259.7 1680.8,258.4 1681.9,257.1 1682.9,255.9 1684.0,254.7 1685.1,253.6 1686.1,252.6 1687.2,251.7 1688.3,250.9 1689.3,250.1 1690.4,249.4 1691.4,248.8 1692.5,248.3 1693.6,247.8 1694.6,247.5 1695.7,247.2 1696.7,247.0 1697.8,246.9 1698.9,246.9 1699.9,246.9 1701.0,247.0 1702.1,247.2 1703.1,247.5 1704.2,247.8 1705.2,248.3 1706.3,248.8 1707.4,249.3 1708.4,249.9 1709.5,250.6 1710.5,251.4 1711.6,252.2 1712.7,253.0 1713.7,253.9 1714.8,254.9 1715.9,255.9 1716.9,256.9 1718.0,258.0 1719.0,259.1 1720.1,260.3 1721.2,261.4 1722.2,262.6 1723.3,263.8 1724.3,265.1 1725.4,266.3 1726.5,267.6 1727.5,268.9 1728.6,270.1 1729.7,271.4 1730.7,272.7 1731.8,273.9 1732.8,275.2 1733.9,276.4 1735.0,277.6 1736.0,278.8 1737.1,280.0 1738.1,281.2 1739.2,282.3 1740.3,283.4 1741.3,284.4 1742.4,285.4 1743.5,286.4 1744.5,287.3 1745.6,288.2 1746.6,289.1 1747.7,289.9 1748.8,290.6 1749.8,291.3 1750.9,291.9 1751.9,292.5 1753.0,293.1 1754.1,293.5 1755.1,294.0 1756.2,294.3 1757.3,294.6 1758.3,294.9 1759.4,295.1 1760.4,295.2 1761.5,295.3"/><path d="M1340.9 289.4l5.3 5.3l-5.3 5.3l-5.3 -5.3zM1350.0 285.1l5.3 5.3l-5.3 5.3l-5.3 -5.3zM1359.1 277.1l5.3 5.3l-5.3 5.3l-5.3 -5.3zM1368.1 266.9l5.3 5.3l-5.3 5.3l-5.3 -5.3zM1377.2 256.2l5.3 5.3l-5.3 5.3l-5.3 -5.3zM1386.2 247.3l5.3 5.3l-5.3 5.3l-5.3 -5.3zM1395.3 242.2l5.3 5.3l-5.3 5.3l-5.3 -5.3zM1404.3 242.4l5.3 5.3l-5.3 5.3l-5.3 -5.3zM1413.4 248.4l5.3 5.3l-5.3 5.3l-5.3 -5.3zM1422.4 259.8l5.3 5.3l-5.3 5.3l-5.3 -5.3zM1431.5 275.0l5.3 5.3l-5.3 5.3l-5.3 -5.3zM1440.5 291.5l5.3 5.3l-5.3 5.3l-5.3 -5.3zM1449.6 306.3l5.3 5.3l-5.3 5.3l-5.3 -5.3zM1458.7 316.2l5.3 5.3l-5.3 5.3l-5.3 -5.3zM1467.7 318.6l5.3 5.3l-5.3 5.3l-5.3 -5.3zM1476.8 311.9l5.3 5.3l-5.3 5.3l-5.3 -5.3zM1485.8 295.5l5.3 5.3l-5.3 5.3l-5.3 -5.3zM1494.9 270.7l5.3 5.3l-5.3 5.3l-5.3 -5.3zM1503.9 239.7l5.3 5.3l-5.3 5.3l-5.3 -5.3zM1513.0 206.1l5.3 5.3l-5.3 5.3l-5.3 -5.3zM1522.0 174.0l5.3 5.3l-5.3 5.3l-5.3 -5.3zM1531.1 147.5l5.3 5.3l-5.3 5.3l-5.3 -5.3zM1540.1 130.1l5.3 5.3l-5.3 5.3l-5.3 -5.3zM1549.2 124.0l5.3 5.3l-5.3 5.3l-5.3 -5.3zM1558.3 130.1l5.3 5.3l-5.3 5.3l-5.3 -5.3zM1567.3 147.5l5.3 5.3l-5.3 5.3l-5.3 -5.3zM1576.4 174.0l5.3 5.3l-5.3 5.3l-5.3 -5.3zM1585.4 206.1l5.3 5.3l-5.3 5.3l-5.3 -5.3zM1594.5 239.7l5.3 5.3l-5.3 5.3l-5.3 -5.3zM1603.5 270.7l5.3 5.3l-5.3 5.3l-5.3 -5.3zM1612.6 295.5l5.3 5.3l-5.3 5.3l-5.3 -5.3zM1621.6 311.9l5.3 5.3l-5.3 5.3l-5.3 -5.3zM1630.7 318.6l5.3 5.3l-5.3 5.3l-5.3 -5.3zM1639.7 316.2l5.3 5.3l-5.3 5.3l-5.3 -5.3zM1648.8 306.3l5.3 5.3l-5.3 5.3l-5.3 -5.3zM1657.9 291.5l5.3 5.3l-5.3 5.3l-5.3 -5.3zM1666.9 275.0l5.3 5.3l-5.3 5.3l-5.3 -5.3zM1676.0 259.8l5.3 5.3l-5.3 5.3l-5.3 -5.3zM1685.0 248.4l5.3 5.3l-5.3 5.3l-5.3 -5.3zM1694.1 242.4l5.3 5.3l-5.3 5.3l-5.3 -5.3zM1703.1 242.2l5.3 5.3l-5.3 5.3l-5.3 -5.3zM1712.2 247.3l5.3 5.3l-5.3 5.3l-5.3 -5.3zM1721.2 256.2l5.3 5.3l-5.3 5.3l-5.3 -5.3zM1730.3 266.9l5.3 5.3l-5.3 5.3l-5.3 -5.3zM1739.3 277.1l5.3 5.3l-5.3 5.3l-5.3 -5.3zM1748.4 285.1l5.3 5.3l-5.3 5.3l-5.3 -5.3zM1757.5 289.4l5.3 5.3l-5.3 5.3l-5.3 -5.3z" fill="#ff5a5a" fill-opacity="0.35" stroke="#f00" stroke-width="2.3" clip-path="url(#cpC)"/><polyline fill="none" stroke="#000" stroke-width="3" points="1336.9,280.4 1338.0,279.8 1339.0,279.2 1340.1,278.6 1341.1,278.0 1342.2,277.3 1343.3,276.7 1344.3,276.0 1345.4,275.3 1346.5,274.6 1347.5,273.9 1348.6,273.2 1349.6,272.5 1350.7,271.8 1351.8,271.1 1352.8,270.3 1353.9,269.6 1354.9,268.9 1356.0,268.1 1357.1,267.4 1358.1,266.7 1359.2,265.9 1360.3,265.2 1361.3,264.5 1362.4,263.8 1363.4,263.1 1364.5,262.4 1365.6,261.7 1366.6,261.1 1367.7,260.4 1368.7,259.8 1369.8,259.2 1370.9,258.6 1371.9,258.0 1373.0,257.5 1374.1,256.9 1375.1,256.4 1376.2,256.0 1377.2,255.5 1378.3,255.1 1379.4,254.7 1380.4,254.4 1381.5,254.1 1382.5,253.8 1383.6,253.5 1384.7,253.3 1385.7,253.1 1386.8,253.0 1387.9,252.9 1388.9,252.9 1390.0,252.9 1391.0,252.9 1392.1,253.0 1393.2,253.1 1394.2,253.3 1395.3,253.5 1396.3,253.8 1397.4,254.1 1398.5,254.4 1399.5,254.9 1400.6,255.3 1401.7,255.8 1402.7,256.4 1403.8,257.0 1404.8,257.6 1405.9,258.3 1407.0,259.1 1408.0,259.9 1409.1,260.7 1410.1,261.6 1411.2,262.5 1412.3,263.5 1413.3,264.5 1414.4,265.5 1415.5,266.6 1416.5,267.8 1417.6,268.9 1418.6,270.1 1419.7,271.4 1420.8,272.6 1421.8,273.9 1422.9,275.3 1423.9,276.6 1425.0,278.0 1426.1,279.4 1427.1,280.8 1428.2,282.3 1429.3,283.7 1430.3,285.2 1431.4,286.7 1432.4,288.2 1433.5,289.6 1434.6,291.1 1435.6,292.6 1436.7,294.1 1437.7,295.6 1438.8,297.0 1439.9,298.5 1440.9,299.9 1442.0,301.3 1443.0,302.7 1444.1,304.1 1445.2,305.4 1446.2,306.7 1447.3,308.0 1448.4,309.2 1449.4,310.4 1450.5,311.5 1451.5,312.6 1452.6,313.6 1453.7,314.6 1454.7,315.5 1455.8,316.4 1456.8,317.1 1457.9,317.9 1459.0,318.5 1460.0,319.1 1461.1,319.6 1462.2,320.0 1463.2,320.4 1464.3,320.6 1465.3,320.8 1466.4,320.9 1467.5,320.9 1468.5,320.8 1469.6,320.6 1470.6,320.4 1471.7,320.0 1472.8,319.5 1473.8,319.0 1474.9,318.3 1476.0,317.6 1477.0,316.7 1478.1,315.7 1479.1,314.7 1480.2,313.5 1481.3,312.3 1482.3,310.9 1483.4,309.4 1484.4,307.8 1485.5,306.1 1486.6,304.3 1487.6,302.4 1488.7,300.3 1489.8,298.2 1490.8,295.9 1491.9,293.5 1492.9,291.0 1494.0,288.4 1495.1,285.7 1496.1,282.8 1497.2,279.8 1498.2,276.7 1499.3,273.5 1500.4,270.2 1501.4,266.8 1502.5,263.2 1503.6,259.6 1504.6,255.9 1505.7,252.1 1506.7,248.2 1507.8,244.3 1508.9,240.3 1509.9,236.2 1511.0,232.1 1512.0,228.0 1513.1,223.8 1514.2,219.6 1515.2,215.4 1516.3,211.2 1517.4,207.1 1518.4,202.9 1519.5,198.8 1520.5,194.7 1521.6,190.7 1522.7,186.7 1523.7,182.8 1524.8,179.0 1525.8,175.3 1526.9,171.7 1528.0,168.2 1529.0,164.8 1530.1,161.5 1531.2,158.3 1532.2,155.2 1533.3,152.3 1534.3,149.5 1535.4,146.9 1536.5,144.4 1537.5,142.1 1538.6,139.9 1539.6,138.0 1540.7,136.2 1541.8,134.6 1542.8,133.2 1543.9,132.0 1545.0,131.1 1546.0,130.3 1547.1,129.7 1548.1,129.4 1549.2,129.3 1550.3,129.4 1551.3,129.7 1552.4,130.3 1553.4,131.1 1554.5,132.0 1555.6,133.2 1556.6,134.6 1557.7,136.2 1558.8,138.0 1559.8,139.9 1560.9,142.1 1561.9,144.4 1563.0,146.9 1564.1,149.5 1565.1,152.3 1566.2,155.2 1567.2,158.3 1568.3,161.5 1569.4,164.8 1570.4,168.2 1571.5,171.7 1572.6,175.3 1573.6,179.0 1574.7,182.8 1575.7,186.7 1576.8,190.7 1577.9,194.7 1578.9,198.8 1580.0,202.9 1581.0,207.1 1582.1,211.2 1583.2,215.4 1584.2,219.6 1585.3,223.8 1586.4,228.0 1587.4,232.1 1588.5,236.2 1589.5,240.3 1590.6,244.3 1591.7,248.2 1592.7,252.1 1593.8,255.9 1594.8,259.6 1595.9,263.2 1597.0,266.8 1598.0,270.2 1599.1,273.5 1600.2,276.7 1601.2,279.8 1602.3,282.8 1603.3,285.7 1604.4,288.4 1605.5,291.0 1606.5,293.5 1607.6,295.9 1608.6,298.2 1609.7,300.3 1610.8,302.4 1611.8,304.3 1612.9,306.1 1614.0,307.8 1615.0,309.4 1616.1,310.9 1617.1,312.3 1618.2,313.5 1619.3,314.7 1620.3,315.7 1621.4,316.7 1622.4,317.6 1623.5,318.3 1624.6,319.0 1625.6,319.5 1626.7,320.0 1627.8,320.4 1628.8,320.6 1629.9,320.8 1630.9,320.9 1632.0,320.9 1633.1,320.8 1634.1,320.6 1635.2,320.4 1636.2,320.0 1637.3,319.6 1638.4,319.1 1639.4,318.5 1640.5,317.9 1641.6,317.1 1642.6,316.4 1643.7,315.5 1644.7,314.6 1645.8,313.6 1646.9,312.6 1647.9,311.5 1649.0,310.4 1650.0,309.2 1651.1,308.0 1652.2,306.7 1653.2,305.4 1654.3,304.1 1655.4,302.7 1656.4,301.3 1657.5,299.9 1658.5,298.5 1659.6,297.0 1660.7,295.6 1661.7,294.1 1662.8,292.6 1663.8,291.1 1664.9,289.6 1666.0,288.2 1667.0,286.7 1668.1,285.2 1669.1,283.7 1670.2,282.3 1671.3,280.8 1672.3,279.4 1673.4,278.0 1674.5,276.6 1675.5,275.3 1676.6,273.9 1677.6,272.6 1678.7,271.4 1679.8,270.1 1680.8,268.9 1681.9,267.8 1682.9,266.6 1684.0,265.5 1685.1,264.5 1686.1,263.5 1687.2,262.5 1688.3,261.6 1689.3,260.7 1690.4,259.9 1691.4,259.1 1692.5,258.3 1693.6,257.6 1694.6,257.0 1695.7,256.4 1696.7,255.8 1697.8,255.3 1698.9,254.9 1699.9,254.4 1701.0,254.1 1702.1,253.8 1703.1,253.5 1704.2,253.3 1705.2,253.1 1706.3,253.0 1707.4,252.9 1708.4,252.9 1709.5,252.9 1710.5,252.9 1711.6,253.0 1712.7,253.1 1713.7,253.3 1714.8,253.5 1715.9,253.8 1716.9,254.1 1718.0,254.4 1719.0,254.7 1720.1,255.1 1721.2,255.5 1722.2,256.0 1723.3,256.4 1724.3,256.9 1725.4,257.5 1726.5,258.0 1727.5,258.6 1728.6,259.2 1729.7,259.8 1730.7,260.4 1731.8,261.1 1732.8,261.7 1733.9,262.4 1735.0,263.1 1736.0,263.8 1737.1,264.5 1738.1,265.2 1739.2,265.9 1740.3,266.7 1741.3,267.4 1742.4,268.1 1743.5,268.9 1744.5,269.6 1745.6,270.3 1746.6,271.1 1747.7,271.8 1748.8,272.5 1749.8,273.2 1750.9,273.9 1751.9,274.6 1753.0,275.3 1754.1,276.0 1755.1,276.7 1756.2,277.3 1757.3,278.0 1758.3,278.6 1759.4,279.2 1760.4,279.8 1761.5,280.4"/><rect x="1336.8" y="41.3" width="424.9" height="321.2" fill="none" stroke="#bbb" stroke-width="1"/><path d="M1336.5 41.3V362.5H1761.7" fill="none" stroke="#6e6e6e" stroke-width="1.9"/><g stroke="#6e6e6e" stroke-width="1.4"><line x1="1443.0" y1="362.5" x2="1443.0" y2="358.0"/><line x1="1549.2" y1="362.5" x2="1549.2" y2="358.0"/><line x1="1655.4" y1="362.5" x2="1655.4" y2="358.0"/><line x1="1336.8" y1="348.1" x2="1341.3" y2="348.1"/><line x1="1336.8" y1="275.2" x2="1341.3" y2="275.2"/><line x1="1336.8" y1="202.2" x2="1341.3" y2="202.2"/><line x1="1336.8" y1="129.3" x2="1341.3" y2="129.3"/></g><rect x="1336.2" y="41" width="426" height="69.2" rx="1.2" fill="#fff" stroke="#666" stroke-width="1.5"/><line x1="1341.5" y1="63.8" x2="1387" y2="63.8" stroke="#f00" stroke-width="2.6"/><path d="M1364.2 58.5l5.3 5.3l-5.3 5.3l-5.3 -5.3z" fill="#ff5a5a" fill-opacity="0.35" stroke="#f00" stroke-width="2.3"/><line x1="1341.5" y1="97.5" x2="1387" y2="97.5" stroke="#000" stroke-width="2.6"/><g font-family='"Liberation Serif", "DejaVu Serif", serif' font-size="18.5" fill="#222"><text x="1397.3" y="61" text-anchor="middle">3</text><line x1="1391.5" y1="65.6" x2="1403" y2="65.6" stroke="#222" stroke-width="1"/><text x="1397.3" y="83.4" text-anchor="middle">2</text><text x="1405.5" y="71" textLength="90.5" lengthAdjust="spacingAndGlyphs">[<tspan font-style="italic">j</tspan><tspan font-size="13" dy="3">0</tspan><tspan dy="-3">(</tspan><tspan font-style="italic">k</tspan>Δ<tspan font-style="italic">x</tspan>) −</text><text x="1507" y="60.6" textLength="68.7" lengthAdjust="spacingAndGlyphs"><tspan font-style="italic">j</tspan><tspan font-size="13" dy="3">1</tspan><tspan dy="-3">(</tspan><tspan font-style="italic">k</tspan>Δ<tspan font-style="italic">x</tspan>)</text><line x1="1506" y1="66.3" x2="1576" y2="66.3" stroke="#222" stroke-width="1"/><text x="1522" y="83.4" textLength="37.5" lengthAdjust="spacingAndGlyphs"><tspan font-style="italic">k</tspan>Δ<tspan font-style="italic">x</tspan></text><text x="1577" y="71" textLength="179.5" lengthAdjust="spacingAndGlyphs">] for <tspan font-style="italic">k</tspan> = 3808 rad/m</text><text x="1391" y="102.2" textLength="98.5" lengthAdjust="spacingAndGlyphs">Mean ± SE</text></g><g font-family='"Liberation Sans", Arial, sans-serif' font-size="21" fill="#222"><text x="1326.3" y="64.6" text-anchor="end">1.5</text><text x="1326.3" y="137.6" text-anchor="end">1</text><text x="1326.3" y="210.6" text-anchor="end">0.5</text><text x="1326.3" y="283.5" text-anchor="end">0</text><text x="1326.3" y="356.4" text-anchor="end">-0.5</text><text x="1336.1" y="393.4" text-anchor="middle">-2</text><text x="1442.2" y="393.4" text-anchor="middle">-1</text><text x="1549.2" y="393.4" text-anchor="middle">0</text><text x="1655.4" y="393.4" text-anchor="middle">1</text><text x="1761.5" y="393.4" text-anchor="middle">2</text><text x="1549.8" y="426.6" text-anchor="middle" font-size="24.8">Δr (mm)</text><text transform="translate(1280,202) rotate(-90)" text-anchor="middle" font-size="24.9">Auto-correlation (Arb.)</text></g>
<g font-family='"Liberation Sans", Arial, sans-serif' font-weight="bold" font-size="39.5" fill="#111"><text x="2.5" y="31">A</text><text x="811.3" y="31.3">B</text><text x="1258.2" y="32.6">C</text></g>
</svg>
</body></html>
